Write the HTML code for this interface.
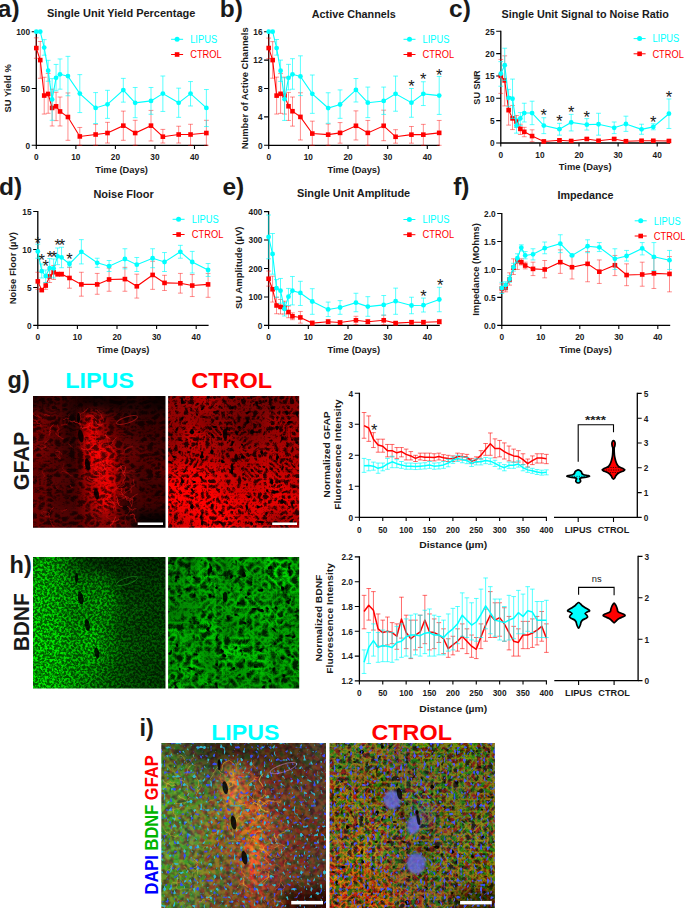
<!DOCTYPE html>
<html><head><meta charset="utf-8"><style>
html,body{margin:0;padding:0;background:#fff;width:685px;height:908px;overflow:hidden}
svg{display:block}
text{font-family:"Liberation Sans",sans-serif}
</style></head><body>
<svg width="685" height="908" viewBox="0 0 685 908">
<rect width="685" height="908" fill="#fff"/>
<text x="-2.2" y="16.6" font-size="24.5" font-weight="bold" text-anchor="start" dominant-baseline="alphabetic" fill="#1a1a1a">a)</text>
<text x="219.8" y="16.6" font-size="24.5" font-weight="bold" text-anchor="start" dominant-baseline="alphabetic" fill="#1a1a1a">b)</text>
<text x="449" y="17.1" font-size="24.5" font-weight="bold" text-anchor="start" dominant-baseline="alphabetic" fill="#1a1a1a">c)</text>
<text x="-1" y="194.5" font-size="24.5" font-weight="bold" text-anchor="start" dominant-baseline="alphabetic" fill="#1a1a1a">d)</text>
<text x="222.4" y="195.4" font-size="24.5" font-weight="bold" text-anchor="start" dominant-baseline="alphabetic" fill="#1a1a1a">e)</text>
<text x="453.2" y="194.5" font-size="24.5" font-weight="bold" text-anchor="start" dominant-baseline="alphabetic" fill="#1a1a1a">f)</text>
<text x="7.6" y="388.2" font-size="23.5" font-weight="bold" text-anchor="start" dominant-baseline="alphabetic" fill="#1a1a1a">g)</text>
<text x="9.6" y="573.2" font-size="23.5" font-weight="bold" text-anchor="start" dominant-baseline="alphabetic" fill="#1a1a1a">h)</text>
<text x="139.6" y="736" font-size="23.5" font-weight="bold" text-anchor="start" dominant-baseline="alphabetic" fill="#1a1a1a">i)</text>
<path d="M36.3 31.1V145.3H207.6" stroke="#000" stroke-width="1.3" fill="none"/>
<path d="M31.7 145.3H36.3M31.7 88.5H36.3M31.7 31.7H36.3M36.3 145.3V148.9M75.85 145.3V148.9M115.4 145.3V148.9M154.95 145.3V148.9M194.5 145.3V148.9" stroke="#000" stroke-width="1.1" fill="none"/>
<text x="30.1" y="145.6" font-size="8.3" font-weight="bold" text-anchor="end" dominant-baseline="central" fill="#1a1a1a">0</text>
<text x="30.1" y="88.8" font-size="8.3" font-weight="bold" text-anchor="end" dominant-baseline="central" fill="#1a1a1a">50</text>
<text x="30.1" y="32" font-size="8.3" font-weight="bold" text-anchor="end" dominant-baseline="central" fill="#1a1a1a">100</text>
<text x="36.3" y="157.2" font-size="8.3" font-weight="bold" text-anchor="middle" dominant-baseline="central" fill="#1a1a1a">0</text>
<text x="75.85" y="157.2" font-size="8.3" font-weight="bold" text-anchor="middle" dominant-baseline="central" fill="#1a1a1a">10</text>
<text x="115.4" y="157.2" font-size="8.3" font-weight="bold" text-anchor="middle" dominant-baseline="central" fill="#1a1a1a">20</text>
<text x="154.95" y="157.2" font-size="8.3" font-weight="bold" text-anchor="middle" dominant-baseline="central" fill="#1a1a1a">30</text>
<text x="194.5" y="157.2" font-size="8.3" font-weight="bold" text-anchor="middle" dominant-baseline="central" fill="#1a1a1a">40</text>
<path d="M36.3 37.83V58.28M33.9 37.83H38.7M33.9 58.28H38.7M40.25 41.47V78.28M37.85 41.47H42.65M37.85 78.28H42.65M44.21 77.25V114.06M41.81 77.25H46.61M41.81 114.06H46.61M48.16 73.5V113.26M45.77 73.5H50.56M45.77 113.26H50.56M52.12 89.18V125.99M49.72 89.18H54.52M49.72 125.99H54.52M56.07 92.25V120.65M53.67 92.25H58.47M53.67 120.65H58.47M60.03 97.02V125.99M57.63 97.02H62.43M57.63 125.99H62.43M67.94 92.93V140.3M65.54 92.93H70.34M65.54 140.3H70.34M79.81 127.46V145.3M77.41 127.46H82.21M77.41 145.3H82.21M95.62 124.28V145.3M93.22 124.28H98.03M93.22 145.3H98.03M107.49 122.35V143.03M105.09 122.35H109.89M105.09 143.03H109.89M123.31 111.11V140.3M120.91 111.11H125.71M120.91 140.3H125.71M135.18 120.31V145.3M132.78 120.31H137.58M132.78 145.3H137.58M151 110.42V140.98M148.59 110.42H153.4M148.59 140.98H153.4M162.86 129.4V143.03M160.46 129.4H165.26M160.46 143.03H165.26M178.68 126.22V143.03M176.28 126.22H181.08M176.28 143.03H181.08M190.55 124.28V145.3M188.15 124.28H192.95M188.15 145.3H192.95M206.37 120.31V145.3M203.97 120.31H208.77M203.97 145.3H208.77" stroke="#ff0000" stroke-opacity="0.45" stroke-width="1" fill="none"/>
<polyline points="36.3,48.06 40.25,60.1 44.21,95.54 48.16,93.95 52.12,107.93 56.07,106.34 60.03,111.45 67.94,117.01 79.81,136.44 95.62,134.51 107.49,133.03 123.31,125.65 135.18,133.03 151,125.65 162.86,136.67 178.68,134.51 190.55,134.51 206.37,133.03" stroke="#ff0000" stroke-width="1.1" fill="none"/>
<rect x="34" y="45.76" width="4.6" height="4.6" fill="#ff0000"/>
<rect x="37.95" y="57.8" width="4.6" height="4.6" fill="#ff0000"/>
<rect x="41.91" y="93.24" width="4.6" height="4.6" fill="#ff0000"/>
<rect x="45.87" y="91.65" width="4.6" height="4.6" fill="#ff0000"/>
<rect x="49.82" y="105.63" width="4.6" height="4.6" fill="#ff0000"/>
<rect x="53.77" y="104.04" width="4.6" height="4.6" fill="#ff0000"/>
<rect x="57.73" y="109.15" width="4.6" height="4.6" fill="#ff0000"/>
<rect x="65.64" y="114.71" width="4.6" height="4.6" fill="#ff0000"/>
<rect x="77.51" y="134.14" width="4.6" height="4.6" fill="#ff0000"/>
<rect x="93.33" y="132.21" width="4.6" height="4.6" fill="#ff0000"/>
<rect x="105.19" y="130.73" width="4.6" height="4.6" fill="#ff0000"/>
<rect x="121.01" y="123.35" width="4.6" height="4.6" fill="#ff0000"/>
<rect x="132.88" y="130.73" width="4.6" height="4.6" fill="#ff0000"/>
<rect x="148.69" y="123.35" width="4.6" height="4.6" fill="#ff0000"/>
<rect x="160.56" y="134.37" width="4.6" height="4.6" fill="#ff0000"/>
<rect x="176.38" y="132.21" width="4.6" height="4.6" fill="#ff0000"/>
<rect x="188.25" y="132.21" width="4.6" height="4.6" fill="#ff0000"/>
<rect x="204.06" y="130.73" width="4.6" height="4.6" fill="#ff0000"/>
<path d="M44.21 39.65V55.22M41.81 39.65H46.61M41.81 55.22H46.61M48.16 60.33V81.23M45.77 60.33H50.56M45.77 81.23H50.56M52.12 78.62V120.31M49.72 78.62H54.52M49.72 120.31H54.52M56.07 64.42V90.77M53.67 64.42H58.47M53.67 90.77H58.47M60.03 58.96V89.18M57.63 58.96H62.43M57.63 89.18H62.43M67.94 56.35V95.77M65.54 56.35H70.34M65.54 95.77H70.34M79.81 74.64V112.58M77.41 74.64H82.21M77.41 112.58H82.21M95.62 92.59V123.49M93.22 92.59H98.03M93.22 123.49H98.03M107.49 90.32V118.38M105.09 90.32H109.89M105.09 118.38H109.89M123.31 78.39V102.13M120.91 78.39H125.71M120.91 102.13H125.71M135.18 87.48V117.7M132.78 87.48H137.58M132.78 117.7H137.58M151 87.48V114.29M148.59 87.48H153.4M148.59 114.29H153.4M162.86 76V111.45M160.46 76H165.26M160.46 111.45H165.26M178.68 88.16V117.35M176.28 88.16H181.08M176.28 117.35H181.08M190.55 81.57V105.99M188.15 81.57H192.95M188.15 105.99H192.95M206.37 89.52V126.56M203.97 89.52H208.77M203.97 126.56H208.77" stroke="#00ffff" stroke-opacity="0.65" stroke-width="1" fill="none"/>
<polyline points="36.3,31.7 40.25,31.7 44.21,47.6 48.16,70.66 52.12,99.41 56.07,77.82 60.03,74.3 67.94,76.12 79.81,93.61 95.62,107.93 107.49,104.29 123.31,90.09 135.18,102.81 151,100.88 162.86,93.61 178.68,102.81 190.55,93.61 206.37,107.93" stroke="#00ffff" stroke-width="1.1" fill="none"/>
<circle cx="36.3" cy="31.7" r="2.4" fill="#00ffff"/>
<circle cx="40.25" cy="31.7" r="2.4" fill="#00ffff"/>
<circle cx="44.21" cy="47.6" r="2.4" fill="#00ffff"/>
<circle cx="48.16" cy="70.66" r="2.4" fill="#00ffff"/>
<circle cx="52.12" cy="99.41" r="2.4" fill="#00ffff"/>
<circle cx="56.07" cy="77.82" r="2.4" fill="#00ffff"/>
<circle cx="60.03" cy="74.3" r="2.4" fill="#00ffff"/>
<circle cx="67.94" cy="76.12" r="2.4" fill="#00ffff"/>
<circle cx="79.81" cy="93.61" r="2.4" fill="#00ffff"/>
<circle cx="95.62" cy="107.93" r="2.4" fill="#00ffff"/>
<circle cx="107.49" cy="104.29" r="2.4" fill="#00ffff"/>
<circle cx="123.31" cy="90.09" r="2.4" fill="#00ffff"/>
<circle cx="135.18" cy="102.81" r="2.4" fill="#00ffff"/>
<circle cx="151" cy="100.88" r="2.4" fill="#00ffff"/>
<circle cx="162.86" cy="93.61" r="2.4" fill="#00ffff"/>
<circle cx="178.68" cy="102.81" r="2.4" fill="#00ffff"/>
<circle cx="190.55" cy="93.61" r="2.4" fill="#00ffff"/>
<circle cx="206.37" cy="107.93" r="2.4" fill="#00ffff"/>
<text x="121.2" y="13.4" font-size="11" font-weight="bold" text-anchor="middle" dominant-baseline="central" fill="#1a1a1a" textLength="148.4" lengthAdjust="spacingAndGlyphs">Single Unit Yield Percentage</text>
<text x="121.6" y="169.7" font-size="9.3" font-weight="bold" text-anchor="middle" dominant-baseline="central" fill="#1a1a1a" textLength="52.7" lengthAdjust="spacingAndGlyphs">Time (Days)</text>
<text transform="translate(7.5 88.3) rotate(-90)" x="0" y="0" font-size="9.3" font-weight="bold" text-anchor="middle" dominant-baseline="central" fill="#1a1a1a" textLength="48.5" lengthAdjust="spacingAndGlyphs">SU Yield %</text>
<path d="M171.1 39.3H183.1" stroke="#00ffff" stroke-width="1"/>
<circle cx="177.1" cy="39.3" r="2.5" fill="#00ffff"/>
<path d="M171.1 54.5H183.1" stroke="#ff0000" stroke-width="1"/>
<rect x="174.8" y="52.2" width="4.6" height="4.6" fill="#ff0000"/>
<text x="190.2" y="39.5" font-size="10" font-weight="normal" text-anchor="start" dominant-baseline="central" fill="#00ffff" textLength="26.9" lengthAdjust="spacingAndGlyphs">LIPUS</text>
<text x="190.2" y="54.7" font-size="10" font-weight="normal" text-anchor="start" dominant-baseline="central" fill="#ff0000" textLength="31.6" lengthAdjust="spacingAndGlyphs">CTROL</text>
<path d="M268.7 31.1V145.3H439.6" stroke="#000" stroke-width="1.3" fill="none"/>
<path d="M264.1 145.3H268.7M264.1 116.9H268.7M264.1 88.5H268.7M264.1 60.1H268.7M264.1 31.7H268.7M268.7 145.3V148.9M308.35 145.3V148.9M348 145.3V148.9M387.65 145.3V148.9M427.3 145.3V148.9" stroke="#000" stroke-width="1.1" fill="none"/>
<text x="262.5" y="145.6" font-size="8.3" font-weight="bold" text-anchor="end" dominant-baseline="central" fill="#1a1a1a">0</text>
<text x="262.5" y="117.2" font-size="8.3" font-weight="bold" text-anchor="end" dominant-baseline="central" fill="#1a1a1a">4</text>
<text x="262.5" y="88.8" font-size="8.3" font-weight="bold" text-anchor="end" dominant-baseline="central" fill="#1a1a1a">8</text>
<text x="262.5" y="60.4" font-size="8.3" font-weight="bold" text-anchor="end" dominant-baseline="central" fill="#1a1a1a">12</text>
<text x="262.5" y="32" font-size="8.3" font-weight="bold" text-anchor="end" dominant-baseline="central" fill="#1a1a1a">16</text>
<text x="268.7" y="157.2" font-size="8.3" font-weight="bold" text-anchor="middle" dominant-baseline="central" fill="#1a1a1a">0</text>
<text x="308.35" y="157.2" font-size="8.3" font-weight="bold" text-anchor="middle" dominant-baseline="central" fill="#1a1a1a">10</text>
<text x="348" y="157.2" font-size="8.3" font-weight="bold" text-anchor="middle" dominant-baseline="central" fill="#1a1a1a">20</text>
<text x="387.65" y="157.2" font-size="8.3" font-weight="bold" text-anchor="middle" dominant-baseline="central" fill="#1a1a1a">30</text>
<text x="427.3" y="157.2" font-size="8.3" font-weight="bold" text-anchor="middle" dominant-baseline="central" fill="#1a1a1a">40</text>
<path d="M268.7 38.09V58.68M266.3 38.09H271.1M266.3 58.68H271.1M272.66 41.64V78.21M270.26 41.64H275.06M270.26 78.21H275.06M276.63 77.14V114.06M274.23 77.14H279.03M274.23 114.06H279.03M280.59 73.59V113.35M278.19 73.59H282.99M278.19 113.35H282.99M284.56 77.14V114.06M282.16 77.14H286.96M282.16 114.06H286.96M288.52 92.41V120.45M286.12 92.41H290.92M286.12 120.45H290.92M292.49 97.02V126.13M290.09 97.02H294.89M290.09 126.13H294.89M300.42 92.76V139.98M298.02 92.76H302.82M298.02 139.98H302.82M312.31 121.16V145.3M309.92 121.16H314.71M309.92 145.3H314.71M328.17 124V145.3M325.77 124H330.57M325.77 145.3H330.57M340.07 122.58V143.17M337.67 122.58H342.47M337.67 143.17H342.47M355.93 110.87V139.98M353.53 110.87H358.33M353.53 139.98H358.33M367.82 120.45V145.3M365.43 120.45H370.22M365.43 145.3H370.22M383.69 110.16V140.69M381.29 110.16H386.08M381.29 140.69H386.08M395.58 129.68V143.17M393.18 129.68H397.98M393.18 143.17H397.98M411.44 126.49V143.17M409.04 126.49H413.84M409.04 143.17H413.84M423.33 124.36V145.3M420.94 124.36H425.73M420.94 145.3H425.73M439.19 120.45V145.3M436.8 120.45H441.59M436.8 145.3H441.59" stroke="#ff0000" stroke-opacity="0.45" stroke-width="1" fill="none"/>
<polyline points="268.7,48.03 272.66,60.1 276.63,95.6 280.59,93.83 284.56,95.6 288.52,106.25 292.49,111.22 300.42,116.9 312.31,133.59 328.17,134.65 340.07,132.88 355.93,125.78 367.82,132.88 383.69,125.78 395.58,136.78 411.44,134.65 423.33,134.65 439.19,132.88" stroke="#ff0000" stroke-width="1.1" fill="none"/>
<rect x="266.4" y="45.73" width="4.6" height="4.6" fill="#ff0000"/>
<rect x="270.36" y="57.8" width="4.6" height="4.6" fill="#ff0000"/>
<rect x="274.33" y="93.3" width="4.6" height="4.6" fill="#ff0000"/>
<rect x="278.29" y="91.53" width="4.6" height="4.6" fill="#ff0000"/>
<rect x="282.26" y="93.3" width="4.6" height="4.6" fill="#ff0000"/>
<rect x="286.22" y="103.95" width="4.6" height="4.6" fill="#ff0000"/>
<rect x="290.19" y="108.92" width="4.6" height="4.6" fill="#ff0000"/>
<rect x="298.12" y="114.6" width="4.6" height="4.6" fill="#ff0000"/>
<rect x="310.01" y="131.28" width="4.6" height="4.6" fill="#ff0000"/>
<rect x="325.87" y="132.35" width="4.6" height="4.6" fill="#ff0000"/>
<rect x="337.77" y="130.57" width="4.6" height="4.6" fill="#ff0000"/>
<rect x="353.63" y="123.48" width="4.6" height="4.6" fill="#ff0000"/>
<rect x="365.52" y="130.57" width="4.6" height="4.6" fill="#ff0000"/>
<rect x="381.38" y="123.48" width="4.6" height="4.6" fill="#ff0000"/>
<rect x="393.28" y="134.48" width="4.6" height="4.6" fill="#ff0000"/>
<rect x="409.14" y="132.35" width="4.6" height="4.6" fill="#ff0000"/>
<rect x="421.03" y="132.35" width="4.6" height="4.6" fill="#ff0000"/>
<rect x="436.89" y="130.57" width="4.6" height="4.6" fill="#ff0000"/>
<path d="M276.63 39.51V55.13M274.23 39.51H279.03M274.23 55.13H279.03M280.59 60.1V81.4M278.19 60.1H282.99M278.19 81.4H282.99M284.56 77.85V120.45M282.16 77.85H286.96M282.16 120.45H286.96M288.52 64.36V89.92M286.12 64.36H290.92M286.12 89.92H290.92M292.49 58.68V89.21M290.09 58.68H294.89M290.09 89.21H294.89M300.42 55.84V95.6M298.02 55.84H302.82M298.02 95.6H302.82M312.31 75.01V113.35M309.92 75.01H314.71M309.92 113.35H314.71M328.17 92.76V123.29M325.77 92.76H330.57M325.77 123.29H330.57M340.07 89.92V118.32M337.67 89.92H342.47M337.67 118.32H342.47M355.93 78.56V101.99M353.53 78.56H358.33M353.53 101.99H358.33M367.82 87.08V117.61M365.43 87.08H370.22M365.43 117.61H370.22M383.69 87.08V114.42M381.29 87.08H386.08M381.29 114.42H386.08M395.58 76.08V111.22M393.18 76.08H397.98M393.18 111.22H397.98M411.44 88.5V117.26M409.04 88.5H413.84M409.04 117.26H413.84M423.33 81.76V105.54M420.94 81.76H425.73M420.94 105.54H425.73M439.19 76.43V114.42M436.8 76.43H441.59M436.8 114.42H441.59" stroke="#00ffff" stroke-opacity="0.65" stroke-width="1" fill="none"/>
<polyline points="268.7,31.7 272.66,31.7 276.63,48.03 280.59,70.75 284.56,99.15 288.52,77.85 292.49,74.3 300.42,76.43 312.31,93.83 328.17,108.03 340.07,104.48 355.93,89.92 367.82,102.7 383.69,100.93 395.58,93.83 411.44,102.7 423.33,93.83 439.19,95.6" stroke="#00ffff" stroke-width="1.1" fill="none"/>
<circle cx="268.7" cy="31.7" r="2.4" fill="#00ffff"/>
<circle cx="272.66" cy="31.7" r="2.4" fill="#00ffff"/>
<circle cx="276.63" cy="48.03" r="2.4" fill="#00ffff"/>
<circle cx="280.59" cy="70.75" r="2.4" fill="#00ffff"/>
<circle cx="284.56" cy="99.15" r="2.4" fill="#00ffff"/>
<circle cx="288.52" cy="77.85" r="2.4" fill="#00ffff"/>
<circle cx="292.49" cy="74.3" r="2.4" fill="#00ffff"/>
<circle cx="300.42" cy="76.43" r="2.4" fill="#00ffff"/>
<circle cx="312.31" cy="93.83" r="2.4" fill="#00ffff"/>
<circle cx="328.17" cy="108.03" r="2.4" fill="#00ffff"/>
<circle cx="340.07" cy="104.48" r="2.4" fill="#00ffff"/>
<circle cx="355.93" cy="89.92" r="2.4" fill="#00ffff"/>
<circle cx="367.82" cy="102.7" r="2.4" fill="#00ffff"/>
<circle cx="383.69" cy="100.93" r="2.4" fill="#00ffff"/>
<circle cx="395.58" cy="93.83" r="2.4" fill="#00ffff"/>
<circle cx="411.44" cy="102.7" r="2.4" fill="#00ffff"/>
<circle cx="423.33" cy="93.83" r="2.4" fill="#00ffff"/>
<circle cx="439.19" cy="95.6" r="2.4" fill="#00ffff"/>
<text x="411.44" y="91.75" font-size="16.5" font-weight="normal" text-anchor="middle" dominant-baseline="alphabetic" fill="#1a1a1a">*</text>
<text x="423.33" y="84.75" font-size="16.5" font-weight="normal" text-anchor="middle" dominant-baseline="alphabetic" fill="#1a1a1a">*</text>
<text x="439.19" y="80.56" font-size="16.5" font-weight="normal" text-anchor="middle" dominant-baseline="alphabetic" fill="#1a1a1a">*</text>
<text x="353.8" y="13.7" font-size="11" font-weight="bold" text-anchor="middle" dominant-baseline="central" fill="#1a1a1a" textLength="84" lengthAdjust="spacingAndGlyphs">Active Channels</text>
<text x="353.8" y="169.7" font-size="9.3" font-weight="bold" text-anchor="middle" dominant-baseline="central" fill="#1a1a1a" textLength="52.7" lengthAdjust="spacingAndGlyphs">Time (Days)</text>
<text transform="translate(244.6 88.3) rotate(-90)" x="0" y="0" font-size="9.3" font-weight="bold" text-anchor="middle" dominant-baseline="central" fill="#1a1a1a" textLength="121.8" lengthAdjust="spacingAndGlyphs">Number of Active Channels</text>
<path d="M403.5 39.3H415.5" stroke="#00ffff" stroke-width="1"/>
<circle cx="409.5" cy="39.3" r="2.5" fill="#00ffff"/>
<path d="M403.5 54.5H415.5" stroke="#ff0000" stroke-width="1"/>
<rect x="407.2" y="52.2" width="4.6" height="4.6" fill="#ff0000"/>
<text x="422.5" y="39.5" font-size="10" font-weight="normal" text-anchor="start" dominant-baseline="central" fill="#00ffff" textLength="26.9" lengthAdjust="spacingAndGlyphs">LIPUS</text>
<text x="422.5" y="54.7" font-size="10" font-weight="normal" text-anchor="start" dominant-baseline="central" fill="#ff0000" textLength="31.6" lengthAdjust="spacingAndGlyphs">CTROL</text>
<path d="M500.8 30.65V143H670" stroke="#000" stroke-width="1.3" fill="none"/>
<path d="M496.2 143H500.8M496.2 120.65H500.8M496.2 98.3H500.8M496.2 75.95H500.8M496.2 53.6H500.8M496.2 31.25H500.8M500.8 143V146.6M539.9 143V146.6M579 143V146.6M618.1 143V146.6M657.2 143V146.6" stroke="#000" stroke-width="1.1" fill="none"/>
<text x="494.6" y="143.3" font-size="8.3" font-weight="bold" text-anchor="end" dominant-baseline="central" fill="#1a1a1a">0</text>
<text x="494.6" y="120.95" font-size="8.3" font-weight="bold" text-anchor="end" dominant-baseline="central" fill="#1a1a1a">5</text>
<text x="494.6" y="98.6" font-size="8.3" font-weight="bold" text-anchor="end" dominant-baseline="central" fill="#1a1a1a">10</text>
<text x="494.6" y="76.25" font-size="8.3" font-weight="bold" text-anchor="end" dominant-baseline="central" fill="#1a1a1a">15</text>
<text x="494.6" y="53.9" font-size="8.3" font-weight="bold" text-anchor="end" dominant-baseline="central" fill="#1a1a1a">20</text>
<text x="494.6" y="31.55" font-size="8.3" font-weight="bold" text-anchor="end" dominant-baseline="central" fill="#1a1a1a">25</text>
<text x="500.8" y="154.9" font-size="8.3" font-weight="bold" text-anchor="middle" dominant-baseline="central" fill="#1a1a1a">0</text>
<text x="539.9" y="154.9" font-size="8.3" font-weight="bold" text-anchor="middle" dominant-baseline="central" fill="#1a1a1a">10</text>
<text x="579" y="154.9" font-size="8.3" font-weight="bold" text-anchor="middle" dominant-baseline="central" fill="#1a1a1a">20</text>
<text x="618.1" y="154.9" font-size="8.3" font-weight="bold" text-anchor="middle" dominant-baseline="central" fill="#1a1a1a">30</text>
<text x="657.2" y="154.9" font-size="8.3" font-weight="bold" text-anchor="middle" dominant-baseline="central" fill="#1a1a1a">40</text>
<path d="M500.8 59.41V93.38M498.4 59.41H503.2M498.4 93.38H503.2M504.71 55.84V105.9M502.31 55.84H507.11M502.31 105.9H507.11M508.62 96.51V125.12M506.22 96.51H511.02M506.22 125.12H511.02M512.53 105.45V129.59M510.13 105.45H514.93M510.13 129.59H514.93M516.44 115.51V127.36M514.04 115.51H518.84M514.04 127.36H518.84M520.35 124.23V134.51M517.95 124.23H522.75M517.95 134.51H522.75M524.26 127.36V136.74M521.86 127.36H526.66M521.86 136.74H526.66M532.08 129.81V141.66M529.68 129.81H534.48M529.68 141.66H534.48M543.81 140.32V142.55M541.41 140.32H546.21M541.41 142.55H546.21M559.45 138.98V141.66M557.05 138.98H561.85M557.05 141.66H561.85M571.18 139.87V142.11M568.78 139.87H573.58M568.78 142.11H573.58M586.82 137.64V140.32M584.42 137.64H589.22M584.42 140.32H589.22M598.55 139.87V141.66M596.15 139.87H600.95M596.15 141.66H600.95M614.19 137.64V140.32M611.79 137.64H616.59M611.79 140.32H616.59M625.92 140.32V142.11M623.52 140.32H628.32M623.52 142.11H628.32M641.56 139.87V141.66M639.16 139.87H643.96M639.16 141.66H643.96M653.29 139.87V141.66M650.89 139.87H655.69M650.89 141.66H655.69M668.93 139.87V142.11M666.53 139.87H671.33M666.53 142.11H671.33" stroke="#ff0000" stroke-opacity="0.45" stroke-width="1" fill="none"/>
<polyline points="500.8,75.95 504.71,80.42 508.62,110.15 512.53,118.42 516.44,121.54 520.35,128.92 524.26,131.82 532.08,136.07 543.81,141.44 559.45,140.32 571.18,140.99 586.82,138.98 598.55,140.76 614.19,138.98 625.92,141.21 641.56,140.76 653.29,140.76 668.93,140.99" stroke="#ff0000" stroke-width="1.1" fill="none"/>
<rect x="498.5" y="73.65" width="4.6" height="4.6" fill="#ff0000"/>
<rect x="502.41" y="78.12" width="4.6" height="4.6" fill="#ff0000"/>
<rect x="506.32" y="107.85" width="4.6" height="4.6" fill="#ff0000"/>
<rect x="510.23" y="116.12" width="4.6" height="4.6" fill="#ff0000"/>
<rect x="514.14" y="119.24" width="4.6" height="4.6" fill="#ff0000"/>
<rect x="518.05" y="126.62" width="4.6" height="4.6" fill="#ff0000"/>
<rect x="521.96" y="129.52" width="4.6" height="4.6" fill="#ff0000"/>
<rect x="529.78" y="133.77" width="4.6" height="4.6" fill="#ff0000"/>
<rect x="541.51" y="139.14" width="4.6" height="4.6" fill="#ff0000"/>
<rect x="557.15" y="138.02" width="4.6" height="4.6" fill="#ff0000"/>
<rect x="568.88" y="138.69" width="4.6" height="4.6" fill="#ff0000"/>
<rect x="584.52" y="136.68" width="4.6" height="4.6" fill="#ff0000"/>
<rect x="596.25" y="138.46" width="4.6" height="4.6" fill="#ff0000"/>
<rect x="611.89" y="136.68" width="4.6" height="4.6" fill="#ff0000"/>
<rect x="623.62" y="138.91" width="4.6" height="4.6" fill="#ff0000"/>
<rect x="639.26" y="138.46" width="4.6" height="4.6" fill="#ff0000"/>
<rect x="650.99" y="138.46" width="4.6" height="4.6" fill="#ff0000"/>
<rect x="666.63" y="138.69" width="4.6" height="4.6" fill="#ff0000"/>
<path d="M500.8 61.65V86.23M498.4 61.65H503.2M498.4 86.23H503.2M504.71 48.24V80.42M502.31 48.24H507.11M502.31 80.42H507.11M508.62 89.36V106.79M506.22 89.36H511.02M506.22 106.79H511.02M512.53 79.08V118.42M510.13 79.08H514.93M510.13 118.42H514.93M516.44 118.42V133.17M514.04 118.42H518.84M514.04 133.17H518.84M520.35 112.6V125.57M517.95 112.6H522.75M517.95 125.57H522.75M524.26 103.22V121.99M521.86 103.22H526.66M521.86 121.99H526.66M532.08 101.21V124.67M529.68 101.21H534.48M529.68 124.67H534.48M543.81 117.74V133.61M541.41 117.74H546.21M541.41 133.61H546.21M559.45 123.33V135.18M557.05 123.33H561.85M557.05 135.18H561.85M571.18 114.39V130.93M568.78 114.39H573.58M568.78 130.93H573.58M586.82 118.64V130.04M584.42 118.64H589.22M584.42 130.04H589.22M598.55 113.27V135.18M596.15 113.27H600.95M596.15 135.18H600.95M614.19 121.99V133.61M611.79 121.99H616.59M611.79 133.61H616.59M625.92 116.18V131.38M623.52 116.18H628.32M623.52 131.38H628.32M641.56 124.23V134.28M639.16 124.23H643.96M639.16 134.28H643.96M653.29 123.78V129.81M650.89 123.78H655.69M650.89 129.81H655.69M668.93 98.97V128.47M666.53 98.97H671.33M666.53 128.47H671.33" stroke="#00ffff" stroke-opacity="0.65" stroke-width="1" fill="none"/>
<polyline points="500.8,73.72 504.71,65.22 508.62,97.85 512.53,98.75 516.44,125.57 520.35,118.42 524.26,113.05 532.08,113.05 543.81,125.57 559.45,129.14 571.18,122.44 586.82,124.67 598.55,124.23 614.19,127.8 625.92,124 641.56,129.37 653.29,126.91 668.93,113.72" stroke="#00ffff" stroke-width="1.1" fill="none"/>
<circle cx="500.8" cy="73.72" r="2.4" fill="#00ffff"/>
<circle cx="504.71" cy="65.22" r="2.4" fill="#00ffff"/>
<circle cx="508.62" cy="97.85" r="2.4" fill="#00ffff"/>
<circle cx="512.53" cy="98.75" r="2.4" fill="#00ffff"/>
<circle cx="516.44" cy="125.57" r="2.4" fill="#00ffff"/>
<circle cx="520.35" cy="118.42" r="2.4" fill="#00ffff"/>
<circle cx="524.26" cy="113.05" r="2.4" fill="#00ffff"/>
<circle cx="532.08" cy="113.05" r="2.4" fill="#00ffff"/>
<circle cx="543.81" cy="125.57" r="2.4" fill="#00ffff"/>
<circle cx="559.45" cy="129.14" r="2.4" fill="#00ffff"/>
<circle cx="571.18" cy="122.44" r="2.4" fill="#00ffff"/>
<circle cx="586.82" cy="124.67" r="2.4" fill="#00ffff"/>
<circle cx="598.55" cy="124.23" r="2.4" fill="#00ffff"/>
<circle cx="614.19" cy="127.8" r="2.4" fill="#00ffff"/>
<circle cx="625.92" cy="124" r="2.4" fill="#00ffff"/>
<circle cx="641.56" cy="129.37" r="2.4" fill="#00ffff"/>
<circle cx="653.29" cy="126.91" r="2.4" fill="#00ffff"/>
<circle cx="668.93" cy="113.72" r="2.4" fill="#00ffff"/>
<text x="543.81" y="121.45" font-size="16.5" font-weight="normal" text-anchor="middle" dominant-baseline="alphabetic" fill="#1a1a1a">*</text>
<text x="559.45" y="127.25" font-size="16.5" font-weight="normal" text-anchor="middle" dominant-baseline="alphabetic" fill="#1a1a1a">*</text>
<text x="571.18" y="118.06" font-size="16.5" font-weight="normal" text-anchor="middle" dominant-baseline="alphabetic" fill="#1a1a1a">*</text>
<text x="586.82" y="122.95" font-size="16.5" font-weight="normal" text-anchor="middle" dominant-baseline="alphabetic" fill="#1a1a1a">*</text>
<text x="653.29" y="128.35" font-size="16.5" font-weight="normal" text-anchor="middle" dominant-baseline="alphabetic" fill="#1a1a1a">*</text>
<text x="668.93" y="103.45" font-size="16.5" font-weight="normal" text-anchor="middle" dominant-baseline="alphabetic" fill="#1a1a1a">*</text>
<text x="585.2" y="13.7" font-size="11" font-weight="bold" text-anchor="middle" dominant-baseline="central" fill="#1a1a1a" textLength="167.4" lengthAdjust="spacingAndGlyphs">Single Unit Signal to Noise Ratio</text>
<text x="585.2" y="167.4" font-size="9.3" font-weight="bold" text-anchor="middle" dominant-baseline="central" fill="#1a1a1a" textLength="52.7" lengthAdjust="spacingAndGlyphs">Time (Days)</text>
<text transform="translate(477.4 87.5) rotate(-90)" x="0" y="0" font-size="9.3" font-weight="bold" text-anchor="middle" dominant-baseline="central" fill="#1a1a1a" textLength="34.3" lengthAdjust="spacingAndGlyphs">SU SNR</text>
<path d="M633.6 38.6H645.6" stroke="#00ffff" stroke-width="1"/>
<circle cx="639.6" cy="38.6" r="2.5" fill="#00ffff"/>
<path d="M633.6 53.8H645.6" stroke="#ff0000" stroke-width="1"/>
<rect x="637.3" y="51.5" width="4.6" height="4.6" fill="#ff0000"/>
<text x="652.4" y="38.8" font-size="10" font-weight="normal" text-anchor="start" dominant-baseline="central" fill="#00ffff" textLength="26.9" lengthAdjust="spacingAndGlyphs">LIPUS</text>
<text x="652.4" y="54" font-size="10" font-weight="normal" text-anchor="start" dominant-baseline="central" fill="#ff0000" textLength="31.6" lengthAdjust="spacingAndGlyphs">CTROL</text>
<path d="M37.8 210.95V325.4H208.6" stroke="#000" stroke-width="1.3" fill="none"/>
<path d="M33.2 325.4H37.8M33.2 287.45H37.8M33.2 249.5H37.8M33.2 211.55H37.8M37.8 325.4V329M77.4 325.4V329M117 325.4V329M156.6 325.4V329M196.2 325.4V329" stroke="#000" stroke-width="1.1" fill="none"/>
<text x="31.6" y="325.7" font-size="8.3" font-weight="bold" text-anchor="end" dominant-baseline="central" fill="#1a1a1a">0</text>
<text x="31.6" y="287.75" font-size="8.3" font-weight="bold" text-anchor="end" dominant-baseline="central" fill="#1a1a1a">5</text>
<text x="31.6" y="249.8" font-size="8.3" font-weight="bold" text-anchor="end" dominant-baseline="central" fill="#1a1a1a">10</text>
<text x="31.6" y="211.85" font-size="8.3" font-weight="bold" text-anchor="end" dominant-baseline="central" fill="#1a1a1a">15</text>
<text x="37.8" y="337.3" font-size="8.3" font-weight="bold" text-anchor="middle" dominant-baseline="central" fill="#1a1a1a">0</text>
<text x="77.4" y="337.3" font-size="8.3" font-weight="bold" text-anchor="middle" dominant-baseline="central" fill="#1a1a1a">10</text>
<text x="117" y="337.3" font-size="8.3" font-weight="bold" text-anchor="middle" dominant-baseline="central" fill="#1a1a1a">20</text>
<text x="156.6" y="337.3" font-size="8.3" font-weight="bold" text-anchor="middle" dominant-baseline="central" fill="#1a1a1a">30</text>
<text x="196.2" y="337.3" font-size="8.3" font-weight="bold" text-anchor="middle" dominant-baseline="central" fill="#1a1a1a">40</text>
<path d="M37.8 272.27V289.35M35.4 272.27H40.2M35.4 289.35H40.2M41.76 288.97V291.25M39.36 288.97H44.16M39.36 291.25H44.16M45.72 282.52V289.35M43.32 282.52H48.12M43.32 289.35H48.12M49.68 269.23V282.52M47.28 269.23H52.08M47.28 282.52H52.08M53.64 265.44V279.48M51.24 265.44H56.04M51.24 279.48H56.04M57.6 272.27V276.06M55.2 272.27H60M55.2 276.06H60M61.56 272.27V276.06M59.16 272.27H63.96M59.16 276.06H63.96M69.48 267.34V288.21M67.08 267.34H71.88M67.08 288.21H71.88M81.36 272.27V296.18M78.96 272.27H83.76M78.96 296.18H83.76M97.2 273.41V294.28M94.8 273.41H99.6M94.8 294.28H99.6M109.08 268.1V291.25M106.68 268.1H111.48M106.68 291.25H111.48M124.92 267.34V291.25M122.52 267.34H127.32M122.52 291.25H127.32M136.8 274.17V298.08M134.4 274.17H139.2M134.4 298.08H139.2M152.64 261.26V289.35M150.24 261.26H155.04M150.24 289.35H155.04M164.52 275.31V290.49M162.12 275.31H166.92M162.12 290.49H166.92M180.36 273.41V293.14M177.96 273.41H182.76M177.96 293.14H182.76M192.24 274.55V296.56M189.84 274.55H194.64M189.84 296.56H194.64M208.08 273.41V297.32M205.68 273.41H210.48M205.68 297.32H210.48" stroke="#ff0000" stroke-opacity="0.45" stroke-width="1" fill="none"/>
<polyline points="37.8,281.38 41.76,290.11 45.72,285.55 49.68,276.44 53.64,272.27 57.6,274.17 61.56,274.17 69.48,277.96 81.36,284.41 97.2,284.41 109.08,279.48 124.92,279.1 136.8,286.31 152.64,274.93 164.52,282.9 180.36,283.28 192.24,285.55 208.08,284.41" stroke="#ff0000" stroke-width="1.1" fill="none"/>
<rect x="35.5" y="279.08" width="4.6" height="4.6" fill="#ff0000"/>
<rect x="39.46" y="287.81" width="4.6" height="4.6" fill="#ff0000"/>
<rect x="43.42" y="283.25" width="4.6" height="4.6" fill="#ff0000"/>
<rect x="47.38" y="274.14" width="4.6" height="4.6" fill="#ff0000"/>
<rect x="51.34" y="269.97" width="4.6" height="4.6" fill="#ff0000"/>
<rect x="55.3" y="271.87" width="4.6" height="4.6" fill="#ff0000"/>
<rect x="59.26" y="271.87" width="4.6" height="4.6" fill="#ff0000"/>
<rect x="67.18" y="275.66" width="4.6" height="4.6" fill="#ff0000"/>
<rect x="79.06" y="282.11" width="4.6" height="4.6" fill="#ff0000"/>
<rect x="94.9" y="282.11" width="4.6" height="4.6" fill="#ff0000"/>
<rect x="106.78" y="277.18" width="4.6" height="4.6" fill="#ff0000"/>
<rect x="122.62" y="276.8" width="4.6" height="4.6" fill="#ff0000"/>
<rect x="134.5" y="284.01" width="4.6" height="4.6" fill="#ff0000"/>
<rect x="150.34" y="272.63" width="4.6" height="4.6" fill="#ff0000"/>
<rect x="162.22" y="280.6" width="4.6" height="4.6" fill="#ff0000"/>
<rect x="178.06" y="280.98" width="4.6" height="4.6" fill="#ff0000"/>
<rect x="189.94" y="283.25" width="4.6" height="4.6" fill="#ff0000"/>
<rect x="205.78" y="282.11" width="4.6" height="4.6" fill="#ff0000"/>
<path d="M37.8 244.19V258.23M35.4 244.19H40.2M35.4 258.23H40.2M41.76 263.92V277.96M39.36 263.92H44.16M39.36 277.96H44.16M45.72 269.99V282.52M43.32 269.99H48.12M43.32 282.52H48.12M49.68 258.61V277.2M47.28 258.61H52.08M47.28 277.2H52.08M53.64 258.99V277.96M51.24 258.99H56.04M51.24 277.96H56.04M57.6 247.98V264.68M55.2 247.98H60M55.2 264.68H60M61.56 247.22V267.72M59.16 247.22H63.96M59.16 267.72H63.96M69.48 261.26V266.96M67.08 261.26H71.88M67.08 266.96H71.88M81.36 239.63V263.92M78.96 239.63H83.76M78.96 263.92H83.76M97.2 258.23V267.34M94.8 258.23H99.6M94.8 267.34H99.6M109.08 260.51V271.51M106.68 260.51H111.48M106.68 271.51H111.48M124.92 248.74V268.85M122.52 248.74H127.32M122.52 268.85H127.32M136.8 257.47V271.51M134.4 257.47H139.2M134.4 271.51H139.2M152.64 248.74V267.72M150.24 248.74H155.04M150.24 267.72H155.04M164.52 252.54V271.51M162.12 252.54H166.92M162.12 271.51H166.92M180.36 245.33V258.23M177.96 245.33H182.76M177.96 258.23H182.76M192.24 251.4V273.03M189.84 251.4H194.64M189.84 273.03H194.64M208.08 263.54V276.44M205.68 263.54H210.48M205.68 276.44H210.48" stroke="#00ffff" stroke-opacity="0.65" stroke-width="1" fill="none"/>
<polyline points="37.8,251.4 41.76,271.13 45.72,276.06 49.68,268.1 53.64,268.47 57.6,256.33 61.56,257.47 69.48,263.92 81.36,251.78 97.2,262.78 109.08,266.2 124.92,258.99 136.8,264.68 152.64,258.23 164.52,262.02 180.36,251.78 192.24,262.02 208.08,269.99" stroke="#00ffff" stroke-width="1.1" fill="none"/>
<circle cx="37.8" cy="251.4" r="2.4" fill="#00ffff"/>
<circle cx="41.76" cy="271.13" r="2.4" fill="#00ffff"/>
<circle cx="45.72" cy="276.06" r="2.4" fill="#00ffff"/>
<circle cx="49.68" cy="268.1" r="2.4" fill="#00ffff"/>
<circle cx="53.64" cy="268.47" r="2.4" fill="#00ffff"/>
<circle cx="57.6" cy="256.33" r="2.4" fill="#00ffff"/>
<circle cx="61.56" cy="257.47" r="2.4" fill="#00ffff"/>
<circle cx="69.48" cy="263.92" r="2.4" fill="#00ffff"/>
<circle cx="81.36" cy="251.78" r="2.4" fill="#00ffff"/>
<circle cx="97.2" cy="262.78" r="2.4" fill="#00ffff"/>
<circle cx="109.08" cy="266.2" r="2.4" fill="#00ffff"/>
<circle cx="124.92" cy="258.99" r="2.4" fill="#00ffff"/>
<circle cx="136.8" cy="264.68" r="2.4" fill="#00ffff"/>
<circle cx="152.64" cy="258.23" r="2.4" fill="#00ffff"/>
<circle cx="164.52" cy="262.02" r="2.4" fill="#00ffff"/>
<circle cx="180.36" cy="251.78" r="2.4" fill="#00ffff"/>
<circle cx="192.24" cy="262.02" r="2.4" fill="#00ffff"/>
<circle cx="208.08" cy="269.99" r="2.4" fill="#00ffff"/>
<text x="37.8" y="249.16" font-size="16.5" font-weight="normal" text-anchor="middle" dominant-baseline="alphabetic" fill="#1a1a1a">*</text>
<text x="41.76" y="265.55" font-size="16.5" font-weight="normal" text-anchor="middle" dominant-baseline="alphabetic" fill="#1a1a1a">*</text>
<text x="45.72" y="272.25" font-size="16.5" font-weight="normal" text-anchor="middle" dominant-baseline="alphabetic" fill="#1a1a1a">*</text>
<text x="50.08" y="263.45" font-size="16.5" font-weight="normal" text-anchor="middle" dominant-baseline="alphabetic" fill="#1a1a1a">*</text>
<text x="54.04" y="263.45" font-size="16.5" font-weight="normal" text-anchor="middle" dominant-baseline="alphabetic" fill="#1a1a1a">*</text>
<text x="57.6" y="251.35" font-size="16.5" font-weight="normal" text-anchor="middle" dominant-baseline="alphabetic" fill="#1a1a1a">*</text>
<text x="61.96" y="251.35" font-size="16.5" font-weight="normal" text-anchor="middle" dominant-baseline="alphabetic" fill="#1a1a1a">*</text>
<text x="69.48" y="265.25" font-size="16.5" font-weight="normal" text-anchor="middle" dominant-baseline="alphabetic" fill="#1a1a1a">*</text>
<text x="123.6" y="193.5" font-size="11" font-weight="bold" text-anchor="middle" dominant-baseline="central" fill="#1a1a1a" textLength="60.4" lengthAdjust="spacingAndGlyphs">Noise Floor</text>
<text x="123.1" y="349.8" font-size="9.3" font-weight="bold" text-anchor="middle" dominant-baseline="central" fill="#1a1a1a" textLength="52.7" lengthAdjust="spacingAndGlyphs">Time (Days)</text>
<text transform="translate(13.4 268.2) rotate(-90)" x="0" y="0" font-size="9.3" font-weight="bold" text-anchor="middle" dominant-baseline="central" fill="#1a1a1a" textLength="72.2" lengthAdjust="spacingAndGlyphs">Noise Floor (µV)</text>
<path d="M172.6 219.3H184.6" stroke="#00ffff" stroke-width="1"/>
<circle cx="178.6" cy="219.3" r="2.5" fill="#00ffff"/>
<path d="M172.6 234.5H184.6" stroke="#ff0000" stroke-width="1"/>
<rect x="176.3" y="232.2" width="4.6" height="4.6" fill="#ff0000"/>
<text x="191.8" y="219.5" font-size="10" font-weight="normal" text-anchor="start" dominant-baseline="central" fill="#00ffff" textLength="26.9" lengthAdjust="spacingAndGlyphs">LIPUS</text>
<text x="191.8" y="234.7" font-size="10" font-weight="normal" text-anchor="start" dominant-baseline="central" fill="#ff0000" textLength="31.6" lengthAdjust="spacingAndGlyphs">CTROL</text>
<path d="M268.6 211V325.4H439.8" stroke="#000" stroke-width="1.3" fill="none"/>
<path d="M264 325.4H268.6M264 296.95H268.6M264 268.5H268.6M264 240.05H268.6M264 211.6H268.6M268.6 325.4V329M308.3 325.4V329M348 325.4V329M387.7 325.4V329M427.4 325.4V329" stroke="#000" stroke-width="1.1" fill="none"/>
<text x="262.4" y="325.7" font-size="8.3" font-weight="bold" text-anchor="end" dominant-baseline="central" fill="#1a1a1a">0</text>
<text x="262.4" y="297.25" font-size="8.3" font-weight="bold" text-anchor="end" dominant-baseline="central" fill="#1a1a1a">100</text>
<text x="262.4" y="268.8" font-size="8.3" font-weight="bold" text-anchor="end" dominant-baseline="central" fill="#1a1a1a">200</text>
<text x="262.4" y="240.35" font-size="8.3" font-weight="bold" text-anchor="end" dominant-baseline="central" fill="#1a1a1a">300</text>
<text x="262.4" y="211.9" font-size="8.3" font-weight="bold" text-anchor="end" dominant-baseline="central" fill="#1a1a1a">400</text>
<text x="268.6" y="337.3" font-size="8.3" font-weight="bold" text-anchor="middle" dominant-baseline="central" fill="#1a1a1a">0</text>
<text x="308.3" y="337.3" font-size="8.3" font-weight="bold" text-anchor="middle" dominant-baseline="central" fill="#1a1a1a">10</text>
<text x="348" y="337.3" font-size="8.3" font-weight="bold" text-anchor="middle" dominant-baseline="central" fill="#1a1a1a">20</text>
<text x="387.7" y="337.3" font-size="8.3" font-weight="bold" text-anchor="middle" dominant-baseline="central" fill="#1a1a1a">30</text>
<text x="427.4" y="337.3" font-size="8.3" font-weight="bold" text-anchor="middle" dominant-baseline="central" fill="#1a1a1a">40</text>
<path d="M268.6 271.06V286.14M266.2 271.06H271M266.2 286.14H271M272.57 276.18V302.07M270.17 276.18H274.97M270.17 302.07H274.97M276.54 297.23V313.74M274.14 297.23H278.94M274.14 313.74H278.94M280.51 299.51V314.02M278.11 299.51H282.91M278.11 314.02H282.91M284.48 301.22V314.02M282.08 301.22H286.88M282.08 314.02H286.88M288.45 306.05V317.72M286.05 306.05H290.85M286.05 317.72H290.85M292.42 312.88V319.71M290.02 312.88H294.82M290.02 319.71H294.82M300.36 311.46V323.12M297.96 311.46H302.76M297.96 323.12H302.76M312.27 320.85V325.4M309.87 320.85H314.67M309.87 325.4H314.67M328.15 319.43V323.98M325.75 319.43H330.55M325.75 323.98H330.55M340.06 320.56V324.55M337.66 320.56H342.46M337.66 324.55H342.46M355.94 316.3V324.55M353.54 316.3H358.34M353.54 324.55H358.34M367.85 319.43V323.98M365.45 319.43H370.25M365.45 323.98H370.25M383.73 315.16V324.55M381.33 315.16H386.13M381.33 324.55H386.13M395.64 321.42V324.83M393.24 321.42H398.04M393.24 324.83H398.04M411.52 320.28V324.26M409.12 320.28H413.92M409.12 324.26H413.92M423.43 320.28V324.26M421.03 320.28H425.83M421.03 324.26H425.83M439.31 319.43V323.98M436.91 319.43H441.71M436.91 323.98H441.71" stroke="#ff0000" stroke-opacity="0.45" stroke-width="1" fill="none"/>
<polyline points="268.6,278.74 272.57,289.27 276.54,305.48 280.51,306.91 284.48,307.48 288.45,312.03 292.42,316.3 300.36,317.43 312.27,323.12 328.15,321.7 340.06,322.55 355.94,320.28 367.85,321.7 383.73,320.28 395.64,323.12 411.52,322.27 423.43,322.27 439.31,321.7" stroke="#ff0000" stroke-width="1.1" fill="none"/>
<rect x="266.3" y="276.44" width="4.6" height="4.6" fill="#ff0000"/>
<rect x="270.27" y="286.97" width="4.6" height="4.6" fill="#ff0000"/>
<rect x="274.24" y="303.18" width="4.6" height="4.6" fill="#ff0000"/>
<rect x="278.21" y="304.61" width="4.6" height="4.6" fill="#ff0000"/>
<rect x="282.18" y="305.18" width="4.6" height="4.6" fill="#ff0000"/>
<rect x="286.15" y="309.73" width="4.6" height="4.6" fill="#ff0000"/>
<rect x="290.12" y="314" width="4.6" height="4.6" fill="#ff0000"/>
<rect x="298.06" y="315.13" width="4.6" height="4.6" fill="#ff0000"/>
<rect x="309.97" y="320.82" width="4.6" height="4.6" fill="#ff0000"/>
<rect x="325.85" y="319.4" width="4.6" height="4.6" fill="#ff0000"/>
<rect x="337.76" y="320.25" width="4.6" height="4.6" fill="#ff0000"/>
<rect x="353.64" y="317.98" width="4.6" height="4.6" fill="#ff0000"/>
<rect x="365.55" y="319.4" width="4.6" height="4.6" fill="#ff0000"/>
<rect x="381.43" y="317.98" width="4.6" height="4.6" fill="#ff0000"/>
<rect x="393.34" y="320.82" width="4.6" height="4.6" fill="#ff0000"/>
<rect x="409.22" y="319.97" width="4.6" height="4.6" fill="#ff0000"/>
<rect x="421.13" y="319.97" width="4.6" height="4.6" fill="#ff0000"/>
<rect x="437.01" y="319.4" width="4.6" height="4.6" fill="#ff0000"/>
<path d="M268.6 215.01V258.83M266.2 215.01H271M266.2 258.83H271M272.57 233.51V274.19M270.17 233.51H274.97M270.17 274.19H274.97M276.54 279.6V297.23M274.14 279.6H278.94M274.14 297.23H278.94M280.51 278.46V303.21M278.11 278.46H282.91M278.11 303.21H282.91M284.48 302.64V316.01M282.08 302.64H286.88M282.08 316.01H286.88M288.45 288.41V305.48M286.05 288.41H290.85M286.05 305.48H290.85M292.42 276.47V304.92M290.02 276.47H294.82M290.02 304.92H294.82M300.36 281.3V305.48M297.96 281.3H302.76M297.96 305.48H302.76M312.27 288.7V314.3M309.87 288.7H314.67M309.87 314.3H314.67M328.15 302.07V316.58M325.75 302.07H330.55M325.75 316.58H330.55M340.06 300.65V314.3M337.66 300.65H342.46M337.66 314.3H342.46M355.94 293.25V311.74M353.54 293.25H358.34M353.54 311.74H358.34M367.85 296.67V316.3M365.45 296.67H370.25M365.45 316.3H370.25M383.73 295.53V315.16M381.33 295.53H386.13M381.33 315.16H386.13M395.64 288.13V314.3M393.24 288.13H398.04M393.24 314.3H398.04M411.52 297.23V313.74M409.12 297.23H413.92M409.12 313.74H413.92M423.43 298.09V312.03M421.03 298.09H425.83M421.03 312.03H425.83M439.31 287.28V311.74M436.91 287.28H441.71M436.91 311.74H441.71" stroke="#00ffff" stroke-opacity="0.65" stroke-width="1" fill="none"/>
<polyline points="268.6,236.92 272.57,253.99 276.54,288.13 280.51,290.69 284.48,308.9 288.45,296.67 292.42,290.69 300.36,292.97 312.27,301.5 328.15,309.47 340.06,307.48 355.94,302.64 367.85,306.62 383.73,304.92 395.64,301.22 411.52,305.48 423.43,305.2 439.31,299.51" stroke="#00ffff" stroke-width="1.1" fill="none"/>
<circle cx="268.6" cy="236.92" r="2.4" fill="#00ffff"/>
<circle cx="272.57" cy="253.99" r="2.4" fill="#00ffff"/>
<circle cx="276.54" cy="288.13" r="2.4" fill="#00ffff"/>
<circle cx="280.51" cy="290.69" r="2.4" fill="#00ffff"/>
<circle cx="284.48" cy="308.9" r="2.4" fill="#00ffff"/>
<circle cx="288.45" cy="296.67" r="2.4" fill="#00ffff"/>
<circle cx="292.42" cy="290.69" r="2.4" fill="#00ffff"/>
<circle cx="300.36" cy="292.97" r="2.4" fill="#00ffff"/>
<circle cx="312.27" cy="301.5" r="2.4" fill="#00ffff"/>
<circle cx="328.15" cy="309.47" r="2.4" fill="#00ffff"/>
<circle cx="340.06" cy="307.48" r="2.4" fill="#00ffff"/>
<circle cx="355.94" cy="302.64" r="2.4" fill="#00ffff"/>
<circle cx="367.85" cy="306.62" r="2.4" fill="#00ffff"/>
<circle cx="383.73" cy="304.92" r="2.4" fill="#00ffff"/>
<circle cx="395.64" cy="301.22" r="2.4" fill="#00ffff"/>
<circle cx="411.52" cy="305.48" r="2.4" fill="#00ffff"/>
<circle cx="423.43" cy="305.2" r="2.4" fill="#00ffff"/>
<circle cx="439.31" cy="299.51" r="2.4" fill="#00ffff"/>
<text x="423.43" y="302.45" font-size="16.5" font-weight="normal" text-anchor="middle" dominant-baseline="alphabetic" fill="#1a1a1a">*</text>
<text x="440.1" y="290.75" font-size="16.5" font-weight="normal" text-anchor="middle" dominant-baseline="alphabetic" fill="#1a1a1a">*</text>
<text x="353.6" y="193.3" font-size="11" font-weight="bold" text-anchor="middle" dominant-baseline="central" fill="#1a1a1a" textLength="113.2" lengthAdjust="spacingAndGlyphs">Single Unit Amplitude</text>
<text x="353.8" y="349.8" font-size="9.3" font-weight="bold" text-anchor="middle" dominant-baseline="central" fill="#1a1a1a" textLength="52.7" lengthAdjust="spacingAndGlyphs">Time (Days)</text>
<text transform="translate(239.4 267.8) rotate(-90)" x="0" y="0" font-size="9.3" font-weight="bold" text-anchor="middle" dominant-baseline="central" fill="#1a1a1a" textLength="82.3" lengthAdjust="spacingAndGlyphs">SU Amplitude (µV)</text>
<path d="M403.4 219.5H415.4" stroke="#00ffff" stroke-width="1"/>
<circle cx="409.4" cy="219.5" r="2.5" fill="#00ffff"/>
<path d="M403.4 234.7H415.4" stroke="#ff0000" stroke-width="1"/>
<rect x="407.1" y="232.4" width="4.6" height="4.6" fill="#ff0000"/>
<text x="422.5" y="219.7" font-size="10" font-weight="normal" text-anchor="start" dominant-baseline="central" fill="#00ffff" textLength="26.9" lengthAdjust="spacingAndGlyphs">LIPUS</text>
<text x="422.5" y="234.9" font-size="10" font-weight="normal" text-anchor="start" dominant-baseline="central" fill="#ff0000" textLength="31.6" lengthAdjust="spacingAndGlyphs">CTROL</text>
<path d="M501.8 212.9V325.4H670.2" stroke="#000" stroke-width="1.3" fill="none"/>
<path d="M497.2 325.4H501.8M497.2 297.42H501.8M497.2 269.45H501.8M497.2 241.47H501.8M497.2 213.5H501.8M501.8 325.4V329M540.8 325.4V329M579.8 325.4V329M618.8 325.4V329M657.8 325.4V329" stroke="#000" stroke-width="1.1" fill="none"/>
<text x="495.6" y="325.7" font-size="8.3" font-weight="bold" text-anchor="end" dominant-baseline="central" fill="#1a1a1a">0.0</text>
<text x="495.6" y="297.72" font-size="8.3" font-weight="bold" text-anchor="end" dominant-baseline="central" fill="#1a1a1a">0.5</text>
<text x="495.6" y="269.75" font-size="8.3" font-weight="bold" text-anchor="end" dominant-baseline="central" fill="#1a1a1a">1.0</text>
<text x="495.6" y="241.77" font-size="8.3" font-weight="bold" text-anchor="end" dominant-baseline="central" fill="#1a1a1a">1.5</text>
<text x="495.6" y="213.8" font-size="8.3" font-weight="bold" text-anchor="end" dominant-baseline="central" fill="#1a1a1a">2.0</text>
<text x="501.8" y="337.3" font-size="8.3" font-weight="bold" text-anchor="middle" dominant-baseline="central" fill="#1a1a1a">0</text>
<text x="540.8" y="337.3" font-size="8.3" font-weight="bold" text-anchor="middle" dominant-baseline="central" fill="#1a1a1a">10</text>
<text x="579.8" y="337.3" font-size="8.3" font-weight="bold" text-anchor="middle" dominant-baseline="central" fill="#1a1a1a">20</text>
<text x="618.8" y="337.3" font-size="8.3" font-weight="bold" text-anchor="middle" dominant-baseline="central" fill="#1a1a1a">30</text>
<text x="657.8" y="337.3" font-size="8.3" font-weight="bold" text-anchor="middle" dominant-baseline="central" fill="#1a1a1a">40</text>
<path d="M501.8 284V292.39M499.4 284H504.2M499.4 292.39H504.2M505.7 283.44V291.83M503.3 283.44H508.1M503.3 291.83H508.1M509.6 272.81V285.12M507.2 272.81H512M507.2 285.12H512M513.5 258.82V274.49M511.1 258.82H515.9M511.1 274.49H515.9M517.4 258.82V269.45M515 258.82H519.8M515 269.45H519.8M521.3 258.82V264.97M518.9 258.82H523.7M518.9 264.97H523.7M525.2 262.18V268.89M522.8 262.18H527.6M522.8 268.89H527.6M533 262.18V275.6M530.6 262.18H535.4M530.6 275.6H535.4M544.7 260.5V277.84M542.3 260.5H547.1M542.3 277.84H547.1M560.3 249.87V273.37M557.9 249.87H562.7M557.9 273.37H562.7M572 255.46V278.96M569.6 255.46H574.4M569.6 278.96H574.4M587.6 251.55V281.76M585.2 251.55H590M585.2 281.76H590M599.3 259.94V283.44M596.9 259.94H601.7M596.9 283.44H601.7M614.9 255.46V275.6M612.5 255.46H617.3M612.5 275.6H617.3M626.6 263.85V285.68M624.2 263.85H629M624.2 285.68H629M642.2 262.18V286.23M639.8 262.18H644.6M639.8 286.23H644.6M653.9 258.26V288.47M651.5 258.26H656.3M651.5 288.47H656.3M669.5 256.58V291.83M667.1 256.58H671.9M667.1 291.83H671.9" stroke="#ff0000" stroke-opacity="0.45" stroke-width="1" fill="none"/>
<polyline points="501.8,288.47 505.7,287.91 509.6,279.52 513.5,267.77 517.4,261.06 521.3,262.18 525.2,265.53 533,268.89 544.7,269.45 560.3,262.18 572,267.21 587.6,263.85 599.3,271.69 614.9,265.25 626.6,275.04 642.2,274.49 653.9,273.37 669.5,273.93" stroke="#ff0000" stroke-width="1.1" fill="none"/>
<rect x="499.5" y="286.17" width="4.6" height="4.6" fill="#ff0000"/>
<rect x="503.4" y="285.61" width="4.6" height="4.6" fill="#ff0000"/>
<rect x="507.3" y="277.22" width="4.6" height="4.6" fill="#ff0000"/>
<rect x="511.2" y="265.47" width="4.6" height="4.6" fill="#ff0000"/>
<rect x="515.1" y="258.76" width="4.6" height="4.6" fill="#ff0000"/>
<rect x="519" y="259.88" width="4.6" height="4.6" fill="#ff0000"/>
<rect x="522.9" y="263.23" width="4.6" height="4.6" fill="#ff0000"/>
<rect x="530.7" y="266.59" width="4.6" height="4.6" fill="#ff0000"/>
<rect x="542.4" y="267.15" width="4.6" height="4.6" fill="#ff0000"/>
<rect x="558" y="259.88" width="4.6" height="4.6" fill="#ff0000"/>
<rect x="569.7" y="264.91" width="4.6" height="4.6" fill="#ff0000"/>
<rect x="585.3" y="261.55" width="4.6" height="4.6" fill="#ff0000"/>
<rect x="597" y="269.39" width="4.6" height="4.6" fill="#ff0000"/>
<rect x="612.6" y="262.95" width="4.6" height="4.6" fill="#ff0000"/>
<rect x="624.3" y="272.74" width="4.6" height="4.6" fill="#ff0000"/>
<rect x="639.9" y="272.19" width="4.6" height="4.6" fill="#ff0000"/>
<rect x="651.6" y="271.07" width="4.6" height="4.6" fill="#ff0000"/>
<rect x="667.2" y="271.63" width="4.6" height="4.6" fill="#ff0000"/>
<path d="M501.8 282.32V293.51M499.4 282.32H504.2M499.4 293.51H504.2M505.7 281.76V289.03M503.3 281.76H508.1M503.3 289.03H508.1M509.6 275.6V282.32M507.2 275.6H512M507.2 282.32H512M513.5 263.3V271.13M511.1 263.3H515.9M511.1 271.13H515.9M517.4 253.78V262.74M515 253.78H519.8M515 262.74H519.8M521.3 244.83V250.99M518.9 244.83H523.7M518.9 250.99H523.7M525.2 251.55V258.82M522.8 251.55H527.6M522.8 258.82H527.6M533 248.75V259.94M530.6 248.75H535.4M530.6 259.94H535.4M544.7 242.03V253.78M542.3 242.03H547.1M542.3 253.78H547.1M560.3 234.76V252.66M557.9 234.76H562.7M557.9 252.66H562.7M572 254.34V256.58M569.6 254.34H574.4M569.6 256.58H574.4M587.6 239.8V252.66M585.2 239.8H590M585.2 252.66H590M599.3 242.59V251.55M596.9 242.59H601.7M596.9 251.55H601.7M614.9 248.75V269.45M612.5 248.75H617.3M612.5 269.45H617.3M626.6 250.43V261.06M624.2 250.43H629M624.2 261.06H629M642.2 242.59V254.9M639.8 242.59H644.6M639.8 254.9H644.6M653.9 242.59V270.57M651.5 242.59H656.3M651.5 270.57H656.3M669.5 250.43V269.45M667.1 250.43H671.9M667.1 269.45H671.9" stroke="#00ffff" stroke-opacity="0.65" stroke-width="1" fill="none"/>
<polyline points="501.8,287.91 505.7,285.12 509.6,278.96 513.5,267.21 517.4,258.26 521.3,247.63 525.2,255.46 533,254.34 544.7,248.19 560.3,243.71 572,255.46 587.6,246.23 599.3,247.35 614.9,258.82 626.6,256.02 642.2,248.47 653.9,256.86 669.5,260.22" stroke="#00ffff" stroke-width="1.1" fill="none"/>
<circle cx="501.8" cy="287.91" r="2.4" fill="#00ffff"/>
<circle cx="505.7" cy="285.12" r="2.4" fill="#00ffff"/>
<circle cx="509.6" cy="278.96" r="2.4" fill="#00ffff"/>
<circle cx="513.5" cy="267.21" r="2.4" fill="#00ffff"/>
<circle cx="517.4" cy="258.26" r="2.4" fill="#00ffff"/>
<circle cx="521.3" cy="247.63" r="2.4" fill="#00ffff"/>
<circle cx="525.2" cy="255.46" r="2.4" fill="#00ffff"/>
<circle cx="533" cy="254.34" r="2.4" fill="#00ffff"/>
<circle cx="544.7" cy="248.19" r="2.4" fill="#00ffff"/>
<circle cx="560.3" cy="243.71" r="2.4" fill="#00ffff"/>
<circle cx="572" cy="255.46" r="2.4" fill="#00ffff"/>
<circle cx="587.6" cy="246.23" r="2.4" fill="#00ffff"/>
<circle cx="599.3" cy="247.35" r="2.4" fill="#00ffff"/>
<circle cx="614.9" cy="258.82" r="2.4" fill="#00ffff"/>
<circle cx="626.6" cy="256.02" r="2.4" fill="#00ffff"/>
<circle cx="642.2" cy="248.47" r="2.4" fill="#00ffff"/>
<circle cx="653.9" cy="256.86" r="2.4" fill="#00ffff"/>
<circle cx="669.5" cy="260.22" r="2.4" fill="#00ffff"/>
<text x="585.5" y="195" font-size="11" font-weight="bold" text-anchor="middle" dominant-baseline="central" fill="#1a1a1a" textLength="56.2" lengthAdjust="spacingAndGlyphs">Impedance</text>
<text x="585.5" y="349.8" font-size="9.3" font-weight="bold" text-anchor="middle" dominant-baseline="central" fill="#1a1a1a" textLength="52.7" lengthAdjust="spacingAndGlyphs">Time (Days)</text>
<text transform="translate(475.7 269.5) rotate(-90)" x="0" y="0" font-size="9.3" font-weight="bold" text-anchor="middle" dominant-baseline="central" fill="#1a1a1a" textLength="92.6" lengthAdjust="spacingAndGlyphs">Impedance (MOhms)</text>
<path d="M634.7 220.8H646.7" stroke="#00ffff" stroke-width="1"/>
<circle cx="640.7" cy="220.8" r="2.5" fill="#00ffff"/>
<path d="M634.7 236H646.7" stroke="#ff0000" stroke-width="1"/>
<rect x="638.4" y="233.7" width="4.6" height="4.6" fill="#ff0000"/>
<text x="653.8" y="221" font-size="10" font-weight="normal" text-anchor="start" dominant-baseline="central" fill="#00ffff" textLength="26.9" lengthAdjust="spacingAndGlyphs">LIPUS</text>
<text x="653.8" y="236.2" font-size="10" font-weight="normal" text-anchor="start" dominant-baseline="central" fill="#ff0000" textLength="31.6" lengthAdjust="spacingAndGlyphs">CTROL</text>
<path d="M359.4 392.7V517.3H547" stroke="#000" stroke-width="1.3" fill="none"/>
<path d="M354.8 517.3H359.4M354.8 486.3H359.4M354.8 455.3H359.4M354.8 424.3H359.4M354.8 393.3H359.4M359.4 517.3V520.9M382.77 517.3V520.9M406.15 517.3V520.9M429.52 517.3V520.9M452.9 517.3V520.9M476.27 517.3V520.9M499.65 517.3V520.9M523.02 517.3V520.9M546.4 517.3V520.9" stroke="#000" stroke-width="1.1" fill="none"/>
<text x="353" y="517.6" font-size="8.3" font-weight="bold" text-anchor="end" dominant-baseline="central" fill="#1a1a1a">0</text>
<text x="353" y="486.6" font-size="8.3" font-weight="bold" text-anchor="end" dominant-baseline="central" fill="#1a1a1a">1</text>
<text x="353" y="455.6" font-size="8.3" font-weight="bold" text-anchor="end" dominant-baseline="central" fill="#1a1a1a">2</text>
<text x="353" y="424.6" font-size="8.3" font-weight="bold" text-anchor="end" dominant-baseline="central" fill="#1a1a1a">3</text>
<text x="353" y="393.6" font-size="8.3" font-weight="bold" text-anchor="end" dominant-baseline="central" fill="#1a1a1a">4</text>
<text x="359.4" y="529.8" font-size="8.3" font-weight="bold" text-anchor="middle" dominant-baseline="central" fill="#1a1a1a">0</text>
<text x="382.77" y="529.8" font-size="8.3" font-weight="bold" text-anchor="middle" dominant-baseline="central" fill="#1a1a1a">50</text>
<text x="406.15" y="529.8" font-size="8.3" font-weight="bold" text-anchor="middle" dominant-baseline="central" fill="#1a1a1a">100</text>
<text x="429.52" y="529.8" font-size="8.3" font-weight="bold" text-anchor="middle" dominant-baseline="central" fill="#1a1a1a">150</text>
<text x="452.9" y="529.8" font-size="8.3" font-weight="bold" text-anchor="middle" dominant-baseline="central" fill="#1a1a1a">200</text>
<text x="476.27" y="529.8" font-size="8.3" font-weight="bold" text-anchor="middle" dominant-baseline="central" fill="#1a1a1a">250</text>
<text x="499.65" y="529.8" font-size="8.3" font-weight="bold" text-anchor="middle" dominant-baseline="central" fill="#1a1a1a">300</text>
<text x="523.02" y="529.8" font-size="8.3" font-weight="bold" text-anchor="middle" dominant-baseline="central" fill="#1a1a1a">350</text>
<text x="546.4" y="529.8" font-size="8.3" font-weight="bold" text-anchor="middle" dominant-baseline="central" fill="#1a1a1a">400</text>
<text x="453.2" y="544.5" font-size="9.3" font-weight="bold" text-anchor="middle" dominant-baseline="central" fill="#1a1a1a" textLength="67.9" lengthAdjust="spacingAndGlyphs">Distance (µm)</text>
<text transform="translate(326.5 454.5) rotate(-90)" x="0" y="0" font-size="9.3" font-weight="bold" text-anchor="middle" dominant-baseline="central" fill="#1a1a1a" textLength="86.5" lengthAdjust="spacingAndGlyphs">Normalized GFAP</text>
<text transform="translate(337.9 454.5) rotate(-90)" x="0" y="0" font-size="9.3" font-weight="bold" text-anchor="middle" dominant-baseline="central" fill="#1a1a1a" textLength="110.5" lengthAdjust="spacingAndGlyphs">Fluorescence Intensity</text>
<path d="M364.07 412.52V438.25M361.77 412.52H366.38M361.77 438.25H366.38M368.75 415.93V441.35M366.45 415.93H371.05M366.45 441.35H371.05M373.42 432.67V447.55M371.12 432.67H375.72M371.12 447.55H375.72M378.1 439.18V452.2M375.8 439.18H380.4M375.8 452.2H380.4M382.77 439.18V452.2M380.47 439.18H385.07M380.47 452.2H385.07M387.45 444.45V456.85M385.15 444.45H389.75M385.15 456.85H389.75M392.12 444.45V456.85M389.82 444.45H394.43M389.82 456.85H394.43M396.8 447.55V458.4M394.5 447.55H399.1M394.5 458.4H399.1M401.47 447.55V456.85M399.17 447.55H403.77M399.17 456.85H403.77M406.15 449.1V459.95M403.85 449.1H408.45M403.85 459.95H408.45M410.82 451.58V459.95M408.52 451.58H413.12M408.52 459.95H413.12M415.5 455.3V461.5M413.2 455.3H417.8M413.2 461.5H417.8M420.17 453.13V459.95M417.87 453.13H422.47M417.87 459.95H422.47M424.85 453.13V460.57M422.55 453.13H427.15M422.55 460.57H427.15M429.52 453.13V460.88M427.22 453.13H431.82M427.22 460.88H431.82M434.2 453.75V460.88M431.9 453.75H436.5M431.9 460.88H436.5M438.88 453.13V459.95M436.57 453.13H441.18M436.57 459.95H441.18M443.55 454.68V460.88M441.25 454.68H445.85M441.25 460.88H445.85M448.22 455.3V461.5M445.92 455.3H450.52M445.92 461.5H450.52M452.9 455.92V461.5M450.6 455.92H455.2M450.6 461.5H455.2M457.57 453.13V459.95M455.27 453.13H459.88M455.27 459.95H459.88M462.25 453.75V459.95M459.95 453.75H464.55M459.95 459.95H464.55M466.92 454.37V459.95M464.62 454.37H469.22M464.62 459.95H469.22M471.6 458.4V463.67M469.3 458.4H473.9M469.3 463.67H473.9M476.27 456.85V462.12M473.97 456.85H478.57M473.97 462.12H478.57M480.95 450.65V459.02M478.65 450.65H483.25M478.65 459.02H483.25M485.62 443.52V455.3M483.32 443.52H487.93M483.32 455.3H487.93M490.3 432.98V455.3M488 432.98H492.6M488 455.3H492.6M494.98 438.87V457.78M492.68 438.87H497.28M492.68 457.78H497.28M499.65 440.42V456.85M497.35 440.42H501.95M497.35 456.85H501.95M504.32 442.9V459.02M502.02 442.9H506.62M502.02 459.02H506.62M509 446V460.88M506.7 446H511.3M506.7 460.88H511.3M513.67 449.1V462.12M511.37 449.1H515.97M511.37 462.12H515.97M518.35 450.65V462.12M516.05 450.65H520.65M516.05 462.12H520.65M523.02 453.75V464.6M520.73 453.75H525.32M520.73 464.6H525.32M527.7 459.02V467.08M525.4 459.02H530M525.4 467.08H530M532.38 455.92V464.6M530.08 455.92H534.67M530.08 464.6H534.67M537.05 453.75V463.05M534.75 453.75H539.35M534.75 463.05H539.35M541.73 453.75V463.05M539.43 453.75H544.02M539.43 463.05H544.02M546.4 454.37V463.67M544.1 454.37H548.7M544.1 463.67H548.7" stroke="#ff0000" stroke-opacity="0.65" stroke-width="0.9" fill="none"/>
<polyline points="364.07,425.54 368.75,428.02 373.42,439.18 378.1,445.07 382.77,446.31 387.45,450.65 392.12,450.65 396.8,452.82 401.47,451.58 406.15,454.37 410.82,455.92 415.5,458.4 420.17,456.54 424.85,457.16 429.52,457.16 434.2,457.47 438.88,456.54 443.55,457.78 448.22,458.4 452.9,458.71 457.57,456.54 462.25,456.54 466.92,457.16 471.6,461.19 476.27,459.64 480.95,455.3 485.62,449.41 490.3,443.83 494.98,448.48 499.65,448.48 504.32,451.58 509,454.06 513.67,455.92 518.35,456.54 523.02,459.64 527.7,463.67 532.38,460.57 537.05,458.09 541.73,458.09 546.4,458.71" stroke="#ff0000" stroke-width="1.5" fill="none" stroke-linejoin="round"/>
<path d="M364.07 458.4V472.35M361.77 458.4H366.38M361.77 472.35H366.38M368.75 459.64V470.8M366.45 459.64H371.05M366.45 470.8H371.05M373.42 462.12V470.18M371.12 462.12H375.72M371.12 470.18H375.72M378.1 463.05V473.28M375.8 463.05H380.4M375.8 473.28H380.4M382.77 463.05V470.8M380.47 463.05H385.07M380.47 470.8H385.07M387.45 458.4V469.25M385.15 458.4H389.75M385.15 469.25H389.75M392.12 456.23V467.7M389.82 456.23H394.43M389.82 467.7H394.43M396.8 459.64V467.7M394.5 459.64H399.1M394.5 467.7H399.1M401.47 461.5V468.32M399.17 461.5H403.77M399.17 468.32H403.77M406.15 463.05V469.25M403.85 463.05H408.45M403.85 469.25H408.45M410.82 463.05V469.25M408.52 463.05H413.12M408.52 469.25H413.12M415.5 463.36V469.56M413.2 463.36H417.8M413.2 469.56H417.8M420.17 463.05V469.25M417.87 463.05H422.47M417.87 469.25H422.47M424.85 462.74V468.94M422.55 462.74H427.15M422.55 468.94H427.15M429.52 461.5V468.32M427.22 461.5H431.82M427.22 468.32H431.82M434.2 463.05V469.25M431.9 463.05H436.5M431.9 469.25H436.5M438.88 462.74V468.94M436.57 462.74H441.18M436.57 468.94H441.18M443.55 461.5V468.32M441.25 461.5H445.85M441.25 468.32H445.85M448.22 459.33V466.77M445.92 459.33H450.52M445.92 466.77H450.52M452.9 457.16V463.36M450.6 457.16H455.2M450.6 463.36H455.2M457.57 455.3V461.5M455.27 455.3H459.88M455.27 461.5H459.88M462.25 456.54V462.74M459.95 456.54H464.55M459.95 462.74H464.55M466.92 457.47V463.67M464.62 457.47H469.22M464.62 463.67H469.22M471.6 460.26V466.46M469.3 460.26H473.9M469.3 466.46H473.9M476.27 458.71V464.91M473.97 458.71H478.57M473.97 464.91H478.57M480.95 458.71V464.91M478.65 458.71H483.25M478.65 464.91H483.25M485.62 457.47V463.67M483.32 457.47H487.93M483.32 463.67H487.93M490.3 458.09V464.29M488 458.09H492.6M488 464.29H492.6M494.98 460.26V466.46M492.68 460.26H497.28M492.68 466.46H497.28M499.65 462.74V468.94M497.35 462.74H501.95M497.35 468.94H501.95M504.32 464.6V470.8M502.02 464.6H506.62M502.02 470.8H506.62M509 462.12V468.32M506.7 462.12H511.3M506.7 468.32H511.3M513.67 462.12V468.32M511.37 462.12H515.97M511.37 468.32H515.97M518.35 460.88V467.08M516.05 460.88H520.65M516.05 467.08H520.65M523.02 464.6V470.8M520.73 464.6H525.32M520.73 470.8H525.32M527.7 467.08V472.35M525.4 467.08H530M525.4 472.35H530M532.38 468.32V473.28M530.08 468.32H534.67M530.08 473.28H534.67M537.05 469.56V474.52M534.75 469.56H539.35M534.75 474.52H539.35M541.73 470.18V475.14M539.43 470.18H544.02M539.43 475.14H544.02M546.4 469.87V474.83M544.1 469.87H548.7M544.1 474.83H548.7" stroke="#00ffff" stroke-opacity="0.75" stroke-width="0.9" fill="none"/>
<polyline points="364.07,465.84 368.75,465.53 373.42,466.15 378.1,468.32 382.77,467.08 387.45,463.98 392.12,461.81 396.8,463.67 401.47,464.91 406.15,466.15 410.82,466.15 415.5,466.46 420.17,466.15 424.85,465.84 429.52,464.91 434.2,466.15 438.88,465.84 443.55,464.91 448.22,463.05 452.9,460.26 457.57,458.4 462.25,459.64 466.92,460.57 471.6,463.36 476.27,461.81 480.95,461.81 485.62,460.57 490.3,461.19 494.98,463.36 499.65,465.84 504.32,467.7 509,465.22 513.67,465.22 518.35,463.98 523.02,467.7 527.7,469.87 532.38,470.8 537.05,472.04 541.73,472.66 546.4,472.35" stroke="#00ffff" stroke-width="1.5" fill="none" stroke-linejoin="round"/>
<text x="374.2" y="436.15" font-size="16.5" font-weight="normal" text-anchor="middle" dominant-baseline="alphabetic" fill="#1a1a1a">*</text>
<path d="M359.4 556.3V680.9H547" stroke="#000" stroke-width="1.3" fill="none"/>
<path d="M354.8 680.9H359.4M354.8 656.1H359.4M354.8 631.3H359.4M354.8 606.5H359.4M354.8 581.7H359.4M354.8 556.9H359.4M359.4 680.9V684.5M382.77 680.9V684.5M406.15 680.9V684.5M429.52 680.9V684.5M452.9 680.9V684.5M476.27 680.9V684.5M499.65 680.9V684.5M523.02 680.9V684.5M546.4 680.9V684.5" stroke="#000" stroke-width="1.1" fill="none"/>
<text x="353" y="681.2" font-size="8.3" font-weight="bold" text-anchor="end" dominant-baseline="central" fill="#1a1a1a">1.2</text>
<text x="353" y="656.4" font-size="8.3" font-weight="bold" text-anchor="end" dominant-baseline="central" fill="#1a1a1a">1.4</text>
<text x="353" y="631.6" font-size="8.3" font-weight="bold" text-anchor="end" dominant-baseline="central" fill="#1a1a1a">1.6</text>
<text x="353" y="606.8" font-size="8.3" font-weight="bold" text-anchor="end" dominant-baseline="central" fill="#1a1a1a">1.8</text>
<text x="353" y="582" font-size="8.3" font-weight="bold" text-anchor="end" dominant-baseline="central" fill="#1a1a1a">2.0</text>
<text x="353" y="557.2" font-size="8.3" font-weight="bold" text-anchor="end" dominant-baseline="central" fill="#1a1a1a">2.2</text>
<text x="359.4" y="692.8" font-size="8.3" font-weight="bold" text-anchor="middle" dominant-baseline="central" fill="#1a1a1a">0</text>
<text x="382.77" y="692.8" font-size="8.3" font-weight="bold" text-anchor="middle" dominant-baseline="central" fill="#1a1a1a">50</text>
<text x="406.15" y="692.8" font-size="8.3" font-weight="bold" text-anchor="middle" dominant-baseline="central" fill="#1a1a1a">100</text>
<text x="429.52" y="692.8" font-size="8.3" font-weight="bold" text-anchor="middle" dominant-baseline="central" fill="#1a1a1a">150</text>
<text x="452.9" y="692.8" font-size="8.3" font-weight="bold" text-anchor="middle" dominant-baseline="central" fill="#1a1a1a">200</text>
<text x="476.27" y="692.8" font-size="8.3" font-weight="bold" text-anchor="middle" dominant-baseline="central" fill="#1a1a1a">250</text>
<text x="499.65" y="692.8" font-size="8.3" font-weight="bold" text-anchor="middle" dominant-baseline="central" fill="#1a1a1a">300</text>
<text x="523.02" y="692.8" font-size="8.3" font-weight="bold" text-anchor="middle" dominant-baseline="central" fill="#1a1a1a">350</text>
<text x="546.4" y="692.8" font-size="8.3" font-weight="bold" text-anchor="middle" dominant-baseline="central" fill="#1a1a1a">400</text>
<text x="453.2" y="708.8" font-size="9.3" font-weight="bold" text-anchor="middle" dominant-baseline="central" fill="#1a1a1a" textLength="67.9" lengthAdjust="spacingAndGlyphs">Distance (µm)</text>
<text transform="translate(318.9 618.1) rotate(-90)" x="0" y="0" font-size="9.3" font-weight="bold" text-anchor="middle" dominant-baseline="central" fill="#1a1a1a" textLength="87" lengthAdjust="spacingAndGlyphs">Normalized BDNF</text>
<text transform="translate(330.1 618.4) rotate(-90)" x="0" y="0" font-size="9.3" font-weight="bold" text-anchor="middle" dominant-baseline="central" fill="#1a1a1a" textLength="110.5" lengthAdjust="spacingAndGlyphs">Fluorescence Intensity</text>
<path d="M364.07 595.34V628.82M361.77 595.34H366.38M361.77 628.82H366.38M368.75 588.52V620.14M366.45 588.52H371.05M366.45 620.14H371.05M373.42 591.62V630.06M371.12 591.62H375.72M371.12 630.06H375.72M378.1 613.94V646.18M375.8 613.94H380.4M375.8 646.18H380.4M382.77 620.14V646.18M380.47 620.14H385.07M380.47 646.18H385.07M387.45 617.04V644.94M385.15 617.04H389.75M385.15 644.94H389.75M392.12 622.62V643.7M389.82 622.62H394.43M389.82 643.7H394.43M396.8 623.86V649.28M394.5 623.86H399.1M394.5 649.28H399.1M401.47 597.2V638.12M399.17 597.2H403.77M399.17 638.12H403.77M406.15 615.18V648.66M403.85 615.18H408.45M403.85 648.66H408.45M410.82 620.14V658.58M408.52 620.14H413.12M408.52 658.58H413.12M415.5 620.14V649.9M413.2 620.14H417.8M413.2 649.9H417.8M420.17 615.18V647.42M417.87 615.18H422.47M417.87 647.42H422.47M424.85 595.34V643.7M422.55 595.34H427.15M422.55 643.7H427.15M429.52 613.94V649.9M427.22 613.94H431.82M427.22 649.9H431.82M434.2 618.9V648.66M431.9 618.9H436.5M431.9 648.66H436.5M438.88 622.62V642.46M436.57 622.62H441.18M436.57 642.46H441.18M443.55 628.82V653.62M441.25 628.82H445.85M441.25 653.62H445.85M448.22 638.74V657.34M445.92 638.74H450.52M445.92 657.34H450.52M452.9 636.26V654.86M450.6 636.26H455.2M450.6 654.86H455.2M457.57 628.82V651.14M455.27 628.82H459.88M455.27 651.14H459.88M462.25 623.86V648.66M459.95 623.86H464.55M459.95 648.66H464.55M466.92 628.82V653.62M464.62 628.82H469.22M464.62 653.62H469.22M471.6 635.02V657.34M469.3 635.02H473.9M469.3 657.34H473.9M476.27 637.5V658.58M473.97 637.5H478.57M473.97 658.58H478.57M480.95 623.86V648.66M478.65 623.86H483.25M478.65 648.66H483.25M485.62 608.98V641.22M483.32 608.98H487.93M483.32 641.22H487.93M490.3 591.62V637.5M488 591.62H492.6M488 637.5H492.6M494.98 602.78V637.5M492.68 602.78H497.28M492.68 637.5H497.28M499.65 602.78V636.26M497.35 602.78H501.95M497.35 636.26H501.95M504.32 607.74V641.22M502.02 607.74H506.62M502.02 641.22H506.62M509 616.42V649.9M506.7 616.42H511.3M506.7 649.9H511.3M513.67 626.34V656.1M511.37 626.34H515.97M511.37 656.1H515.97M518.35 628.82V656.1M516.05 628.82H520.65M516.05 656.1H520.65M523.02 621.38V648.66M520.73 621.38H525.32M520.73 648.66H525.32M527.7 621.38V648.66M525.4 621.38H530M525.4 648.66H530M532.38 618.9V647.42M530.08 618.9H534.67M530.08 647.42H534.67M537.05 616.42V644.94M534.75 616.42H539.35M534.75 644.94H539.35M541.73 611.46V641.22M539.43 611.46H544.02M539.43 641.22H544.02M546.4 623.86V652.38M544.1 623.86H548.7M544.1 652.38H548.7" stroke="#ff0000" stroke-opacity="0.65" stroke-width="0.9" fill="none"/>
<polyline points="364.07,611.46 368.75,605.26 373.42,610.22 378.1,628.82 382.77,632.54 387.45,631.3 392.12,632.54 396.8,636.26 401.47,618.9 406.15,632.54 410.82,638.74 415.5,635.02 420.17,631.92 424.85,620.14 429.52,631.92 434.2,632.54 438.88,635.02 443.55,638.74 448.22,648.66 452.9,644.94 457.57,641.22 462.25,636.26 466.92,641.22 471.6,646.18 476.27,649.28 480.95,636.88 485.62,625.1 490.3,615.18 494.98,620.14 499.65,617.66 504.32,623.86 509,632.54 513.67,641.22 518.35,642.46 523.02,635.02 527.7,635.02 532.38,633.16 537.05,630.06 541.73,626.34 546.4,638.12" stroke="#ff0000" stroke-width="1.5" fill="none" stroke-linejoin="round"/>
<path d="M364.07 649.9V673.46M361.77 649.9H366.38M361.77 673.46H366.38M368.75 632.54V663.54M366.45 632.54H371.05M366.45 663.54H371.05M373.42 623.86V656.1M371.12 623.86H375.72M371.12 656.1H375.72M378.1 632.54V662.3M375.8 632.54H380.4M375.8 662.3H380.4M382.77 630.06V661.68M380.47 630.06H385.07M380.47 661.68H385.07M387.45 631.3V661.68M385.15 631.3H389.75M385.15 661.68H389.75M392.12 632.54V662.3M389.82 632.54H394.43M389.82 662.3H394.43M396.8 626.34V659.82M394.5 626.34H399.1M394.5 659.82H399.1M401.47 623.86V657.34M399.17 623.86H403.77M399.17 657.34H403.77M406.15 618.9V656.1M403.85 618.9H408.45M403.85 656.1H408.45M410.82 615.18V657.96M408.52 615.18H413.12M408.52 657.96H413.12M415.5 613.94V654.86M413.2 613.94H417.8M413.2 654.86H417.8M420.17 615.18V656.1M417.87 615.18H422.47M417.87 656.1H422.47M424.85 610.22V653.62M422.55 610.22H427.15M422.55 653.62H427.15M429.52 608.98V656.1M427.22 608.98H431.82M427.22 656.1H431.82M434.2 615.18V656.1M431.9 615.18H436.5M431.9 656.1H436.5M438.88 616.42V654.86M436.57 616.42H441.18M436.57 654.86H441.18M443.55 620.14V654.86M441.25 620.14H445.85M441.25 654.86H445.85M448.22 613.94V651.14M445.92 613.94H450.52M445.92 651.14H450.52M452.9 608.36V649.9M450.6 608.36H455.2M450.6 649.9H455.2M457.57 606.5V643.7M455.27 606.5H459.88M455.27 643.7H459.88M462.25 592.86V636.26M459.95 592.86H464.55M459.95 636.26H464.55M466.92 597.82V637.5M464.62 597.82H469.22M464.62 637.5H469.22M471.6 602.78V639.98M469.3 602.78H473.9M469.3 639.98H473.9M476.27 598.44V641.22M473.97 598.44H478.57M473.97 641.22H478.57M480.95 589.14V637.5M478.65 589.14H483.25M478.65 637.5H483.25M485.62 577.98V628.82M483.32 577.98H487.93M483.32 628.82H487.93M490.3 586.66V633.78M488 586.66H492.6M488 633.78H492.6M494.98 599.06V636.26M492.68 599.06H497.28M492.68 636.26H497.28M499.65 599.06V639.98M497.35 599.06H501.95M497.35 639.98H501.95M504.32 606.5V641.22M502.02 606.5H506.62M502.02 641.22H506.62M509 595.34V639.98M506.7 595.34H511.3M506.7 639.98H511.3M513.67 596.58V638.74M511.37 596.58H515.97M511.37 638.74H515.97M518.35 590.38V633.78M516.05 590.38H520.65M516.05 633.78H520.65M523.02 594.1V633.78M520.73 594.1H525.32M520.73 633.78H525.32M527.7 586.66V631.3M525.4 586.66H530M525.4 631.3H530M532.38 589.14V632.54M530.08 589.14H534.67M530.08 632.54H534.67M537.05 601.54V637.5M534.75 601.54H539.35M534.75 637.5H539.35M541.73 601.54V637.5M539.43 601.54H544.02M539.43 637.5H544.02M546.4 600.3V637.5M544.1 600.3H548.7M544.1 637.5H548.7" stroke="#00ffff" stroke-opacity="0.75" stroke-width="0.9" fill="none"/>
<polyline points="364.07,662.3 368.75,647.42 373.42,640.6 378.1,647.42 382.77,645.56 387.45,646.18 392.12,647.42 396.8,642.46 401.47,641.22 406.15,636.88 410.82,635.02 415.5,635.02 420.17,635.64 424.85,633.16 429.52,632.54 434.2,635.02 438.88,635.02 443.55,637.5 448.22,632.54 452.9,628.82 457.57,623.86 462.25,615.18 466.92,620.14 471.6,625.1 476.27,622 480.95,614.56 485.62,605.88 490.3,612.7 494.98,620.14 499.65,621.38 504.32,622.62 509,620.14 513.67,618.28 518.35,612.7 523.02,616.42 527.7,610.84 532.38,612.08 537.05,620.14 541.73,620.14 546.4,620.14" stroke="#00ffff" stroke-width="1.5" fill="none" stroke-linejoin="round"/>
<path d="M554 517.4H637.3V392.8" stroke="#000" stroke-width="1.3" fill="none"/>
<path d="M578.2 517.4V521.9M613.5 517.4V521.9M637.3 517.4H641.7M637.3 492.6H641.7M637.3 467.8H641.7M637.3 443H641.7M637.3 418.2H641.7M637.3 393.4H641.7" stroke="#000" stroke-width="1.1" fill="none"/>
<text x="643.7" y="517.7" font-size="8.3" font-weight="bold" text-anchor="start" dominant-baseline="central" fill="#1a1a1a">0</text>
<text x="643.7" y="492.9" font-size="8.3" font-weight="bold" text-anchor="start" dominant-baseline="central" fill="#1a1a1a">1</text>
<text x="643.7" y="468.1" font-size="8.3" font-weight="bold" text-anchor="start" dominant-baseline="central" fill="#1a1a1a">2</text>
<text x="643.7" y="443.3" font-size="8.3" font-weight="bold" text-anchor="start" dominant-baseline="central" fill="#1a1a1a">3</text>
<text x="643.7" y="418.5" font-size="8.3" font-weight="bold" text-anchor="start" dominant-baseline="central" fill="#1a1a1a">4</text>
<text x="643.7" y="393.7" font-size="8.3" font-weight="bold" text-anchor="start" dominant-baseline="central" fill="#1a1a1a">5</text>
<text x="578.2" y="529.8" font-size="9.3" font-weight="bold" text-anchor="middle" dominant-baseline="central" fill="#1a1a1a" textLength="27" lengthAdjust="spacingAndGlyphs">LIPUS</text>
<text x="613.5" y="529.8" font-size="9.3" font-weight="bold" text-anchor="middle" dominant-baseline="central" fill="#1a1a1a" textLength="31.5" lengthAdjust="spacingAndGlyphs">CTROL</text>
<path d="M578.2 469.8C577.53 469.8 576.77 470.4 576.2 470.8C575.63 471.2 575.1 471.73 574.8 472.2C574.5 472.67 574.75 473.17 574.4 473.6C574.05 474.03 573.73 474.47 572.7 474.8C571.67 475.13 569.17 475.35 568.2 475.6C567.23 475.85 566.73 476.07 566.9 476.3C567.07 476.53 567.82 476.75 569.2 477C570.58 477.25 573.95 477.5 575.2 477.8C576.45 478.1 576.58 478.38 576.7 478.8C576.82 479.22 576.02 479.8 575.9 480.3C575.78 480.8 575.62 481.35 576 481.8C576.38 482.25 577.47 483 578.2 483C578.93 483 580.02 482.25 580.4 481.8C580.78 481.35 580.62 480.8 580.5 480.3C580.38 479.8 579.58 479.22 579.7 478.8C579.82 478.38 579.95 478.1 581.2 477.8C582.45 477.5 585.82 477.25 587.2 477C588.58 476.75 589.33 476.53 589.5 476.3C589.67 476.07 589.17 475.85 588.2 475.6C587.23 475.35 584.73 475.13 583.7 474.8C582.67 474.47 582.35 474.03 582 473.6C581.65 473.17 581.9 472.67 581.6 472.2C581.3 471.73 580.77 471.2 580.2 470.8C579.63 470.4 578.87 469.8 578.2 469.8Z" fill="#00ffff" stroke="#000" stroke-width="1.7" stroke-linejoin="round"/>
<path d="M613.5 440.6C613.13 440.6 612.67 441.12 612.4 441.6C612.13 442.08 611.93 442.77 611.9 443.5C611.87 444.23 612.05 445.25 612.2 446C612.35 446.75 612.7 447 612.8 448C612.9 449 612.88 450.5 612.8 452C612.72 453.5 612.55 455.5 612.3 457C612.05 458.5 611.7 459.75 611.3 461C610.9 462.25 610.45 463.53 609.9 464.5C609.35 465.47 608.98 466.12 608 466.8C607.02 467.48 604.97 468.12 604 468.6C603.03 469.08 602.28 469.32 602.2 469.7C602.12 470.08 602.7 470.48 603.5 470.9C604.3 471.32 605.97 471.68 607 472.2C608.03 472.72 608.98 473.37 609.7 474C610.42 474.63 610.87 475.33 611.3 476C611.73 476.67 611.93 477.47 612.3 478C612.67 478.53 613.1 479.2 613.5 479.2C613.9 479.2 614.33 478.53 614.7 478C615.07 477.47 615.27 476.67 615.7 476C616.13 475.33 616.58 474.63 617.3 474C618.02 473.37 618.97 472.72 620 472.2C621.03 471.68 622.7 471.32 623.5 470.9C624.3 470.48 624.88 470.08 624.8 469.7C624.72 469.32 623.97 469.08 623 468.6C622.03 468.12 619.98 467.48 619 466.8C618.02 466.12 617.65 465.47 617.1 464.5C616.55 463.53 616.1 462.25 615.7 461C615.3 459.75 614.95 458.5 614.7 457C614.45 455.5 614.28 453.5 614.2 452C614.12 450.5 614.1 449 614.2 448C614.3 447 614.65 446.75 614.8 446C614.95 445.25 615.13 444.23 615.1 443.5C615.07 442.77 614.87 442.08 614.6 441.6C614.33 441.12 613.87 440.6 613.5 440.6Z" fill="#ff0000" stroke="#000" stroke-width="1.7" stroke-linejoin="round"/>
<path d="M569.2 476.3H587.2" stroke="#000" stroke-width="0.7" stroke-dasharray="1.2 1.2" fill="none"/>
<path d="M608 467.5H619M603.5 470H623.5M607.5 472.5H619.5" stroke="#000" stroke-width="0.7" stroke-dasharray="1.2 1.2" fill="none"/>
<path d="M569.6 610.6H587.6M573.1 614H584.1M571.1 617.5H586.1" stroke="#000" stroke-width="0.7" stroke-dasharray="1.2 1.2" fill="none"/>
<path d="M610.1 612.5H618.1M605.1 615.4H623.1M609.1 618H619.1" stroke="#000" stroke-width="0.7" stroke-dasharray="1.2 1.2" fill="none"/>
<path d="M578.2 461.8V424.8H613.5V432.2" stroke="#000" stroke-width="1.1" fill="none"/>
<text x="595.6" y="420.3" font-size="10" font-weight="bold" text-anchor="middle" dominant-baseline="central" fill="#1a1a1a" textLength="21" lengthAdjust="spacingAndGlyphs">****</text>
<path d="M554.3 680.6H638.1V555.8" stroke="#000" stroke-width="1.3" fill="none"/>
<path d="M578.6 680.6V685.1M614.1 680.6V685.1M638.1 680.6H642.5M638.1 639.2H642.5M638.1 597.8H642.5M638.1 556.4H642.5" stroke="#000" stroke-width="1.1" fill="none"/>
<text x="644.5" y="680.9" font-size="8.3" font-weight="bold" text-anchor="start" dominant-baseline="central" fill="#1a1a1a">0</text>
<text x="644.5" y="639.5" font-size="8.3" font-weight="bold" text-anchor="start" dominant-baseline="central" fill="#1a1a1a">1</text>
<text x="644.5" y="598.1" font-size="8.3" font-weight="bold" text-anchor="start" dominant-baseline="central" fill="#1a1a1a">2</text>
<text x="644.5" y="556.7" font-size="8.3" font-weight="bold" text-anchor="start" dominant-baseline="central" fill="#1a1a1a">3</text>
<text x="578.6" y="692.8" font-size="9.3" font-weight="bold" text-anchor="middle" dominant-baseline="central" fill="#1a1a1a" textLength="27" lengthAdjust="spacingAndGlyphs">LIPUS</text>
<text x="614.1" y="692.8" font-size="9.3" font-weight="bold" text-anchor="middle" dominant-baseline="central" fill="#1a1a1a" textLength="31.5" lengthAdjust="spacingAndGlyphs">CTROL</text>
<path d="M578.6 602.5C577.93 602.5 577.27 603.42 576.6 604C575.93 604.58 575.43 605.33 574.6 606C573.77 606.67 572.77 607.23 571.6 608C570.43 608.77 567.85 609.93 567.6 610.6C567.35 611.27 569.35 611.52 570.1 612C570.85 612.48 572.02 613 572.1 613.5C572.18 614 571.02 614.42 570.6 615C570.18 615.58 569.43 616.42 569.6 617C569.77 617.58 570.77 618 571.6 618.5C572.43 619 573.85 619.42 574.6 620C575.35 620.58 575.77 621.33 576.1 622C576.43 622.67 576.4 623.33 576.6 624C576.8 624.67 576.97 625.3 577.3 626C577.63 626.7 578.17 628.2 578.6 628.2C579.03 628.2 579.57 626.7 579.9 626C580.23 625.3 580.4 624.67 580.6 624C580.8 623.33 580.77 622.67 581.1 622C581.43 621.33 581.85 620.58 582.6 620C583.35 619.42 584.77 619 585.6 618.5C586.43 618 587.43 617.58 587.6 617C587.77 616.42 587.02 615.58 586.6 615C586.18 614.42 585.02 614 585.1 613.5C585.18 613 586.35 612.48 587.1 612C587.85 611.52 589.85 611.27 589.6 610.6C589.35 609.93 586.77 608.77 585.6 608C584.43 607.23 583.43 606.67 582.6 606C581.77 605.33 581.27 604.58 580.6 604C579.93 603.42 579.27 602.5 578.6 602.5Z" fill="#00ffff" stroke="#000" stroke-width="1.7" stroke-linejoin="round"/>
<path d="M614.1 603.1C613.6 603.1 613.02 604.35 612.6 605C612.18 605.65 611.9 606.25 611.6 607C611.3 607.75 610.97 608.83 610.8 609.5C610.63 610.17 610.88 610.5 610.6 611C610.32 611.5 610.02 612 609.1 612.5C608.18 613 606.1 613.52 605.1 614C604.1 614.48 603.1 614.93 603.1 615.4C603.1 615.87 604.1 616.28 605.1 616.8C606.1 617.32 608.1 617.97 609.1 618.5C610.1 619.03 610.52 619.5 611.1 620C611.68 620.5 612.1 621.03 612.6 621.5C613.1 621.97 613.6 622.8 614.1 622.8C614.6 622.8 615.1 621.97 615.6 621.5C616.1 621.03 616.52 620.5 617.1 620C617.68 619.5 618.1 619.03 619.1 618.5C620.1 617.97 622.1 617.32 623.1 616.8C624.1 616.28 625.1 615.87 625.1 615.4C625.1 614.93 624.1 614.48 623.1 614C622.1 613.52 620.02 613 619.1 612.5C618.18 612 617.88 611.5 617.6 611C617.32 610.5 617.57 610.17 617.4 609.5C617.23 608.83 616.9 607.75 616.6 607C616.3 606.25 616.02 605.65 615.6 605C615.18 604.35 614.6 603.1 614.1 603.1Z" fill="#ff0000" stroke="#000" stroke-width="1.7" stroke-linejoin="round"/>
<path d="M578.6 594.7V587.4H614.1V595.3" stroke="#000" stroke-width="1.1" fill="none"/>
<text x="596.7" y="578.9" font-size="9.3" font-weight="normal" text-anchor="middle" dominant-baseline="central" fill="#1a1a1a">ns</text>
<defs><filter id="fGL" filterUnits="userSpaceOnUse" x="33" y="396" width="132.5" height="131.7" color-interpolation-filters="sRGB"><feGaussianBlur in="SourceGraphic" stdDeviation="6" result="map"/><feTurbulence type="turbulence" baseFrequency="0.13 0.19" numOctaves="3" seed="4" result="t"/><feColorMatrix in="t" type="matrix" values="-3 0 0 0 1.55  -3 0 0 0 1.55  -3 0 0 0 1.55  0 0 0 0 1" result="ga"/><feComponentTransfer in="ga" result="g"><feFuncR type="linear" slope="0.65" intercept="0.35"/><feFuncG type="linear" slope="0.65" intercept="0.35"/><feFuncB type="linear" slope="0.65" intercept="0.35"/></feComponentTransfer><feBlend in="map" in2="g" mode="multiply"/></filter><filter id="fGC" filterUnits="userSpaceOnUse" x="168.1" y="396" width="131.1" height="131.7" color-interpolation-filters="sRGB"><feGaussianBlur in="SourceGraphic" stdDeviation="7" result="map"/><feTurbulence type="turbulence" baseFrequency="0.19" numOctaves="3" seed="11" result="t"/><feColorMatrix in="t" type="matrix" values="-3 0 0 0 1.7  -3 0 0 0 1.7  -3 0 0 0 1.7  0 0 0 0 1" result="ga"/><feComponentTransfer in="ga" result="g"><feFuncR type="linear" slope="0.78" intercept="0.22"/><feFuncG type="linear" slope="0.78" intercept="0.22"/><feFuncB type="linear" slope="0.78" intercept="0.22"/></feComponentTransfer><feBlend in="map" in2="g" mode="multiply" result="x"/><feTurbulence type="fractalNoise" baseFrequency="0.2" numOctaves="1" seed="3" result="h"/><feColorMatrix in="h" type="matrix" values="0 0 0 0 0.02  0 0 0 0 0  0 0 0 0 0  -11 0 0 0 4" result="ym"/><feComposite in="ym" in2="x" operator="over" result="y"/></filter><filter id="fBL" filterUnits="userSpaceOnUse" x="33" y="557" width="132.5" height="131.5" color-interpolation-filters="sRGB"><feGaussianBlur in="SourceGraphic" stdDeviation="6" result="map"/><feTurbulence type="fractalNoise" baseFrequency="0.42" numOctaves="2" seed="7" result="t"/><feColorMatrix in="t" type="matrix" values="4 0 0 0 -1.6  4 0 0 0 -1.6  4 0 0 0 -1.6  0 0 0 0 1" result="ga"/><feComponentTransfer in="ga" result="g"><feFuncR type="linear" slope="0.6" intercept="0.4"/><feFuncG type="linear" slope="0.6" intercept="0.4"/><feFuncB type="linear" slope="0.6" intercept="0.4"/></feComponentTransfer><feBlend in="map" in2="g" mode="multiply"/></filter><filter id="fBC" filterUnits="userSpaceOnUse" x="168.1" y="557" width="131.1" height="131.5" color-interpolation-filters="sRGB"><feGaussianBlur in="SourceGraphic" stdDeviation="7" result="map"/><feTurbulence type="turbulence" baseFrequency="0.13" numOctaves="3" seed="21" result="t"/><feColorMatrix in="t" type="matrix" values="-2.3 0 0 0 1.3  -2.3 0 0 0 1.3  -2.3 0 0 0 1.3  0 0 0 0 1" result="ga"/><feComponentTransfer in="ga" result="g"><feFuncR type="linear" slope="0.82" intercept="0.18"/><feFuncG type="linear" slope="0.82" intercept="0.18"/><feFuncB type="linear" slope="0.82" intercept="0.18"/></feComponentTransfer><feBlend in="map" in2="g" mode="multiply" result="x"/><feTurbulence type="fractalNoise" baseFrequency="0.15" numOctaves="2" seed="13" result="h"/><feColorMatrix in="h" type="matrix" values="0 0 0 0 0  0 0 0 0 0.02  0 0 0 0 0  -9 0 0 0 3.2" result="ym"/><feComposite in="ym" in2="x" operator="over" result="y"/></filter><filter id="fML" filterUnits="userSpaceOnUse" x="161.3" y="743.1" width="164.7" height="164.9" color-interpolation-filters="sRGB"><feGaussianBlur in="SourceGraphic" stdDeviation="7" result="map"/><feTurbulence type="fractalNoise" baseFrequency="0.2" numOctaves="2" seed="31" result="t1"/><feTurbulence type="fractalNoise" baseFrequency="0.2" numOctaves="2" seed="57" result="t2"/><feColorMatrix in="t1" type="matrix" values="3 0 0 0 -1  0 0 0 0 0  0 0 0 0 0  0 0 0 0 1" result="m1"/><feColorMatrix in="t2" type="matrix" values="0 0 0 0 0  3 0 0 0 -1  0 0 0 0 0  0 0 0 0 1" result="m2"/><feComposite in="m1" in2="m2" operator="arithmetic" k2="1" k3="1" result="m12"/><feComponentTransfer in="m12" result="g"><feFuncR type="linear" slope="0.6" intercept="0.5"/><feFuncG type="linear" slope="0.6" intercept="0.5"/><feFuncB type="linear" slope="0" intercept="0.85"/></feComponentTransfer><feBlend in="map" in2="g" mode="multiply" result="x"/><feTurbulence type="fractalNoise" baseFrequency="0.3 0.24" numOctaves="1" seed="5" result="dn"/><feColorMatrix in="dn" type="matrix" values="0 0 0 0 0.22  0 0 0 0 0.3  0 0 0 0 0.95  10 0 0 0 -6.3" result="zm"/><feComposite in="zm" in2="x" operator="over" result="z"/><feTurbulence type="fractalNoise" baseFrequency="0.3 0.24" numOctaves="1" seed="6" result="dm"/><feColorMatrix in="dm" type="matrix" values="0 0 0 0 0.2  0 0 0 0 0.72  0 0 0 0 0.8  10 0 0 0 -6.3" result="wm"/><feComposite in="wm" in2="z" operator="over" result="w"/></filter><filter id="fMC" filterUnits="userSpaceOnUse" x="329.5" y="743.1" width="165.4" height="164.9" color-interpolation-filters="sRGB"><feGaussianBlur in="SourceGraphic" stdDeviation="7" result="map"/><feTurbulence type="turbulence" baseFrequency="0.17" numOctaves="3" seed="41" result="t1"/><feTurbulence type="turbulence" baseFrequency="0.17" numOctaves="3" seed="77" result="t2"/><feColorMatrix in="t1" type="matrix" values="-3 0 0 0 1.5  0 0 0 0 0  0 0 0 0 0  0 0 0 0 1" result="m1"/><feColorMatrix in="t2" type="matrix" values="0 0 0 0 0  -3 0 0 0 1.5  0 0 0 0 0  0 0 0 0 1" result="m2"/><feComposite in="m1" in2="m2" operator="arithmetic" k2="1" k3="1" result="m12"/><feComponentTransfer in="m12" result="g"><feFuncR type="linear" slope="0.75" intercept="0.25"/><feFuncG type="linear" slope="0.75" intercept="0.25"/><feFuncB type="linear" slope="0" intercept="0.7"/></feComponentTransfer><feBlend in="map" in2="g" mode="multiply" result="x"/><feTurbulence type="fractalNoise" baseFrequency="0.2" numOctaves="1" seed="19" result="h"/><feColorMatrix in="h" type="matrix" values="0 0 0 0 0.03  0 0 0 0 0.02  0 0 0 0 0  -10 0 0 0 3.5" result="ym"/><feComposite in="ym" in2="x" operator="over" result="y"/><feTurbulence type="fractalNoise" baseFrequency="0.3 0.24" numOctaves="1" seed="9" result="dn"/><feColorMatrix in="dn" type="matrix" values="0 0 0 0 0.22  0 0 0 0 0.3  0 0 0 0 0.95  10 0 0 0 -6.3" result="zm"/><feComposite in="zm" in2="y" operator="over" result="z"/><feTurbulence type="fractalNoise" baseFrequency="0.3 0.24" numOctaves="1" seed="10" result="dm"/><feColorMatrix in="dm" type="matrix" values="0 0 0 0 0.3  0 0 0 0 0.35  0 0 0 0 0.95  10 0 0 0 -6.3" result="wm"/><feComposite in="wm" in2="z" operator="over" result="w"/></filter><filter id="bl2" x="-20%" y="-20%" width="140%" height="140%"><feGaussianBlur stdDeviation="1.2"/></filter></defs>
<clipPath id="GLc"><rect x="33" y="396" width="132.5" height="131.7"/></clipPath>
<g clip-path="url(#GLc)">
<g filter="url(#fGL)">
<rect x="18" y="381" width="31.86" height="31.76" fill="#2f0000"/>
<rect x="49.56" y="381" width="16.86" height="31.76" fill="#420000"/>
<rect x="66.12" y="381" width="16.86" height="31.76" fill="#240000"/>
<rect x="82.69" y="381" width="16.86" height="31.76" fill="#120000"/>
<rect x="99.25" y="381" width="16.86" height="31.76" fill="#170000"/>
<rect x="115.81" y="381" width="16.86" height="31.76" fill="#180000"/>
<rect x="132.38" y="381" width="16.86" height="31.76" fill="#1f0000"/>
<rect x="148.94" y="381" width="31.86" height="31.76" fill="#0f0000"/>
<rect x="18" y="412.46" width="31.86" height="16.76" fill="#7a0000"/>
<rect x="49.56" y="412.46" width="16.86" height="16.76" fill="#590000"/>
<rect x="66.12" y="412.46" width="16.86" height="16.76" fill="#180000"/>
<rect x="82.69" y="412.46" width="16.86" height="16.76" fill="#ef0000"/>
<rect x="99.25" y="412.46" width="16.86" height="16.76" fill="#6f0000"/>
<rect x="115.81" y="412.46" width="16.86" height="16.76" fill="#490000"/>
<rect x="132.38" y="412.46" width="16.86" height="16.76" fill="#380000"/>
<rect x="148.94" y="412.46" width="31.86" height="16.76" fill="#380000"/>
<rect x="18" y="428.93" width="31.86" height="16.76" fill="#760000"/>
<rect x="49.56" y="428.93" width="16.86" height="16.76" fill="#510000"/>
<rect x="66.12" y="428.93" width="16.86" height="16.76" fill="#290000"/>
<rect x="82.69" y="428.93" width="16.86" height="16.76" fill="#f70000"/>
<rect x="99.25" y="428.93" width="16.86" height="16.76" fill="#7c0000"/>
<rect x="115.81" y="428.93" width="16.86" height="16.76" fill="#530000"/>
<rect x="132.38" y="428.93" width="16.86" height="16.76" fill="#430000"/>
<rect x="148.94" y="428.93" width="31.86" height="16.76" fill="#3f0000"/>
<rect x="18" y="445.39" width="31.86" height="16.76" fill="#750000"/>
<rect x="49.56" y="445.39" width="16.86" height="16.76" fill="#4e0000"/>
<rect x="66.12" y="445.39" width="16.86" height="16.76" fill="#300000"/>
<rect x="82.69" y="445.39" width="16.86" height="16.76" fill="#fb0000"/>
<rect x="99.25" y="445.39" width="16.86" height="16.76" fill="#ff0000"/>
<rect x="115.81" y="445.39" width="16.86" height="16.76" fill="#660000"/>
<rect x="132.38" y="445.39" width="16.86" height="16.76" fill="#630000"/>
<rect x="148.94" y="445.39" width="31.86" height="16.76" fill="#400000"/>
<rect x="18" y="461.85" width="31.86" height="16.76" fill="#5a0000"/>
<rect x="49.56" y="461.85" width="16.86" height="16.76" fill="#550000"/>
<rect x="66.12" y="461.85" width="16.86" height="16.76" fill="#380000"/>
<rect x="82.69" y="461.85" width="16.86" height="16.76" fill="#ca0000"/>
<rect x="99.25" y="461.85" width="16.86" height="16.76" fill="#ec0000"/>
<rect x="115.81" y="461.85" width="16.86" height="16.76" fill="#610000"/>
<rect x="132.38" y="461.85" width="16.86" height="16.76" fill="#450000"/>
<rect x="148.94" y="461.85" width="31.86" height="16.76" fill="#5d0000"/>
<rect x="18" y="478.31" width="31.86" height="16.76" fill="#6c0000"/>
<rect x="49.56" y="478.31" width="16.86" height="16.76" fill="#560000"/>
<rect x="66.12" y="478.31" width="16.86" height="16.76" fill="#430000"/>
<rect x="82.69" y="478.31" width="16.86" height="16.76" fill="#ae0000"/>
<rect x="99.25" y="478.31" width="16.86" height="16.76" fill="#ff0000"/>
<rect x="115.81" y="478.31" width="16.86" height="16.76" fill="#770000"/>
<rect x="132.38" y="478.31" width="16.86" height="16.76" fill="#470000"/>
<rect x="148.94" y="478.31" width="31.86" height="16.76" fill="#3a0000"/>
<rect x="18" y="494.77" width="31.86" height="16.76" fill="#6b0000"/>
<rect x="49.56" y="494.77" width="16.86" height="16.76" fill="#470000"/>
<rect x="66.12" y="494.77" width="16.86" height="16.76" fill="#420000"/>
<rect x="82.69" y="494.77" width="16.86" height="16.76" fill="#a60000"/>
<rect x="99.25" y="494.77" width="16.86" height="16.76" fill="#ff0000"/>
<rect x="115.81" y="494.77" width="16.86" height="16.76" fill="#1f0000"/>
<rect x="132.38" y="494.77" width="16.86" height="16.76" fill="#4c0000"/>
<rect x="148.94" y="494.77" width="31.86" height="16.76" fill="#450000"/>
<rect x="18" y="511.24" width="31.86" height="31.76" fill="#680000"/>
<rect x="49.56" y="511.24" width="16.86" height="31.76" fill="#570000"/>
<rect x="66.12" y="511.24" width="16.86" height="31.76" fill="#4c0000"/>
<rect x="82.69" y="511.24" width="16.86" height="31.76" fill="#800000"/>
<rect x="99.25" y="511.24" width="16.86" height="31.76" fill="#830000"/>
<rect x="115.81" y="511.24" width="16.86" height="31.76" fill="#6c0000"/>
<rect x="132.38" y="511.24" width="16.86" height="31.76" fill="#0b0000"/>
<rect x="148.94" y="511.24" width="31.86" height="31.76" fill="#040000"/>
</g>
<path d="M117.12 510.32Q114.97 511.49 115.55 509Q116.52 507.07 114.9 506.98Q115.41 506.5 116.82 503.71Q118.49 504.66 119.55 501.9" stroke="#ff1a1a" stroke-width="0.67" stroke-opacity="0.43" fill="none" stroke-linecap="round"/>
<path d="M136.21 508.63Q134.15 508.33 132.83 510.18Q129.56 508.7 130.06 508.99Q129.52 506.93 127.39 506.27" stroke="#ff1a1a" stroke-width="0.87" stroke-opacity="0.5" fill="none" stroke-linecap="round"/>
<path d="M96.87 480.12Q93.35 479.91 92.64 481.35Q88.89 480.85 88.78 479.43Q87.44 480.12 87.46 477.76" stroke="#ff1a1a" stroke-width="1.09" stroke-opacity="0.48" fill="none" stroke-linecap="round"/>
<path d="M101.91 480.8Q103.13 478.73 101.85 478.49Q104.37 476.45 103.4 474.91Q102.77 474.68 103.44 472.13Q102.07 470.17 101.7 467.49" stroke="#ff1a1a" stroke-width="0.67" stroke-opacity="0.52" fill="none" stroke-linecap="round"/>
<path d="M111.09 521.75Q112.84 521.1 113.84 521.88Q114.78 521.76 116.77 520.88Q119.08 518.2 119.21 519.31" stroke="#ff1a1a" stroke-width="0.88" stroke-opacity="0.56" fill="none" stroke-linecap="round"/>
<path d="M103.18 421.13Q104.29 420.43 102.96 418.59Q100.62 415.72 101.25 414.51Q98.99 412.74 97.95 411.63Q98.23 409.42 95.15 409.96" stroke="#ff1a1a" stroke-width="0.6" stroke-opacity="0.63" fill="none" stroke-linecap="round"/>
<path d="M131.78 506.19Q132.26 505.45 129.61 501.81Q129.16 498.76 131.74 497.76Q132.72 496.06 133.6 496.78Q133.69 495.35 137.38 494.07" stroke="#ff1a1a" stroke-width="0.66" stroke-opacity="0.48" fill="none" stroke-linecap="round"/>
<path d="M104.68 502.88Q107.11 502.14 107.01 504.02Q108.82 507.42 108.19 508.23" stroke="#ff1a1a" stroke-width="0.6" stroke-opacity="0.52" fill="none" stroke-linecap="round"/>
<path d="M102.86 451.71Q98.93 449.06 98.62 450.01Q98 450.98 95.69 451.82" stroke="#ff1a1a" stroke-width="0.84" stroke-opacity="0.35" fill="none" stroke-linecap="round"/>
<path d="M84.63 436.05Q83.64 438.25 86.62 438.67Q85.87 440.42 88.79 442.48Q90.17 442.44 90.45 446.06" stroke="#ff1a1a" stroke-width="1.04" stroke-opacity="0.32" fill="none" stroke-linecap="round"/>
<path d="M116.14 496.1Q115.87 496.56 117.85 498.86Q116.66 499.27 117.67 502.63Q119.85 503.86 118.28 504.62Q121.05 507.51 122.29 506.89" stroke="#ff1a1a" stroke-width="0.97" stroke-opacity="0.6" fill="none" stroke-linecap="round"/>
<path d="M103.25 445.58Q105.43 443.39 106.92 445.17Q106.2 444.05 109.12 446.2Q108.25 445.36 109.96 448.34" stroke="#ff1a1a" stroke-width="1.02" stroke-opacity="0.34" fill="none" stroke-linecap="round"/>
<path d="M109.73 501.2Q109.55 503.27 112.52 503.36Q114.16 503.09 117.21 502.31Q117.59 499.81 120.54 499.3Q121.99 498.34 124.29 498.43" stroke="#ff1a1a" stroke-width="0.8" stroke-opacity="0.42" fill="none" stroke-linecap="round"/>
<path d="M101.51 459.71Q100.67 459.53 99.96 457.77Q100.22 454.19 97.61 453.52" stroke="#ff1a1a" stroke-width="0.98" stroke-opacity="0.35" fill="none" stroke-linecap="round"/>
<path d="M110.46 525.56Q110.75 523.55 111.99 524.17Q113.8 521.38 113.41 521.44Q114.86 519.06 115.52 516.93" stroke="#ff1a1a" stroke-width="1.02" stroke-opacity="0.59" fill="none" stroke-linecap="round"/>
<path d="M106.82 459.39Q106.19 459.21 109.2 455.75Q112.1 452.53 112.79 452.76Q114.85 452.63 113.78 450.3" stroke="#ff1a1a" stroke-width="0.67" stroke-opacity="0.52" fill="none" stroke-linecap="round"/>
<path d="M90.31 453.74Q89.25 453.83 89.18 451.75Q88.18 451.08 85.77 449.17Q84.62 450.63 81.43 448.39" stroke="#ff1a1a" stroke-width="0.94" stroke-opacity="0.49" fill="none" stroke-linecap="round"/>
<path d="M122.91 470.59Q124.28 473.17 126.69 472.39Q128.52 473.51 129.86 471.26Q131.51 470.38 133.79 471.1Q136.2 471.82 136.35 470.9" stroke="#ff1a1a" stroke-width="0.65" stroke-opacity="0.36" fill="none" stroke-linecap="round"/>
<path d="M106.37 471.84Q107 471.12 104.66 474.05Q105.47 475.21 104.13 477.53" stroke="#ff1a1a" stroke-width="0.77" stroke-opacity="0.44" fill="none" stroke-linecap="round"/>
<path d="M104.75 497.63Q104.57 498.72 102.94 499.3Q103.62 501.93 102.7 504.02" stroke="#ff1a1a" stroke-width="0.94" stroke-opacity="0.44" fill="none" stroke-linecap="round"/>
<path d="M113.55 509.2Q113.12 506.58 115.07 505.96Q115.24 505.62 112.99 502.14Q111.57 500.68 109.74 498.55Q110.91 495.84 110.59 494.74" stroke="#ff1a1a" stroke-width="1.03" stroke-opacity="0.47" fill="none" stroke-linecap="round"/>
<path d="M112.68 491.72Q114.27 489.71 114.85 490.11Q116.86 489.78 116.36 486.04Q114.51 484.46 114.38 481.62Q112.16 482.23 113.23 479.45" stroke="#ff1a1a" stroke-width="0.61" stroke-opacity="0.52" fill="none" stroke-linecap="round"/>
<path d="M100.04 461.67Q101.79 461.33 101.98 463.92Q104.8 466.78 104.21 467.91Q106.98 471.07 107.29 470.78" stroke="#ff1a1a" stroke-width="1.03" stroke-opacity="0.45" fill="none" stroke-linecap="round"/>
<path d="M125.65 466.78Q125.26 469.26 125.21 470.22Q123.3 470.9 125.08 473.53Q124.68 475.41 125.38 478.07Q123.15 479.65 122.85 482.27" stroke="#ff1a1a" stroke-width="1.03" stroke-opacity="0.49" fill="none" stroke-linecap="round"/>
<path d="M110.45 462.33Q109.27 460.34 108.16 461.88Q106.77 462.6 106.11 461.69" stroke="#ff1a1a" stroke-width="0.63" stroke-opacity="0.44" fill="none" stroke-linecap="round"/>
<path d="M78.89 412.32Q81.06 414.86 79.69 415.08Q80.67 415.53 81.16 419.74Q79.48 419.14 79.27 422.08Q79.97 422.14 79.73 425.36" stroke="#ff1a1a" stroke-width="0.94" stroke-opacity="0.31" fill="none" stroke-linecap="round"/>
<path d="M99.65 459.46Q103.5 460.67 103.56 462.07Q105.64 462.39 104.2 466.44Q105.89 466.24 104.01 469.34Q101.47 469.94 102.01 471.42" stroke="#ff1a1a" stroke-width="0.77" stroke-opacity="0.54" fill="none" stroke-linecap="round"/>
<path d="M131.02 492.66Q132.08 490.88 130.73 489.6Q130.62 489.29 131.75 486.42Q134.7 486.01 134.32 484.01Q132.77 482.61 133.85 479.19" stroke="#ff1a1a" stroke-width="1.01" stroke-opacity="0.33" fill="none" stroke-linecap="round"/>
<path d="M124.67 483Q124.68 486.19 121.67 486.39Q120.93 485.81 118.32 486.57Q116.96 489.61 116.41 489.02Q114.02 488.15 114.75 490.63" stroke="#ff1a1a" stroke-width="0.92" stroke-opacity="0.38" fill="none" stroke-linecap="round"/>
<path d="M118.4 473.12Q121.06 472.48 120.9 471.72Q121.85 473.78 124.26 472.78" stroke="#ff1a1a" stroke-width="0.99" stroke-opacity="0.46" fill="none" stroke-linecap="round"/>
<path d="M121.58 488.12Q122.62 490.14 120.97 491.4Q122.01 493.3 122.73 495.49Q124.1 496.08 126.7 496.8Q128.65 496.95 128.72 497.71" stroke="#ff1a1a" stroke-width="0.92" stroke-opacity="0.51" fill="none" stroke-linecap="round"/>
<path d="M114.11 518.66Q113.17 518.89 111.24 519.85Q109.15 518.93 107.31 517.31Q105.29 517.83 107.13 515.21" stroke="#ff1a1a" stroke-width="0.61" stroke-opacity="0.35" fill="none" stroke-linecap="round"/>
<path d="M95.55 421.66Q97.42 424.02 97.36 424.42Q97.96 424.34 100.16 424.98Q102.19 425.26 102.13 423.92" stroke="#ff1a1a" stroke-width="1.09" stroke-opacity="0.64" fill="none" stroke-linecap="round"/>
<path d="M94.37 465.27Q90.08 465.15 89.56 466.04Q89.2 467.02 86.86 464.55Q85.79 463.95 83.69 466.16" stroke="#ff1a1a" stroke-width="0.61" stroke-opacity="0.63" fill="none" stroke-linecap="round"/>
<path d="M106.22 460.56Q105.06 462.26 107.49 463.6Q107.28 465.63 109.08 465.24Q108.8 465.47 112.17 466.26" stroke="#ff1a1a" stroke-width="0.91" stroke-opacity="0.54" fill="none" stroke-linecap="round"/>
<path d="M133.48 499.98Q130.46 498.73 130.09 501.35Q129.91 500.44 126.48 499.79Q127.14 498.3 125.28 495.98" stroke="#ff1a1a" stroke-width="0.81" stroke-opacity="0.48" fill="none" stroke-linecap="round"/>
<path d="M105.49 449.75Q104.4 451.27 105.06 452.56Q104.22 454.07 107.07 455.7Q108.23 455.86 108.7 457.84" stroke="#ff1a1a" stroke-width="0.76" stroke-opacity="0.51" fill="none" stroke-linecap="round"/>
<path d="M97.53 495.11Q97.51 494.33 100.03 494.48Q100.95 494.98 103.69 491.88Q104.61 489 106.38 487.87" stroke="#ff1a1a" stroke-width="0.67" stroke-opacity="0.39" fill="none" stroke-linecap="round"/>
<path d="M131.45 506.4Q132.7 503.76 132.42 501.67Q131.88 499.45 133.03 496.76" stroke="#ff1a1a" stroke-width="0.69" stroke-opacity="0.47" fill="none" stroke-linecap="round"/>
<path d="M126.48 486.87Q123.51 489.48 124.1 490.01Q125.35 492.78 124.02 492.54Q123.29 492.69 122.28 493.79" stroke="#ff1a1a" stroke-width="0.65" stroke-opacity="0.44" fill="none" stroke-linecap="round"/>
<path d="M132.13 498.98Q128.92 498.73 128.52 498.82Q126.37 498.99 125.85 497.16Q125.19 498.66 121.66 496.49" stroke="#ff1a1a" stroke-width="0.76" stroke-opacity="0.59" fill="none" stroke-linecap="round"/>
<path d="M109.97 438.92Q108.22 437.37 107.49 437.29Q108.32 437.94 105.31 435.12" stroke="#ff1a1a" stroke-width="1.03" stroke-opacity="0.59" fill="none" stroke-linecap="round"/>
<path d="M99.36 492.43Q97.84 492.19 98.18 494.92Q95.61 496.18 95.63 496.49Q92.22 495.41 92.4 494.98Q90.12 492.81 89.51 492.75" stroke="#ff1a1a" stroke-width="0.79" stroke-opacity="0.37" fill="none" stroke-linecap="round"/>
<path d="M90.66 421.93Q93.92 423.82 95.28 423.09Q96.12 425.8 97.43 427.06Q96.64 428.1 96.82 429.34Q95.96 432.94 97.58 433.95" stroke="#ff1a1a" stroke-width="0.9" stroke-opacity="0.33" fill="none" stroke-linecap="round"/>
<path d="M120.43 453.45Q122.18 454.01 124.4 452.55Q123.59 450.26 126.7 448.13Q129.56 446.97 129.82 447.16Q132.97 445.75 133.04 446.72" stroke="#ff1a1a" stroke-width="0.8" stroke-opacity="0.33" fill="none" stroke-linecap="round"/>
<path d="M120.64 465.59Q121.16 466.55 121.01 468.59Q123.3 470.5 122.7 471.72Q123.38 474.49 124.48 475.49" stroke="#ff1a1a" stroke-width="1.03" stroke-opacity="0.52" fill="none" stroke-linecap="round"/>
<path d="M99.42 506.92Q101.08 509.13 99.7 509.89Q100.39 510.48 102.14 513.29" stroke="#ff1a1a" stroke-width="0.74" stroke-opacity="0.42" fill="none" stroke-linecap="round"/>
<path d="M81.33 426.6Q81.2 425.61 80.28 423.59Q79.86 424.47 77.15 422.46Q74.71 423.22 74.12 420.78Q73.36 422.83 70.06 420.99" stroke="#ff1a1a" stroke-width="0.77" stroke-opacity="0.65" fill="none" stroke-linecap="round"/>
<path d="M97.01 419.54Q94.47 417.54 93.36 416.75Q92.7 415.06 91 416.16Q86.78 415.56 86.23 416.17" stroke="#ff1a1a" stroke-width="0.92" stroke-opacity="0.52" fill="none" stroke-linecap="round"/>
<path d="M126.02 524.47Q125.68 524.14 125 519.9Q124.79 515.78 126.24 515.57Q127.02 514 128.99 512.61Q130.23 511.06 129.89 509.02" stroke="#ff1a1a" stroke-width="0.79" stroke-opacity="0.34" fill="none" stroke-linecap="round"/>
<path d="M106.4 438.1Q107.62 436.55 105.58 434.57Q106.35 433.87 106.26 431.55" stroke="#ff1a1a" stroke-width="0.68" stroke-opacity="0.53" fill="none" stroke-linecap="round"/>
<path d="M106.78 437.56Q108.86 437.41 107.4 440.32Q107.77 441.71 108.67 444.99Q110.86 446.57 112.48 448.06" stroke="#ff1a1a" stroke-width="0.7" stroke-opacity="0.38" fill="none" stroke-linecap="round"/>
<path d="M130.18 514.91Q133.29 513.99 132.53 514.4Q132.16 513.07 134.65 515.41Q133.42 518.73 135.13 518.85Q135.85 520.74 136.05 522.04" stroke="#ff1a1a" stroke-width="1.09" stroke-opacity="0.45" fill="none" stroke-linecap="round"/>
<path d="M116.24 470.24Q118.97 470.17 117.86 468.19Q118.03 467.66 121.01 466.77Q121.61 464.89 124.92 465.92" stroke="#ff1a1a" stroke-width="0.91" stroke-opacity="0.61" fill="none" stroke-linecap="round"/>
<path d="M88.1 408.63Q86.28 407.88 86.51 410.35Q84.12 411.14 83.95 412.29Q84.24 412.45 80.65 413.56Q79.63 416.02 77.92 417.38" stroke="#ff1a1a" stroke-width="1" stroke-opacity="0.36" fill="none" stroke-linecap="round"/>
<path d="M92.89 465.86Q94.1 467.22 95.16 470.11Q96.8 470.2 98.23 471.92Q100.49 472.53 100.33 471.2Q99.02 469.62 101.52 467.06" stroke="#ff1a1a" stroke-width="0.63" stroke-opacity="0.48" fill="none" stroke-linecap="round"/>
<path d="M100.71 461.31Q100.3 463.59 98.21 465.39Q97.89 464.91 96.75 468.2Q94.59 468.93 94.37 469.88" stroke="#ff1a1a" stroke-width="0.73" stroke-opacity="0.43" fill="none" stroke-linecap="round"/>
<path d="M119.2 493.95Q121.7 494.95 123.4 494.66Q124.86 492.53 127.1 491.31Q130.1 490.51 129.79 490.09" stroke="#ff1a1a" stroke-width="0.82" stroke-opacity="0.45" fill="none" stroke-linecap="round"/>
<path d="M109.45 445.67Q110.59 445.33 112.83 443.18Q112.26 440.65 113.86 440.56Q115.94 437.46 116.19 437.54" stroke="#ff1a1a" stroke-width="0.98" stroke-opacity="0.47" fill="none" stroke-linecap="round"/>
<path d="M90.34 422.35Q88 424.41 89.49 425.93Q86.02 428.01 85.78 427.55Q82.76 426.57 82.82 428.75Q81.83 426.69 80.44 427.6" stroke="#ff1a1a" stroke-width="0.81" stroke-opacity="0.65" fill="none" stroke-linecap="round"/>
<path d="M41.81 448.89Q42.02 447.06 44.02 447.84Q46.32 448.22 45.19 445.97" stroke="#e01010" stroke-width="0.92" stroke-opacity="0.54" fill="none" stroke-linecap="round"/>
<path d="M58.63 436.81Q57.97 436.23 58.33 432.9Q56.93 430.61 57.54 430.34Q59.52 431.05 58.96 428.21Q57.42 427.33 57.54 424.82" stroke="#e01010" stroke-width="0.72" stroke-opacity="0.53" fill="none" stroke-linecap="round"/>
<path d="M58.85 451.81Q60.28 451.13 59.2 454.1Q58.21 455.28 58.99 456.18Q61.28 456.4 59.6 459.06" stroke="#e01010" stroke-width="0.77" stroke-opacity="0.36" fill="none" stroke-linecap="round"/>
<path d="M41.16 426.14Q41.76 423.84 38.88 423.2Q36.38 424.46 37.21 422Q35.8 420.23 35.77 419.87Q35.11 420.95 33.23 419.14" stroke="#e01010" stroke-width="0.95" stroke-opacity="0.5" fill="none" stroke-linecap="round"/>
<path d="M43.3 477.35Q45.85 475.79 44.71 475.57Q43.15 475.73 44.23 473.61Q41.78 474.46 42.55 471.46" stroke="#e01010" stroke-width="0.77" stroke-opacity="0.36" fill="none" stroke-linecap="round"/>
<path d="M55.35 485.14Q55.33 484.66 56.74 487.9Q60.14 489.68 59.56 490.24" stroke="#e01010" stroke-width="0.68" stroke-opacity="0.36" fill="none" stroke-linecap="round"/>
<path d="M62.03 454.41Q59.05 451.97 59.82 451.49Q57.57 452.55 57.47 450.66Q58.22 451.53 55.54 451.87" stroke="#e01010" stroke-width="1" stroke-opacity="0.42" fill="none" stroke-linecap="round"/>
<path d="M60.95 511.08Q63.42 511.23 63.49 510.25Q65.86 510.53 67 509.32" stroke="#e01010" stroke-width="0.71" stroke-opacity="0.58" fill="none" stroke-linecap="round"/>
<path d="M41.01 418.03Q39.41 418.32 38.68 416.23Q37.91 415.3 36.26 416.3Q34.57 414.51 33.82 414.94Q32.3 414.33 33.49 412.86" stroke="#e01010" stroke-width="0.93" stroke-opacity="0.47" fill="none" stroke-linecap="round"/>
<path d="M43.56 511.77Q43.73 512.05 47.23 511.99Q47.59 511.74 49.46 513.62Q47.84 513.57 49.47 516.6" stroke="#e01010" stroke-width="0.85" stroke-opacity="0.57" fill="none" stroke-linecap="round"/>
<path d="M41.87 512.07Q41.06 514.09 43.31 515.65Q45.33 515.63 45.7 517Q49.45 515.07 49.42 517.11" stroke="#e01010" stroke-width="0.67" stroke-opacity="0.49" fill="none" stroke-linecap="round"/>
<path d="M63.37 419.76Q63.97 420.42 66.07 417.77Q66.73 419.51 68.95 418.31" stroke="#e01010" stroke-width="0.91" stroke-opacity="0.48" fill="none" stroke-linecap="round"/>
<path d="M43.94 414.96Q43.95 415.73 46.38 414.15Q46.2 415.45 49.4 415.59" stroke="#e01010" stroke-width="0.96" stroke-opacity="0.4" fill="none" stroke-linecap="round"/>
<path d="M44.75 443.28Q45.35 442.6 45.99 441.32Q49.58 438.88 49.42 439.51" stroke="#e01010" stroke-width="0.86" stroke-opacity="0.5" fill="none" stroke-linecap="round"/>
<path d="M63.52 439.02Q61.56 439.22 60.38 436.88Q57.26 435.09 58.04 435.83Q57.43 434.18 55.91 433.61" stroke="#e01010" stroke-width="0.98" stroke-opacity="0.49" fill="none" stroke-linecap="round"/>
<path d="M67.17 425.26Q66.85 422.83 68.61 422.01Q69.28 420.85 67.63 418.24Q67.63 417.12 69.53 415.8Q67.49 413.92 69.2 413.51" stroke="#e01010" stroke-width="0.65" stroke-opacity="0.32" fill="none" stroke-linecap="round"/>
<path d="M53.43 507.2Q54 508.22 51.46 509.12Q50.46 509.21 50.25 511.95" stroke="#e01010" stroke-width="0.62" stroke-opacity="0.59" fill="none" stroke-linecap="round"/>
<path d="M69.91 485.06Q70.8 484.11 70.82 487.03Q73.68 487.36 73.25 487.42" stroke="#e01010" stroke-width="0.95" stroke-opacity="0.44" fill="none" stroke-linecap="round"/>
<path d="M61.09 472.25Q62.77 471.04 63.44 471.11Q66.75 473.24 66.91 472.31Q68.57 473.52 69.38 474.52Q69.51 476.21 72.99 476.19" stroke="#e01010" stroke-width="0.8" stroke-opacity="0.46" fill="none" stroke-linecap="round"/>
<path d="M72.5 447.16Q69.82 446.5 70.63 445.75Q68.67 443.53 68.45 443.66" stroke="#e01010" stroke-width="0.88" stroke-opacity="0.4" fill="none" stroke-linecap="round"/>
<path d="M61.45 459.03Q62.03 460.2 59.02 457.94Q57.01 455.94 57.32 455.69Q56.94 455.67 55.7 454.25" stroke="#e01010" stroke-width="0.86" stroke-opacity="0.48" fill="none" stroke-linecap="round"/>
<path d="M66.6 424.46Q65.24 423.43 63.32 424.76Q60.61 426.01 61.14 424.88" stroke="#e01010" stroke-width="0.73" stroke-opacity="0.56" fill="none" stroke-linecap="round"/>
<path d="M67.84 474.19Q66.29 474.44 65.83 470.77Q66.61 472.04 63.74 469.71Q61.72 469.66 63.25 466.38Q64.95 463.12 63.9 463.03" stroke="#e01010" stroke-width="0.68" stroke-opacity="0.34" fill="none" stroke-linecap="round"/>
<path d="M53.26 424.88Q52.63 425.7 50.57 427.46Q49.43 430.98 50.49 430.53Q48.46 430.18 50.26 432.89Q48.95 434.21 49.07 435.2" stroke="#e01010" stroke-width="0.98" stroke-opacity="0.59" fill="none" stroke-linecap="round"/>
<path d="M54.69 527.07Q52.14 524.39 52.5 525.48Q51.36 522.35 50.87 522.31Q51.99 521.02 49.96 519.88" stroke="#e01010" stroke-width="0.99" stroke-opacity="0.46" fill="none" stroke-linecap="round"/>
<ellipse cx="127" cy="420" rx="11" ry="3.2" fill="none" stroke="#ff2020" stroke-width="1" stroke-opacity="0.45" transform="rotate(-18 127 420)"/>
<ellipse cx="78.5" cy="418" rx="1.5" ry="5" fill="#000" fill-opacity="0.85"/>
<ellipse cx="80.8" cy="436" rx="2.6" ry="6.5" fill="#000" fill-opacity="0.85" transform="rotate(-10 80.8 436)"/>
<ellipse cx="87.5" cy="464.5" rx="2.4" ry="6" fill="#000" fill-opacity="0.85" transform="rotate(-10 87.5 464.5)"/>
<ellipse cx="96.5" cy="494" rx="2.4" ry="5.5" fill="#000" fill-opacity="0.85" transform="rotate(-10 96.5 494)"/>
</g>
<clipPath id="GCc"><rect x="168.1" y="396" width="131.1" height="131.7"/></clipPath>
<g clip-path="url(#GCc)">
<g filter="url(#fGC)">
<rect x="153.1" y="381" width="31.69" height="31.76" fill="#8f0000"/>
<rect x="184.49" y="381" width="16.69" height="31.76" fill="#a40000"/>
<rect x="200.88" y="381" width="16.69" height="31.76" fill="#ba0000"/>
<rect x="217.26" y="381" width="16.69" height="31.76" fill="#7e0000"/>
<rect x="233.65" y="381" width="16.69" height="31.76" fill="#7d0000"/>
<rect x="250.04" y="381" width="16.69" height="31.76" fill="#790000"/>
<rect x="266.42" y="381" width="16.69" height="31.76" fill="#650000"/>
<rect x="282.81" y="381" width="31.69" height="31.76" fill="#880000"/>
<rect x="153.1" y="412.46" width="31.69" height="16.76" fill="#930000"/>
<rect x="184.49" y="412.46" width="16.69" height="16.76" fill="#960000"/>
<rect x="200.88" y="412.46" width="16.69" height="16.76" fill="#750000"/>
<rect x="217.26" y="412.46" width="16.69" height="16.76" fill="#860000"/>
<rect x="233.65" y="412.46" width="16.69" height="16.76" fill="#6c0000"/>
<rect x="250.04" y="412.46" width="16.69" height="16.76" fill="#720000"/>
<rect x="266.42" y="412.46" width="16.69" height="16.76" fill="#b00000"/>
<rect x="282.81" y="412.46" width="31.69" height="16.76" fill="#960000"/>
<rect x="153.1" y="428.93" width="31.69" height="16.76" fill="#820000"/>
<rect x="184.49" y="428.93" width="16.69" height="16.76" fill="#f00000"/>
<rect x="200.88" y="428.93" width="16.69" height="16.76" fill="#9d0000"/>
<rect x="217.26" y="428.93" width="16.69" height="16.76" fill="#b80000"/>
<rect x="233.65" y="428.93" width="16.69" height="16.76" fill="#6a0000"/>
<rect x="250.04" y="428.93" width="16.69" height="16.76" fill="#860000"/>
<rect x="266.42" y="428.93" width="16.69" height="16.76" fill="#8d0000"/>
<rect x="282.81" y="428.93" width="31.69" height="16.76" fill="#b40000"/>
<rect x="153.1" y="445.39" width="31.69" height="16.76" fill="#aa0000"/>
<rect x="184.49" y="445.39" width="16.69" height="16.76" fill="#ae0000"/>
<rect x="200.88" y="445.39" width="16.69" height="16.76" fill="#be0000"/>
<rect x="217.26" y="445.39" width="16.69" height="16.76" fill="#7f0000"/>
<rect x="233.65" y="445.39" width="16.69" height="16.76" fill="#bb0000"/>
<rect x="250.04" y="445.39" width="16.69" height="16.76" fill="#a20000"/>
<rect x="266.42" y="445.39" width="16.69" height="16.76" fill="#c30000"/>
<rect x="282.81" y="445.39" width="31.69" height="16.76" fill="#a50000"/>
<rect x="153.1" y="461.85" width="31.69" height="16.76" fill="#dd0000"/>
<rect x="184.49" y="461.85" width="16.69" height="16.76" fill="#ff0000"/>
<rect x="200.88" y="461.85" width="16.69" height="16.76" fill="#db0000"/>
<rect x="217.26" y="461.85" width="16.69" height="16.76" fill="#e40000"/>
<rect x="233.65" y="461.85" width="16.69" height="16.76" fill="#a10000"/>
<rect x="250.04" y="461.85" width="16.69" height="16.76" fill="#d90000"/>
<rect x="266.42" y="461.85" width="16.69" height="16.76" fill="#b90000"/>
<rect x="282.81" y="461.85" width="31.69" height="16.76" fill="#cd0000"/>
<rect x="153.1" y="478.31" width="31.69" height="16.76" fill="#ff0000"/>
<rect x="184.49" y="478.31" width="16.69" height="16.76" fill="#ff0000"/>
<rect x="200.88" y="478.31" width="16.69" height="16.76" fill="#ff0000"/>
<rect x="217.26" y="478.31" width="16.69" height="16.76" fill="#c80000"/>
<rect x="233.65" y="478.31" width="16.69" height="16.76" fill="#d60000"/>
<rect x="250.04" y="478.31" width="16.69" height="16.76" fill="#bf0000"/>
<rect x="266.42" y="478.31" width="16.69" height="16.76" fill="#ff0000"/>
<rect x="282.81" y="478.31" width="31.69" height="16.76" fill="#c10000"/>
<rect x="153.1" y="494.77" width="31.69" height="16.76" fill="#ff0000"/>
<rect x="184.49" y="494.77" width="16.69" height="16.76" fill="#ff0000"/>
<rect x="200.88" y="494.77" width="16.69" height="16.76" fill="#ff0000"/>
<rect x="217.26" y="494.77" width="16.69" height="16.76" fill="#ff0000"/>
<rect x="233.65" y="494.77" width="16.69" height="16.76" fill="#e60000"/>
<rect x="250.04" y="494.77" width="16.69" height="16.76" fill="#e80000"/>
<rect x="266.42" y="494.77" width="16.69" height="16.76" fill="#e80000"/>
<rect x="282.81" y="494.77" width="31.69" height="16.76" fill="#f10000"/>
<rect x="153.1" y="511.24" width="31.69" height="31.76" fill="#cc0000"/>
<rect x="184.49" y="511.24" width="16.69" height="31.76" fill="#ea0000"/>
<rect x="200.88" y="511.24" width="16.69" height="31.76" fill="#ff0000"/>
<rect x="217.26" y="511.24" width="16.69" height="31.76" fill="#ff0000"/>
<rect x="233.65" y="511.24" width="16.69" height="31.76" fill="#ce0000"/>
<rect x="250.04" y="511.24" width="16.69" height="31.76" fill="#e00000"/>
<rect x="266.42" y="511.24" width="16.69" height="31.76" fill="#9a0000"/>
<rect x="282.81" y="511.24" width="31.69" height="31.76" fill="#ae0000"/>
</g>
<ellipse cx="225.1" cy="434" rx="2.3" ry="5" fill="#000" fill-opacity="0.85"/>
<ellipse cx="236.1" cy="458" rx="1.8" ry="4" fill="#000" fill-opacity="0.85"/>
</g>
<clipPath id="BLc"><rect x="33" y="557" width="132.5" height="131.5"/></clipPath>
<g clip-path="url(#BLc)">
<g filter="url(#fBL)">
<rect x="18" y="542" width="31.86" height="31.74" fill="#00d300"/>
<rect x="49.56" y="542" width="16.86" height="31.74" fill="#00b900"/>
<rect x="66.12" y="542" width="16.86" height="31.74" fill="#007100"/>
<rect x="82.69" y="542" width="16.86" height="31.74" fill="#004500"/>
<rect x="99.25" y="542" width="16.86" height="31.74" fill="#003a00"/>
<rect x="115.81" y="542" width="16.86" height="31.74" fill="#003c00"/>
<rect x="132.38" y="542" width="16.86" height="31.74" fill="#003900"/>
<rect x="148.94" y="542" width="31.86" height="31.74" fill="#003700"/>
<rect x="18" y="573.44" width="31.86" height="16.74" fill="#00db00"/>
<rect x="49.56" y="573.44" width="16.86" height="16.74" fill="#00d200"/>
<rect x="66.12" y="573.44" width="16.86" height="16.74" fill="#009000"/>
<rect x="82.69" y="573.44" width="16.86" height="16.74" fill="#009d00"/>
<rect x="99.25" y="573.44" width="16.86" height="16.74" fill="#008500"/>
<rect x="115.81" y="573.44" width="16.86" height="16.74" fill="#003600"/>
<rect x="132.38" y="573.44" width="16.86" height="16.74" fill="#004d00"/>
<rect x="148.94" y="573.44" width="31.86" height="16.74" fill="#004b00"/>
<rect x="18" y="589.88" width="31.86" height="16.74" fill="#00ed00"/>
<rect x="49.56" y="589.88" width="16.86" height="16.74" fill="#00cc00"/>
<rect x="66.12" y="589.88" width="16.86" height="16.74" fill="#00c300"/>
<rect x="82.69" y="589.88" width="16.86" height="16.74" fill="#00b200"/>
<rect x="99.25" y="589.88" width="16.86" height="16.74" fill="#00b600"/>
<rect x="115.81" y="589.88" width="16.86" height="16.74" fill="#005b00"/>
<rect x="132.38" y="589.88" width="16.86" height="16.74" fill="#004e00"/>
<rect x="148.94" y="589.88" width="31.86" height="16.74" fill="#005400"/>
<rect x="18" y="606.31" width="31.86" height="16.74" fill="#00e000"/>
<rect x="49.56" y="606.31" width="16.86" height="16.74" fill="#00d700"/>
<rect x="66.12" y="606.31" width="16.86" height="16.74" fill="#009e00"/>
<rect x="82.69" y="606.31" width="16.86" height="16.74" fill="#00af00"/>
<rect x="99.25" y="606.31" width="16.86" height="16.74" fill="#00b100"/>
<rect x="115.81" y="606.31" width="16.86" height="16.74" fill="#006200"/>
<rect x="132.38" y="606.31" width="16.86" height="16.74" fill="#006400"/>
<rect x="148.94" y="606.31" width="31.86" height="16.74" fill="#004b00"/>
<rect x="18" y="622.75" width="31.86" height="16.74" fill="#00f600"/>
<rect x="49.56" y="622.75" width="16.86" height="16.74" fill="#00db00"/>
<rect x="66.12" y="622.75" width="16.86" height="16.74" fill="#00b700"/>
<rect x="82.69" y="622.75" width="16.86" height="16.74" fill="#00e100"/>
<rect x="99.25" y="622.75" width="16.86" height="16.74" fill="#009500"/>
<rect x="115.81" y="622.75" width="16.86" height="16.74" fill="#006200"/>
<rect x="132.38" y="622.75" width="16.86" height="16.74" fill="#005000"/>
<rect x="148.94" y="622.75" width="31.86" height="16.74" fill="#005d00"/>
<rect x="18" y="639.19" width="31.86" height="16.74" fill="#00ef00"/>
<rect x="49.56" y="639.19" width="16.86" height="16.74" fill="#00ec00"/>
<rect x="66.12" y="639.19" width="16.86" height="16.74" fill="#00b700"/>
<rect x="82.69" y="639.19" width="16.86" height="16.74" fill="#00e400"/>
<rect x="99.25" y="639.19" width="16.86" height="16.74" fill="#00ad00"/>
<rect x="115.81" y="639.19" width="16.86" height="16.74" fill="#006900"/>
<rect x="132.38" y="639.19" width="16.86" height="16.74" fill="#006b00"/>
<rect x="148.94" y="639.19" width="31.86" height="16.74" fill="#005800"/>
<rect x="18" y="655.62" width="31.86" height="16.74" fill="#00e400"/>
<rect x="49.56" y="655.62" width="16.86" height="16.74" fill="#00eb00"/>
<rect x="66.12" y="655.62" width="16.86" height="16.74" fill="#00bf00"/>
<rect x="82.69" y="655.62" width="16.86" height="16.74" fill="#00c100"/>
<rect x="99.25" y="655.62" width="16.86" height="16.74" fill="#008d00"/>
<rect x="115.81" y="655.62" width="16.86" height="16.74" fill="#006500"/>
<rect x="132.38" y="655.62" width="16.86" height="16.74" fill="#005900"/>
<rect x="148.94" y="655.62" width="31.86" height="16.74" fill="#004f00"/>
<rect x="18" y="672.06" width="31.86" height="31.74" fill="#00f200"/>
<rect x="49.56" y="672.06" width="16.86" height="31.74" fill="#00e600"/>
<rect x="66.12" y="672.06" width="16.86" height="31.74" fill="#00c200"/>
<rect x="82.69" y="672.06" width="16.86" height="31.74" fill="#00a400"/>
<rect x="99.25" y="672.06" width="16.86" height="31.74" fill="#007e00"/>
<rect x="115.81" y="672.06" width="16.86" height="31.74" fill="#006600"/>
<rect x="132.38" y="672.06" width="16.86" height="31.74" fill="#005900"/>
<rect x="148.94" y="672.06" width="31.86" height="31.74" fill="#005200"/>
</g>
<ellipse cx="127" cy="581" rx="11" ry="3.2" fill="none" stroke="#30e030" stroke-width="0.9" stroke-opacity="0.35" transform="rotate(-18 127 581)"/>
<ellipse cx="76.5" cy="578" rx="1.5" ry="5" fill="#000" fill-opacity="0.85"/>
<ellipse cx="80.7" cy="598" rx="2.6" ry="6.5" fill="#000" fill-opacity="0.85" transform="rotate(-10 80.7 598)"/>
<ellipse cx="87.3" cy="625" rx="2.4" ry="6" fill="#000" fill-opacity="0.85" transform="rotate(-10 87.3 625)"/>
<ellipse cx="96.8" cy="653" rx="2.4" ry="5.5" fill="#000" fill-opacity="0.85" transform="rotate(-10 96.8 653)"/>
</g>
<clipPath id="BCc"><rect x="168.1" y="557" width="131.1" height="131.5"/></clipPath>
<g clip-path="url(#BCc)">
<g filter="url(#fBC)">
<rect x="153.1" y="542" width="31.69" height="31.74" fill="#009e00"/>
<rect x="184.49" y="542" width="16.69" height="31.74" fill="#007600"/>
<rect x="200.88" y="542" width="16.69" height="31.74" fill="#00d500"/>
<rect x="217.26" y="542" width="16.69" height="31.74" fill="#007700"/>
<rect x="233.65" y="542" width="16.69" height="31.74" fill="#00ca00"/>
<rect x="250.04" y="542" width="16.69" height="31.74" fill="#009000"/>
<rect x="266.42" y="542" width="16.69" height="31.74" fill="#00f500"/>
<rect x="282.81" y="542" width="31.69" height="31.74" fill="#00a800"/>
<rect x="153.1" y="573.44" width="31.69" height="16.74" fill="#008100"/>
<rect x="184.49" y="573.44" width="16.69" height="16.74" fill="#00c600"/>
<rect x="200.88" y="573.44" width="16.69" height="16.74" fill="#00ca00"/>
<rect x="217.26" y="573.44" width="16.69" height="16.74" fill="#008f00"/>
<rect x="233.65" y="573.44" width="16.69" height="16.74" fill="#00a900"/>
<rect x="250.04" y="573.44" width="16.69" height="16.74" fill="#009000"/>
<rect x="266.42" y="573.44" width="16.69" height="16.74" fill="#00f400"/>
<rect x="282.81" y="573.44" width="31.69" height="16.74" fill="#00cf00"/>
<rect x="153.1" y="589.88" width="31.69" height="16.74" fill="#00a600"/>
<rect x="184.49" y="589.88" width="16.69" height="16.74" fill="#008300"/>
<rect x="200.88" y="589.88" width="16.69" height="16.74" fill="#00a400"/>
<rect x="217.26" y="589.88" width="16.69" height="16.74" fill="#00ad00"/>
<rect x="233.65" y="589.88" width="16.69" height="16.74" fill="#00ca00"/>
<rect x="250.04" y="589.88" width="16.69" height="16.74" fill="#00ba00"/>
<rect x="266.42" y="589.88" width="16.69" height="16.74" fill="#007f00"/>
<rect x="282.81" y="589.88" width="31.69" height="16.74" fill="#00a700"/>
<rect x="153.1" y="606.31" width="31.69" height="16.74" fill="#006d00"/>
<rect x="184.49" y="606.31" width="16.69" height="16.74" fill="#009000"/>
<rect x="200.88" y="606.31" width="16.69" height="16.74" fill="#00bd00"/>
<rect x="217.26" y="606.31" width="16.69" height="16.74" fill="#009500"/>
<rect x="233.65" y="606.31" width="16.69" height="16.74" fill="#00ab00"/>
<rect x="250.04" y="606.31" width="16.69" height="16.74" fill="#00b400"/>
<rect x="266.42" y="606.31" width="16.69" height="16.74" fill="#00e500"/>
<rect x="282.81" y="606.31" width="31.69" height="16.74" fill="#009c00"/>
<rect x="153.1" y="622.75" width="31.69" height="16.74" fill="#00c900"/>
<rect x="184.49" y="622.75" width="16.69" height="16.74" fill="#009f00"/>
<rect x="200.88" y="622.75" width="16.69" height="16.74" fill="#00fc00"/>
<rect x="217.26" y="622.75" width="16.69" height="16.74" fill="#006b00"/>
<rect x="233.65" y="622.75" width="16.69" height="16.74" fill="#00ab00"/>
<rect x="250.04" y="622.75" width="16.69" height="16.74" fill="#00a400"/>
<rect x="266.42" y="622.75" width="16.69" height="16.74" fill="#00a100"/>
<rect x="282.81" y="622.75" width="31.69" height="16.74" fill="#009d00"/>
<rect x="153.1" y="639.19" width="31.69" height="16.74" fill="#00b000"/>
<rect x="184.49" y="639.19" width="16.69" height="16.74" fill="#009b00"/>
<rect x="200.88" y="639.19" width="16.69" height="16.74" fill="#008d00"/>
<rect x="217.26" y="639.19" width="16.69" height="16.74" fill="#00e200"/>
<rect x="233.65" y="639.19" width="16.69" height="16.74" fill="#00ec00"/>
<rect x="250.04" y="639.19" width="16.69" height="16.74" fill="#009c00"/>
<rect x="266.42" y="639.19" width="16.69" height="16.74" fill="#00be00"/>
<rect x="282.81" y="639.19" width="31.69" height="16.74" fill="#00a600"/>
<rect x="153.1" y="655.62" width="31.69" height="16.74" fill="#009000"/>
<rect x="184.49" y="655.62" width="16.69" height="16.74" fill="#00ff00"/>
<rect x="200.88" y="655.62" width="16.69" height="16.74" fill="#006400"/>
<rect x="217.26" y="655.62" width="16.69" height="16.74" fill="#00e100"/>
<rect x="233.65" y="655.62" width="16.69" height="16.74" fill="#007e00"/>
<rect x="250.04" y="655.62" width="16.69" height="16.74" fill="#00f900"/>
<rect x="266.42" y="655.62" width="16.69" height="16.74" fill="#008400"/>
<rect x="282.81" y="655.62" width="31.69" height="16.74" fill="#00c700"/>
<rect x="153.1" y="672.06" width="31.69" height="31.74" fill="#00c000"/>
<rect x="184.49" y="672.06" width="16.69" height="31.74" fill="#009700"/>
<rect x="200.88" y="672.06" width="16.69" height="31.74" fill="#00c600"/>
<rect x="217.26" y="672.06" width="16.69" height="31.74" fill="#008c00"/>
<rect x="233.65" y="672.06" width="16.69" height="31.74" fill="#009b00"/>
<rect x="250.04" y="672.06" width="16.69" height="31.74" fill="#009e00"/>
<rect x="266.42" y="672.06" width="16.69" height="31.74" fill="#00a400"/>
<rect x="282.81" y="672.06" width="31.69" height="31.74" fill="#009200"/>
</g>
<ellipse cx="225.1" cy="597" rx="2.3" ry="5" fill="#000" fill-opacity="0.85"/>
</g>
<clipPath id="MLc"><rect x="161.3" y="743.1" width="164.7" height="164.9"/></clipPath>
<g clip-path="url(#MLc)">
<g filter="url(#fML)">
<rect x="146.3" y="728.1" width="35.89" height="35.91" fill="#5f6e27"/>
<rect x="181.89" y="728.1" width="20.89" height="35.91" fill="#484d28"/>
<rect x="202.48" y="728.1" width="20.89" height="35.91" fill="#3d3a17"/>
<rect x="223.06" y="728.1" width="20.89" height="35.91" fill="#453117"/>
<rect x="243.65" y="728.1" width="20.89" height="35.91" fill="#4a3b19"/>
<rect x="264.24" y="728.1" width="20.89" height="35.91" fill="#5b3b1a"/>
<rect x="284.82" y="728.1" width="20.89" height="35.91" fill="#55391c"/>
<rect x="305.41" y="728.1" width="35.89" height="35.91" fill="#60492b"/>
<rect x="146.3" y="763.71" width="35.89" height="20.91" fill="#6f9428"/>
<rect x="181.89" y="763.71" width="20.89" height="20.91" fill="#758a31"/>
<rect x="202.48" y="763.71" width="20.89" height="20.91" fill="#5a5936"/>
<rect x="223.06" y="763.71" width="20.89" height="20.91" fill="#e09b43"/>
<rect x="243.65" y="763.71" width="20.89" height="20.91" fill="#7e472f"/>
<rect x="264.24" y="763.71" width="20.89" height="20.91" fill="#7b4619"/>
<rect x="284.82" y="763.71" width="20.89" height="20.91" fill="#5c381b"/>
<rect x="305.41" y="763.71" width="35.89" height="20.91" fill="#7b4127"/>
<rect x="146.3" y="784.33" width="35.89" height="20.91" fill="#6fa833"/>
<rect x="181.89" y="784.33" width="20.89" height="20.91" fill="#67912e"/>
<rect x="202.48" y="784.33" width="20.89" height="20.91" fill="#727d2c"/>
<rect x="223.06" y="784.33" width="20.89" height="20.91" fill="#ff9943"/>
<rect x="243.65" y="784.33" width="20.89" height="20.91" fill="#a95721"/>
<rect x="264.24" y="784.33" width="20.89" height="20.91" fill="#843b2e"/>
<rect x="284.82" y="784.33" width="20.89" height="20.91" fill="#8e582a"/>
<rect x="305.41" y="784.33" width="35.89" height="20.91" fill="#6f442c"/>
<rect x="146.3" y="804.94" width="35.89" height="20.91" fill="#6ba22e"/>
<rect x="181.89" y="804.94" width="20.89" height="20.91" fill="#7d942e"/>
<rect x="202.48" y="804.94" width="20.89" height="20.91" fill="#977930"/>
<rect x="223.06" y="804.94" width="20.89" height="20.91" fill="#af9930"/>
<rect x="243.65" y="804.94" width="20.89" height="20.91" fill="#d86b2a"/>
<rect x="264.24" y="804.94" width="20.89" height="20.91" fill="#9e592e"/>
<rect x="284.82" y="804.94" width="20.89" height="20.91" fill="#7f3e15"/>
<rect x="305.41" y="804.94" width="35.89" height="20.91" fill="#724930"/>
<rect x="146.3" y="825.55" width="35.89" height="20.91" fill="#64a02c"/>
<rect x="181.89" y="825.55" width="20.89" height="20.91" fill="#749648"/>
<rect x="202.48" y="825.55" width="20.89" height="20.91" fill="#a3861d"/>
<rect x="223.06" y="825.55" width="20.89" height="20.91" fill="#966a31"/>
<rect x="243.65" y="825.55" width="20.89" height="20.91" fill="#f87e1a"/>
<rect x="264.24" y="825.55" width="20.89" height="20.91" fill="#9d5736"/>
<rect x="284.82" y="825.55" width="20.89" height="20.91" fill="#824d27"/>
<rect x="305.41" y="825.55" width="35.89" height="20.91" fill="#7e3210"/>
<rect x="146.3" y="846.16" width="35.89" height="20.91" fill="#73a93a"/>
<rect x="181.89" y="846.16" width="20.89" height="20.91" fill="#849530"/>
<rect x="202.48" y="846.16" width="20.89" height="20.91" fill="#847c27"/>
<rect x="223.06" y="846.16" width="20.89" height="20.91" fill="#a6702f"/>
<rect x="243.65" y="846.16" width="20.89" height="20.91" fill="#ff8633"/>
<rect x="264.24" y="846.16" width="20.89" height="20.91" fill="#8b4c2a"/>
<rect x="284.82" y="846.16" width="20.89" height="20.91" fill="#874023"/>
<rect x="305.41" y="846.16" width="35.89" height="20.91" fill="#70472e"/>
<rect x="146.3" y="866.78" width="35.89" height="20.91" fill="#659225"/>
<rect x="181.89" y="866.78" width="20.89" height="20.91" fill="#73942d"/>
<rect x="202.48" y="866.78" width="20.89" height="20.91" fill="#9c7c2c"/>
<rect x="223.06" y="866.78" width="20.89" height="20.91" fill="#796134"/>
<rect x="243.65" y="866.78" width="20.89" height="20.91" fill="#ef6232"/>
<rect x="264.24" y="866.78" width="20.89" height="20.91" fill="#8b413a"/>
<rect x="284.82" y="866.78" width="20.89" height="20.91" fill="#875b24"/>
<rect x="305.41" y="866.78" width="35.89" height="20.91" fill="#744325"/>
<rect x="146.3" y="887.39" width="35.89" height="35.91" fill="#71932a"/>
<rect x="181.89" y="887.39" width="20.89" height="35.91" fill="#818e39"/>
<rect x="202.48" y="887.39" width="20.89" height="35.91" fill="#79712c"/>
<rect x="223.06" y="887.39" width="20.89" height="35.91" fill="#935e27"/>
<rect x="243.65" y="887.39" width="20.89" height="35.91" fill="#ac5525"/>
<rect x="264.24" y="887.39" width="20.89" height="35.91" fill="#894c1e"/>
<rect x="284.82" y="887.39" width="20.89" height="35.91" fill="#3e0c02"/>
<rect x="305.41" y="887.39" width="35.89" height="35.91" fill="#370b01"/>
</g>
<path d="M249.56 803.4Q250.71 801.63 252.52 801.92Q253.29 801.49 253.54 797.47Q252.71 795.57 255.39 792.98Q255.4 790.18 254.95 790.33" stroke="#ffd040" stroke-width="0.67" stroke-opacity="0.34" fill="none" stroke-linecap="round"/>
<path d="M266.53 804.51Q264.53 803.45 262.56 802.14Q261.84 800.37 257.73 799.7" stroke="#ffa020" stroke-width="1" stroke-opacity="0.54" fill="none" stroke-linecap="round"/>
<path d="M247.8 887.41Q245.86 884.74 243.82 884.76Q243.29 884.73 243.38 881Q244.54 880.88 243.38 878.21" stroke="#ffd040" stroke-width="0.95" stroke-opacity="0.51" fill="none" stroke-linecap="round"/>
<path d="M256.81 818.33Q256.72 817.79 260.14 815.65Q263.78 815.53 264.84 817.14Q264.5 818.18 267.99 819.52" stroke="#ffa020" stroke-width="0.91" stroke-opacity="0.47" fill="none" stroke-linecap="round"/>
<path d="M232.21 833.83Q229.89 829.96 229.72 829.42Q227.47 829.24 229.12 826.41Q226.77 825.27 227.24 823.85" stroke="#ff6020" stroke-width="0.88" stroke-opacity="0.63" fill="none" stroke-linecap="round"/>
<path d="M275.02 828.1Q274.41 828.31 270.83 824.9Q268.61 822.72 267.21 821.39Q264.16 822.16 263.59 819.06Q261.96 817.9 259.52 819.92" stroke="#ff6020" stroke-width="0.68" stroke-opacity="0.34" fill="none" stroke-linecap="round"/>
<path d="M221.7 770.65Q222.56 768.86 222.34 766.16Q222.79 762.96 225.69 761.85Q226.39 761.22 229.5 760.65Q232.71 762.18 233.6 763.92" stroke="#ffa020" stroke-width="0.95" stroke-opacity="0.63" fill="none" stroke-linecap="round"/>
<path d="M221.36 779.45Q223.63 781.75 222.03 783.16Q220.66 784.74 220.54 785.17" stroke="#ff6020" stroke-width="0.66" stroke-opacity="0.44" fill="none" stroke-linecap="round"/>
<path d="M258.61 819.84Q260.25 816.63 260.63 814.61Q257.86 814.37 258.98 810.36Q259.95 807.75 257.45 805.67Q257.25 801.96 259.35 800.23" stroke="#ffd040" stroke-width="0.85" stroke-opacity="0.57" fill="none" stroke-linecap="round"/>
<path d="M283.17 891.13Q283.75 889.3 284.31 887.22Q282.68 884.21 281.52 883.74Q280.11 882.38 281.32 881.23Q280.71 878.7 281.5 876.02" stroke="#ff6020" stroke-width="0.84" stroke-opacity="0.57" fill="none" stroke-linecap="round"/>
<path d="M244.99 876.23Q244.98 873.43 241.43 872.55Q243.06 868.82 241.97 867.99" stroke="#ffa020" stroke-width="0.8" stroke-opacity="0.41" fill="none" stroke-linecap="round"/>
<path d="M271.84 813.73Q269.01 816.9 268.95 818.34Q270.87 822.67 269.72 823.26Q268.18 824.42 267.45 825.69" stroke="#ff6020" stroke-width="1.02" stroke-opacity="0.36" fill="none" stroke-linecap="round"/>
<path d="M232.37 828.12Q232.32 829.33 233.34 831.84Q232.56 833.99 232.71 836.01" stroke="#ffd040" stroke-width="0.86" stroke-opacity="0.32" fill="none" stroke-linecap="round"/>
<path d="M252.06 774.34Q250.5 773.65 249.49 773.01Q246.8 773.02 244.05 771.53Q242.29 772.51 237.88 771.83" stroke="#ff6020" stroke-width="0.67" stroke-opacity="0.65" fill="none" stroke-linecap="round"/>
<path d="M257.95 808.07Q257.28 810.56 256.38 811.05Q255.93 812.13 252.44 814.08Q249.27 814.4 248.9 812.93Q248.21 815.89 244.84 815.7" stroke="#ff6020" stroke-width="0.81" stroke-opacity="0.55" fill="none" stroke-linecap="round"/>
<path d="M274.36 874.68Q270.37 874.06 270.05 872.34Q266.9 869.79 264.14 870.83Q261.89 869.49 261.69 870.04Q261.62 872.73 258.09 872.23" stroke="#ffa020" stroke-width="0.93" stroke-opacity="0.32" fill="none" stroke-linecap="round"/>
<path d="M283.15 904Q281.31 901.2 281.17 902.03Q279.17 900.92 276.38 901.16Q274.78 898.37 272.2 898.52" stroke="#ffd040" stroke-width="0.63" stroke-opacity="0.39" fill="none" stroke-linecap="round"/>
<path d="M271.98 857.24Q269.83 856.7 267.95 854.02Q264.97 850.19 263.5 849.67Q259.8 848.96 259.49 848.2" stroke="#ffd040" stroke-width="1.1" stroke-opacity="0.44" fill="none" stroke-linecap="round"/>
<path d="M265.34 789.2Q265.39 788.98 265.56 792.56Q265.47 793.02 265.77 795.07Q265.62 797.82 266.94 797.86" stroke="#ffa020" stroke-width="0.76" stroke-opacity="0.42" fill="none" stroke-linecap="round"/>
<path d="M252.57 776.65Q252.62 779.48 255.56 779.36Q255.79 780.2 255.61 783.68Q255.51 786.46 257.37 787.34Q257.79 789.26 260.3 791.32" stroke="#ff6020" stroke-width="0.8" stroke-opacity="0.36" fill="none" stroke-linecap="round"/>
<path d="M229.29 811.35Q227.89 810.58 226.5 809.21Q225.63 808.72 224.52 805.91Q223.33 804.84 218.96 804.7" stroke="#ff6020" stroke-width="0.82" stroke-opacity="0.63" fill="none" stroke-linecap="round"/>
<path d="M278.16 890.8Q278.75 894.36 275.89 894.5Q274.64 897.61 273.8 898.46Q276.04 898.53 274.5 901.73Q275.36 906.05 273.44 907.22" stroke="#ffa020" stroke-width="0.88" stroke-opacity="0.31" fill="none" stroke-linecap="round"/>
<path d="M257.3 807.09Q259.4 807.46 257.53 809.59Q255.48 811.23 255.49 812.66Q255.92 815.39 257.06 816.93Q259.71 818.28 259.29 818.47" stroke="#ffa020" stroke-width="0.73" stroke-opacity="0.53" fill="none" stroke-linecap="round"/>
<path d="M226.1 778.22Q226.8 778.53 230.03 779.25Q231.05 777.27 235.16 778.65" stroke="#ffa020" stroke-width="0.76" stroke-opacity="0.36" fill="none" stroke-linecap="round"/>
<path d="M239.28 804.56Q241.03 805.03 242.99 804.44Q244.28 804.32 246.34 805.19" stroke="#ffd040" stroke-width="0.63" stroke-opacity="0.62" fill="none" stroke-linecap="round"/>
<path d="M262.92 786.33Q262.08 784.28 259.47 781.46Q258.49 780.11 260.99 776.15Q261.8 776.15 262.88 773.95" stroke="#ffd040" stroke-width="1.06" stroke-opacity="0.59" fill="none" stroke-linecap="round"/>
<path d="M245.61 807.69Q247.19 807.09 248.34 807.89Q252.36 809.25 252.47 812.48Q253.87 813.37 255.28 812.58" stroke="#ffd040" stroke-width="0.69" stroke-opacity="0.35" fill="none" stroke-linecap="round"/>
<path d="M233.67 773.73Q232.78 776.21 233.29 779.53Q231.97 783.87 232.79 785.73Q229.04 786.84 228.47 788.14" stroke="#ffa020" stroke-width="1.02" stroke-opacity="0.62" fill="none" stroke-linecap="round"/>
<path d="M259.49 845.33Q263.18 844.31 262.88 846.99Q264.88 850.78 264.36 852.02Q265.89 852.06 266.45 855.47" stroke="#ffa020" stroke-width="1" stroke-opacity="0.49" fill="none" stroke-linecap="round"/>
<path d="M228.79 789.82Q227.35 791.1 227.05 793.05Q223.64 792.07 221.33 793.52" stroke="#ff6020" stroke-width="0.8" stroke-opacity="0.63" fill="none" stroke-linecap="round"/>
<path d="M232.81 768.92Q232.83 769.57 233.18 772.92Q233.72 775.84 233.15 775.48" stroke="#ffa020" stroke-width="0.89" stroke-opacity="0.62" fill="none" stroke-linecap="round"/>
<path d="M218.61 769.78Q220.54 772.92 220.03 772.32Q223.34 774.72 223.11 773.32" stroke="#ffd040" stroke-width="0.76" stroke-opacity="0.51" fill="none" stroke-linecap="round"/>
<path d="M278.62 856.59Q279.12 855.4 280.39 851.44Q278.42 848.36 278.71 846.08Q276.07 843.16 276.44 842.26Q275.27 839.99 277.78 837.22" stroke="#ff6020" stroke-width="0.62" stroke-opacity="0.59" fill="none" stroke-linecap="round"/>
<path d="M251.89 846.5Q251.72 847.78 252.43 850.11Q252.01 853.6 255.55 853.2Q257.69 855.8 258.87 855.85" stroke="#ffa020" stroke-width="1.01" stroke-opacity="0.44" fill="none" stroke-linecap="round"/>
<path d="M244.37 851.46Q246.53 852.43 246.47 853.31Q246.99 856.02 248.49 855.12" stroke="#ffa020" stroke-width="0.61" stroke-opacity="0.32" fill="none" stroke-linecap="round"/>
<path d="M262.45 857.3Q266.69 860.89 267.28 861.15Q269.5 860.89 268.27 864.11" stroke="#ffd040" stroke-width="0.91" stroke-opacity="0.39" fill="none" stroke-linecap="round"/>
<path d="M240.37 840.7Q237.29 839.71 236.75 841.43Q235.36 839.62 230.82 840.47" stroke="#ffd040" stroke-width="0.66" stroke-opacity="0.49" fill="none" stroke-linecap="round"/>
<path d="M266.1 802.43Q269.72 800.53 270.17 800.61Q273.28 800.74 274.49 801.91Q275.02 801.29 278.39 802.02Q280.08 803.17 280.84 800.65" stroke="#ffd040" stroke-width="1.01" stroke-opacity="0.39" fill="none" stroke-linecap="round"/>
<path d="M266.58 905.37Q266 901.78 263.44 900.42Q262.56 898.17 262.33 897.01Q262.34 893.93 261.45 894.48Q260.39 893.25 260.9 891.83" stroke="#ff6020" stroke-width="0.71" stroke-opacity="0.5" fill="none" stroke-linecap="round"/>
<path d="M258.32 776.77Q258.01 777.9 255.29 777.36Q252.85 779.86 253.26 781.03Q253.54 780.01 250.09 782.54" stroke="#ff6020" stroke-width="1.05" stroke-opacity="0.51" fill="none" stroke-linecap="round"/>
<path d="M256.57 842.35Q253.71 841.11 254.49 839.63Q250.86 839.97 250.77 838.09Q251.42 836.05 248.53 836.88" stroke="#ffa020" stroke-width="0.86" stroke-opacity="0.52" fill="none" stroke-linecap="round"/>
<path d="M267.96 811.57Q264.41 812.57 264.48 810.45Q260.5 809.99 260.47 806.78Q259.37 804.94 256.33 803.48Q253.6 801.83 253 803.87" stroke="#ffd040" stroke-width="1.05" stroke-opacity="0.62" fill="none" stroke-linecap="round"/>
<path d="M273.17 856.18Q276.45 855.12 276.58 857.37Q280.28 858.04 280.75 855.97Q283.28 853.36 282.5 853.22" stroke="#ffd040" stroke-width="0.76" stroke-opacity="0.38" fill="none" stroke-linecap="round"/>
<path d="M275.41 852.8Q275.57 850.75 279.67 852.5Q283.72 851.93 284.68 849.04Q286.74 846.9 288.28 847.38" stroke="#ffa020" stroke-width="0.61" stroke-opacity="0.34" fill="none" stroke-linecap="round"/>
<path d="M265.7 858.04Q265.71 857.27 268.13 852.87Q271.22 852.27 271.26 849.63" stroke="#ff6020" stroke-width="1.07" stroke-opacity="0.34" fill="none" stroke-linecap="round"/>
<path d="M244.27 883.49Q241.66 882.41 238.91 884.55Q238.2 887.3 236.97 888.34" stroke="#ffa020" stroke-width="0.89" stroke-opacity="0.4" fill="none" stroke-linecap="round"/>
<path d="M233.12 829.43Q232.81 831.85 232.56 831.89Q231.62 834.78 231.89 835.01" stroke="#ffd040" stroke-width="0.89" stroke-opacity="0.36" fill="none" stroke-linecap="round"/>
<path d="M253.74 760.34Q254.76 760.62 252.67 764.2Q253.32 765.52 256.33 768.74" stroke="#ff6020" stroke-width="0.85" stroke-opacity="0.43" fill="none" stroke-linecap="round"/>
<path d="M237.21 830.75Q235.85 827 235.87 826.01Q236.98 821.86 236.15 820.36Q237.63 817.15 238.48 816.93Q239.5 815.26 242.62 816.07" stroke="#ffd040" stroke-width="0.98" stroke-opacity="0.59" fill="none" stroke-linecap="round"/>
<path d="M262.97 862.38Q263.47 861.48 266.67 861.95Q268.67 861.55 268.83 864.33Q271.42 866.39 274.93 864.57Q277.07 864.69 279.73 867.23" stroke="#ff6020" stroke-width="1.06" stroke-opacity="0.4" fill="none" stroke-linecap="round"/>
<path d="M233.2 779.78Q235.03 777.83 236.03 776.64Q238.39 776.88 241.31 776.53Q242.84 776.95 246.54 775.59" stroke="#ff6020" stroke-width="0.95" stroke-opacity="0.6" fill="none" stroke-linecap="round"/>
<path d="M273.23 848.89Q273.08 847.67 269.78 848.5Q266.68 848.88 266.34 846.46Q265.81 847.42 262.41 848.23" stroke="#ff6020" stroke-width="1.07" stroke-opacity="0.36" fill="none" stroke-linecap="round"/>
<path d="M269.09 871.42Q267.85 873.24 268.6 877.31Q265.23 878.13 264.27 880.17Q260.87 881.83 259.82 883.69" stroke="#ffa020" stroke-width="0.92" stroke-opacity="0.59" fill="none" stroke-linecap="round"/>
<path d="M247.22 810.77Q249.06 809.95 250.79 805.68Q253.29 802.94 254.68 802.18" stroke="#ffd040" stroke-width="0.8" stroke-opacity="0.3" fill="none" stroke-linecap="round"/>
<path d="M230.24 812.45Q227.36 811 226.06 810.36Q227.54 809.2 225.07 804.36Q225.22 801.22 221.93 801.52" stroke="#ff6020" stroke-width="0.7" stroke-opacity="0.52" fill="none" stroke-linecap="round"/>
<path d="M280 877.43Q281.3 879.75 280.07 882.33Q278.42 885.46 279.77 885.92Q277.49 886.78 277.07 888.63Q274.79 888.03 275.02 891.41" stroke="#ff6020" stroke-width="1" stroke-opacity="0.43" fill="none" stroke-linecap="round"/>
<path d="M269.08 795.92Q266.15 797.09 264.31 794.84Q263.37 798.21 259.81 798.34Q260.63 801.55 258.79 803.69Q261.5 805.21 260.6 805.49" stroke="#ffd040" stroke-width="0.9" stroke-opacity="0.5" fill="none" stroke-linecap="round"/>
<path d="M249.34 843.61Q251.46 842.66 251.28 838.99Q252.54 838.81 253.57 836.7" stroke="#ffd040" stroke-width="0.94" stroke-opacity="0.34" fill="none" stroke-linecap="round"/>
<path d="M253.07 822.97Q255.02 823.2 256.66 820.53Q257.79 820.88 259.18 820.74Q260.48 822.14 262.78 824.2Q266.37 824.49 268.86 823.68" stroke="#ffa020" stroke-width="0.61" stroke-opacity="0.32" fill="none" stroke-linecap="round"/>
<path d="M241.04 867.96Q241.44 871.78 243.12 872.72Q244.09 875.53 244.86 876.18" stroke="#ffa020" stroke-width="0.74" stroke-opacity="0.42" fill="none" stroke-linecap="round"/>
<path d="M242.62 798.13Q244.05 795.39 245.54 795.71Q245.6 797.18 248.65 794.87Q249.3 796.02 250.76 796.75Q251.64 796.73 253.34 799.84" stroke="#ffa020" stroke-width="0.69" stroke-opacity="0.62" fill="none" stroke-linecap="round"/>
<path d="M261.55 851.61Q263.16 850.26 263.76 847.35Q264.37 846.44 267.29 844.19Q267.76 842.49 271.41 843.33Q274.31 844.4 273.9 844.22" stroke="#ffd040" stroke-width="1.04" stroke-opacity="0.35" fill="none" stroke-linecap="round"/>
<path d="M254.57 838.46Q253.3 837.4 255.07 833.86Q256.75 830.55 258.85 831.13Q262.39 832.21 262.42 829.44" stroke="#ffd040" stroke-width="0.98" stroke-opacity="0.49" fill="none" stroke-linecap="round"/>
<path d="M284.37 857.68Q285.3 859.9 286.24 860.76Q283.64 861.69 284.62 866.36" stroke="#ffa020" stroke-width="0.61" stroke-opacity="0.53" fill="none" stroke-linecap="round"/>
<path d="M265.01 812.02Q262.29 811.64 259.04 812.92Q258.9 813.25 257.13 810.96Q258.05 810.7 255.14 807.79" stroke="#ff6020" stroke-width="1.02" stroke-opacity="0.5" fill="none" stroke-linecap="round"/>
<path d="M225.1 805.14Q222.29 801.55 223.47 799.85Q224.48 799.38 222.96 795.8" stroke="#ffa020" stroke-width="0.74" stroke-opacity="0.35" fill="none" stroke-linecap="round"/>
<path d="M249.34 832.14Q249.57 830.44 246.35 830.86Q244.48 828.04 242.89 827.57Q243.53 825.77 241.84 824.28" stroke="#ffa020" stroke-width="0.87" stroke-opacity="0.42" fill="none" stroke-linecap="round"/>
<path d="M247.12 785.9Q247.26 783.03 249.88 782.63Q250.75 782.17 252.72 781.2Q253.14 778.53 256.36 779.52" stroke="#ffd040" stroke-width="0.79" stroke-opacity="0.34" fill="none" stroke-linecap="round"/>
<path d="M265.51 872.93Q267.06 871.98 267.75 874.28Q268.48 876.2 268.68 877.42Q266.91 877.2 266.91 880.21Q265.92 880.26 264.07 883.26" stroke="#ffa020" stroke-width="0.77" stroke-opacity="0.65" fill="none" stroke-linecap="round"/>
<path d="M222.39 781.87Q220.97 782.45 220.74 779.8Q218.94 778 220.75 773.91" stroke="#ff6020" stroke-width="0.97" stroke-opacity="0.57" fill="none" stroke-linecap="round"/>
<path d="M240.92 759.76Q238 762.27 236.69 764.05Q236.01 765.75 236.74 769.39" stroke="#ffa020" stroke-width="0.79" stroke-opacity="0.43" fill="none" stroke-linecap="round"/>
<path d="M263.19 804.62Q265.01 800.69 267.75 800.58Q268.4 799.82 270.47 801.19Q271.26 802.06 273.4 801.05" stroke="#ffa020" stroke-width="0.96" stroke-opacity="0.49" fill="none" stroke-linecap="round"/>
<path d="M239.94 790.3Q239.25 792.31 240.47 796.42Q240.64 796.68 241.49 799.65" stroke="#ff6020" stroke-width="1.09" stroke-opacity="0.35" fill="none" stroke-linecap="round"/>
<path d="M266.68 816Q267.12 817.34 264.91 818.46Q265.8 818.74 263.39 821.27Q262.64 824.62 264.45 825.8Q264.69 825.88 268.29 829.26" stroke="#ff6020" stroke-width="0.97" stroke-opacity="0.57" fill="none" stroke-linecap="round"/>
<path d="M271.63 846.73Q274.1 846.9 274.71 847.81Q278.17 845.79 279.14 845.09Q281.9 843.66 284.71 846.1" stroke="#ffd040" stroke-width="0.67" stroke-opacity="0.53" fill="none" stroke-linecap="round"/>
<path d="M276.96 837.9Q278.23 834.51 279.36 834.16Q283.24 832.51 284.2 832.3Q287.33 829.08 288.45 829.36" stroke="#ffa020" stroke-width="1.08" stroke-opacity="0.47" fill="none" stroke-linecap="round"/>
<path d="M245.84 830.58Q244.9 830.2 243 832.48Q243.2 831.4 239.74 834.16" stroke="#ff6020" stroke-width="0.97" stroke-opacity="0.39" fill="none" stroke-linecap="round"/>
<path d="M237.71 782.41Q233.02 780.66 231.97 781.93Q228.92 780.23 227.64 781.56Q226.39 784.2 224.41 783.96" stroke="#ffa020" stroke-width="0.93" stroke-opacity="0.46" fill="none" stroke-linecap="round"/>
<path d="M275.58 841.55Q276.6 838.92 275.41 837.57Q274.53 837.91 274.17 834.4" stroke="#ffd040" stroke-width="1.01" stroke-opacity="0.6" fill="none" stroke-linecap="round"/>
<path d="M265.5 803.19Q264.47 802.83 262.09 804.66Q262.41 805.64 258.75 807" stroke="#ffa020" stroke-width="1" stroke-opacity="0.61" fill="none" stroke-linecap="round"/>
<path d="M198.64 901.78Q201.19 901.9 201.24 901.96Q202.32 900.18 203.49 899.28Q205.07 899.07 207.42 898.97Q209.58 899.57 211.58 900.38" stroke="#ffb030" stroke-width="0.89" stroke-opacity="0.5" fill="none" stroke-linecap="round"/>
<path d="M177.3 877.37Q176.28 877.1 177.38 880.14Q176.19 883.75 177.35 884.89Q175.33 887.7 177 888.9" stroke="#e0c040" stroke-width="0.98" stroke-opacity="0.47" fill="none" stroke-linecap="round"/>
<path d="M208.35 801.92Q209.7 800.4 210.79 800.37Q212.41 800.41 214.06 799.45" stroke="#ffb030" stroke-width="0.66" stroke-opacity="0.46" fill="none" stroke-linecap="round"/>
<path d="M190.16 808.44Q194.36 807.31 194.77 808.88Q195.37 811.12 196.93 810.66Q195.63 812.87 197.21 814.57Q196.88 816.51 199.99 816.72" stroke="#e0c040" stroke-width="0.63" stroke-opacity="0.33" fill="none" stroke-linecap="round"/>
<path d="M184.42 806.81Q182.27 807.21 181.19 806.44Q180.31 809.27 178.49 809.03Q177.45 808.07 173.87 809.72Q170.75 809 170.66 810.67" stroke="#e0c040" stroke-width="0.8" stroke-opacity="0.44" fill="none" stroke-linecap="round"/>
<path d="M186.75 763.22Q185.6 759.91 184.34 759.88Q184.46 757.58 182.04 755.64Q179.19 754.26 179.45 755.19" stroke="#e0c040" stroke-width="0.88" stroke-opacity="0.48" fill="none" stroke-linecap="round"/>
<path d="M165.03 803.14Q162.96 804.24 160.09 802.78Q157.43 802.16 156.18 802.48" stroke="#e0c040" stroke-width="0.6" stroke-opacity="0.48" fill="none" stroke-linecap="round"/>
<path d="M198.14 791.98Q198.89 790.46 196.83 788.81Q198.98 786.24 198.87 785.3Q198.15 784.83 198.47 780.7Q196.61 779.08 196.42 776.56" stroke="#ffb030" stroke-width="0.93" stroke-opacity="0.48" fill="none" stroke-linecap="round"/>
<path d="M172.6 863.99Q173.08 868.01 170.95 868.13Q168.66 870.92 168.22 869.76Q166.19 870.53 166.19 873.3" stroke="#ffb030" stroke-width="0.7" stroke-opacity="0.54" fill="none" stroke-linecap="round"/>
<path d="M175.64 819.4Q175.9 818.46 175.31 814.6Q172.6 814.4 173.59 810.84Q172.77 809.85 173.02 806.23" stroke="#e0c040" stroke-width="0.89" stroke-opacity="0.48" fill="none" stroke-linecap="round"/>
<path d="M187.61 785.14Q187.74 785.62 187.59 789.45Q187.14 793.52 189.1 794.02Q187.48 793.98 188.44 796.58" stroke="#ffb030" stroke-width="0.72" stroke-opacity="0.37" fill="none" stroke-linecap="round"/>
<path d="M183.95 866.71Q186.28 866.16 186.51 869.12Q188.39 870.66 189.35 872.89" stroke="#ffb030" stroke-width="0.83" stroke-opacity="0.57" fill="none" stroke-linecap="round"/>
<path d="M182.36 881.26Q180.29 878.66 179.9 878.32Q180.89 877.03 179.28 874.56Q176.9 872.73 178.25 871.94Q177.51 870.54 175.18 868.17" stroke="#e0c040" stroke-width="0.93" stroke-opacity="0.3" fill="none" stroke-linecap="round"/>
<path d="M178.8 795.83Q180.81 798.72 182.21 798.14Q185.15 799.78 186.15 800.07" stroke="#e0c040" stroke-width="0.97" stroke-opacity="0.5" fill="none" stroke-linecap="round"/>
<path d="M189.81 766.1Q188.92 767 187.35 769.82Q188.41 771.87 186.59 774.36" stroke="#e0c040" stroke-width="0.8" stroke-opacity="0.5" fill="none" stroke-linecap="round"/>
<path d="M189.91 767.19Q190.54 764.42 192.67 764.47Q195.6 766.5 196.14 764.87" stroke="#e0c040" stroke-width="0.61" stroke-opacity="0.52" fill="none" stroke-linecap="round"/>
<path d="M196.19 794.93Q196.2 793.18 197.79 792.95Q197.2 790.03 198.08 790.36Q200.66 790.01 200.29 788.22Q202.35 787.38 201.08 784.51" stroke="#ffb030" stroke-width="0.96" stroke-opacity="0.43" fill="none" stroke-linecap="round"/>
<path d="M185.64 767.16Q186.62 763.62 188.1 763.69Q191.49 761.79 190.96 761.62Q190.81 757.98 193.36 757.91Q193.03 754.77 194.24 753.42" stroke="#e0c040" stroke-width="0.76" stroke-opacity="0.36" fill="none" stroke-linecap="round"/>
<path d="M192.42 876.23Q191.46 876.41 192.58 873.34Q195.22 872.35 195.25 870.95Q197 869.06 197.85 868.25" stroke="#e0c040" stroke-width="0.85" stroke-opacity="0.44" fill="none" stroke-linecap="round"/>
<path d="M197.73 874.46Q197.45 873.22 197.76 870.57Q195.52 869.39 196.26 866.01" stroke="#e0c040" stroke-width="0.78" stroke-opacity="0.6" fill="none" stroke-linecap="round"/>
<path d="M184.52 782.12Q183.37 779.69 180.07 780.3Q179.95 778.54 178.51 777.21" stroke="#e0c040" stroke-width="0.79" stroke-opacity="0.46" fill="none" stroke-linecap="round"/>
<path d="M194.29 867.61Q196.72 867.74 197.49 864.86Q196 863.29 198.07 862.17Q196.16 862.85 196.27 860.16Q195.96 861.19 193.98 858.82" stroke="#e0c040" stroke-width="0.99" stroke-opacity="0.52" fill="none" stroke-linecap="round"/>
<path d="M206.56 898.42Q208.97 898.69 209.28 895.92Q211.81 895.21 212.81 894.38" stroke="#ffb030" stroke-width="0.98" stroke-opacity="0.46" fill="none" stroke-linecap="round"/>
<path d="M189.5 797.46Q188.08 798.3 187.08 801.69Q187.37 801.77 184.49 802.99Q183.01 802.3 180.69 803.4Q179.15 804.17 175.91 803.42" stroke="#ffb030" stroke-width="0.71" stroke-opacity="0.58" fill="none" stroke-linecap="round"/>
<path d="M171.68 883.19Q171.73 882.7 174.29 882.32Q176 883.56 178.2 882.66Q177.93 882.45 180.71 882.11" stroke="#e0c040" stroke-width="0.83" stroke-opacity="0.43" fill="none" stroke-linecap="round"/>
<path d="M178.8 774.97Q175.58 773.85 175.33 773.91Q175.21 774.02 173.73 770.83Q171.56 772.09 170.35 769.73Q170.32 768.91 168.07 766.34" stroke="#e0c040" stroke-width="0.78" stroke-opacity="0.38" fill="none" stroke-linecap="round"/>
<path d="M210.75 779.32Q209.49 779.09 211.71 776.72Q213.89 774.96 213.08 772.84Q215.85 771.4 214.96 770.88Q216.32 767.88 217.81 767.01" stroke="#e0c040" stroke-width="0.96" stroke-opacity="0.47" fill="none" stroke-linecap="round"/>
<path d="M178.04 835.4Q174.99 837.64 173.87 836.31Q170.87 834.42 170.46 836.01Q169.47 832.66 168.45 832.89Q165.55 833.42 164.65 830.08" stroke="#ffb030" stroke-width="0.92" stroke-opacity="0.5" fill="none" stroke-linecap="round"/>
<path d="M207.56 846.61Q205.54 846.58 205 846.56Q203.32 847.15 203.01 848.89" stroke="#ffb030" stroke-width="0.91" stroke-opacity="0.35" fill="none" stroke-linecap="round"/>
<path d="M164.7 787.71Q167.5 786.94 166.42 785.75Q166.41 783.18 168.76 783.49Q170.14 782.03 170.7 781.75Q171.51 784.01 174.24 782.46" stroke="#ffb030" stroke-width="0.89" stroke-opacity="0.5" fill="none" stroke-linecap="round"/>
<path d="M175.39 785.63Q175.67 784.07 172.88 785.57Q172.41 787.26 170.39 785.1Q168.97 784.18 165.95 783.02Q162.89 781.83 162.8 779.63" stroke="#e0c040" stroke-width="0.95" stroke-opacity="0.55" fill="none" stroke-linecap="round"/>
<path d="M171.53 830.81Q170.58 829.03 172.35 827.93Q174.12 824.53 173.49 825.04Q173.98 824.83 174.18 821.87Q173.4 820.52 174.79 818.59" stroke="#e0c040" stroke-width="0.74" stroke-opacity="0.35" fill="none" stroke-linecap="round"/>
<path d="M179.69 790.2Q181.9 786.28 180.81 785.88Q183.07 782.28 183.3 782.62" stroke="#ffb030" stroke-width="0.79" stroke-opacity="0.41" fill="none" stroke-linecap="round"/>
<path d="M210.82 833.52Q210.87 834.01 213.38 834.28Q213.92 833.4 216 833.94Q214.88 833.69 217.7 831.25" stroke="#e0c040" stroke-width="0.86" stroke-opacity="0.37" fill="none" stroke-linecap="round"/>
<path d="M178.63 889.29Q182.4 888.8 182.56 888.36Q185.88 888.83 186.81 888.88Q187.78 888.32 189.94 889.6Q191.94 888.27 193.66 889.01" stroke="#e0c040" stroke-width="0.69" stroke-opacity="0.39" fill="none" stroke-linecap="round"/>
<ellipse cx="283.3" cy="768.1" rx="14" ry="3.8" fill="none" stroke="#e0a0ff" stroke-width="1" stroke-opacity="0.45" transform="rotate(-18 283.3 768.1)"/>
<ellipse cx="219.1" cy="764.8" rx="1.5" ry="5.5" fill="#000" fill-opacity="0.85"/>
<ellipse cx="225.2" cy="787.7" rx="2.6" ry="6.5" fill="#000" fill-opacity="0.85" transform="rotate(-10 225.2 787.7)"/>
<ellipse cx="233.6" cy="822.6" rx="2.8" ry="7" fill="#000" fill-opacity="0.85" transform="rotate(-10 233.6 822.6)"/>
<ellipse cx="244.4" cy="857.6" rx="2.8" ry="7" fill="#000" fill-opacity="0.85" transform="rotate(-10 244.4 857.6)"/>
</g>
<clipPath id="MCc"><rect x="329.5" y="743.1" width="165.4" height="164.9"/></clipPath>
<g clip-path="url(#MCc)">
<g filter="url(#fMC)">
<rect x="314.5" y="728.1" width="35.98" height="35.91" fill="#7e8022"/>
<rect x="350.18" y="728.1" width="20.98" height="35.91" fill="#96892c"/>
<rect x="370.85" y="728.1" width="20.98" height="35.91" fill="#99751f"/>
<rect x="391.52" y="728.1" width="20.98" height="35.91" fill="#857532"/>
<rect x="412.2" y="728.1" width="20.98" height="35.91" fill="#899b0b"/>
<rect x="432.88" y="728.1" width="20.98" height="35.91" fill="#7c761e"/>
<rect x="453.55" y="728.1" width="20.98" height="35.91" fill="#7a9c07"/>
<rect x="474.23" y="728.1" width="35.98" height="35.91" fill="#8a7b1d"/>
<rect x="314.5" y="763.71" width="35.98" height="20.91" fill="#968c28"/>
<rect x="350.18" y="763.71" width="20.98" height="20.91" fill="#916620"/>
<rect x="370.85" y="763.71" width="20.98" height="20.91" fill="#9e8f14"/>
<rect x="391.52" y="763.71" width="20.98" height="20.91" fill="#8a692e"/>
<rect x="412.2" y="763.71" width="20.98" height="20.91" fill="#7f692c"/>
<rect x="432.88" y="763.71" width="20.98" height="20.91" fill="#8d8126"/>
<rect x="453.55" y="763.71" width="20.98" height="20.91" fill="#8a861e"/>
<rect x="474.23" y="763.71" width="35.98" height="20.91" fill="#868223"/>
<rect x="314.5" y="784.33" width="35.98" height="20.91" fill="#b7820e"/>
<rect x="350.18" y="784.33" width="20.98" height="20.91" fill="#b37917"/>
<rect x="370.85" y="784.33" width="20.98" height="20.91" fill="#7a7600"/>
<rect x="391.52" y="784.33" width="20.98" height="20.91" fill="#8c872f"/>
<rect x="412.2" y="784.33" width="20.98" height="20.91" fill="#939a2c"/>
<rect x="432.88" y="784.33" width="20.98" height="20.91" fill="#768c1c"/>
<rect x="453.55" y="784.33" width="20.98" height="20.91" fill="#817729"/>
<rect x="474.23" y="784.33" width="35.98" height="20.91" fill="#96770e"/>
<rect x="314.5" y="804.94" width="35.98" height="20.91" fill="#a07e0c"/>
<rect x="350.18" y="804.94" width="20.98" height="20.91" fill="#9c972c"/>
<rect x="370.85" y="804.94" width="20.98" height="20.91" fill="#b27c2f"/>
<rect x="391.52" y="804.94" width="20.98" height="20.91" fill="#617009"/>
<rect x="412.2" y="804.94" width="20.98" height="20.91" fill="#6e7d7a"/>
<rect x="432.88" y="804.94" width="20.98" height="20.91" fill="#9f740f"/>
<rect x="453.55" y="804.94" width="20.98" height="20.91" fill="#72831a"/>
<rect x="474.23" y="804.94" width="35.98" height="20.91" fill="#8e861c"/>
<rect x="314.5" y="825.55" width="35.98" height="20.91" fill="#b17e28"/>
<rect x="350.18" y="825.55" width="20.98" height="20.91" fill="#b77b18"/>
<rect x="370.85" y="825.55" width="20.98" height="20.91" fill="#a59216"/>
<rect x="391.52" y="825.55" width="20.98" height="20.91" fill="#a78830"/>
<rect x="412.2" y="825.55" width="20.98" height="20.91" fill="#90751d"/>
<rect x="432.88" y="825.55" width="20.98" height="20.91" fill="#906c33"/>
<rect x="453.55" y="825.55" width="20.98" height="20.91" fill="#9c8e27"/>
<rect x="474.23" y="825.55" width="35.98" height="20.91" fill="#9d872a"/>
<rect x="314.5" y="846.16" width="35.98" height="20.91" fill="#b87622"/>
<rect x="350.18" y="846.16" width="20.98" height="20.91" fill="#dd9d11"/>
<rect x="370.85" y="846.16" width="20.98" height="20.91" fill="#a09435"/>
<rect x="391.52" y="846.16" width="20.98" height="20.91" fill="#936923"/>
<rect x="412.2" y="846.16" width="20.98" height="20.91" fill="#5f6409"/>
<rect x="432.88" y="846.16" width="20.98" height="20.91" fill="#a4912c"/>
<rect x="453.55" y="846.16" width="20.98" height="20.91" fill="#8f8811"/>
<rect x="474.23" y="846.16" width="35.98" height="20.91" fill="#8f8c10"/>
<rect x="314.5" y="866.78" width="35.98" height="20.91" fill="#e18e12"/>
<rect x="350.18" y="866.78" width="20.98" height="20.91" fill="#ce6510"/>
<rect x="370.85" y="866.78" width="20.98" height="20.91" fill="#b57011"/>
<rect x="391.52" y="866.78" width="20.98" height="20.91" fill="#9f6d39"/>
<rect x="412.2" y="866.78" width="20.98" height="20.91" fill="#7c8114"/>
<rect x="432.88" y="866.78" width="20.98" height="20.91" fill="#967e1a"/>
<rect x="453.55" y="866.78" width="20.98" height="20.91" fill="#a07e27"/>
<rect x="474.23" y="866.78" width="35.98" height="20.91" fill="#948208"/>
<rect x="314.5" y="887.39" width="35.98" height="35.91" fill="#d46e1a"/>
<rect x="350.18" y="887.39" width="20.98" height="35.91" fill="#bb7714"/>
<rect x="370.85" y="887.39" width="20.98" height="35.91" fill="#de6e09"/>
<rect x="391.52" y="887.39" width="20.98" height="35.91" fill="#a97622"/>
<rect x="412.2" y="887.39" width="20.98" height="35.91" fill="#a16828"/>
<rect x="432.88" y="887.39" width="20.98" height="35.91" fill="#9b7b28"/>
<rect x="453.55" y="887.39" width="20.98" height="35.91" fill="#534700"/>
<rect x="474.23" y="887.39" width="35.98" height="35.91" fill="#513700"/>
</g>
<g filter="url(#bl2)" fill="#6a6ae6" fill-opacity="0.8"><ellipse cx="392.2" cy="799.7" rx="8.5" ry="9.5" fill="#6a6ae6" fill-opacity="0.8"/><ellipse cx="413.8" cy="825" rx="6.5" ry="9.5" fill="#6a6ae6" fill-opacity="0.8" transform="rotate(15 413.8 825)"/><ellipse cx="416.2" cy="863.6" rx="9.5" ry="10.5" fill="#6a6ae6" fill-opacity="0.8"/></g>
<ellipse cx="399.5" cy="793.7" rx="2.5" ry="6" fill="#000" fill-opacity="0.8" transform="rotate(-10 399.5 793.7)"/>
<ellipse cx="418.5" cy="820.1" rx="1.6" ry="5" fill="#000" fill-opacity="0.8" transform="rotate(-10 418.5 820.1)"/>
</g>
<rect x="137.7" y="522.5" width="25.3" height="2.5" fill="#fff"/>
<rect x="272.2" y="522.5" width="24.8" height="2.5" fill="#fff"/>
<rect x="291.2" y="900.9" width="31.8" height="3.5" fill="#fff"/>
<rect x="460.1" y="900.9" width="31.6" height="3.5" fill="#fff"/>
<text x="99.65" y="388" font-size="21.5" font-weight="bold" text-anchor="middle" dominant-baseline="alphabetic" fill="#00ffff" textLength="68.8" lengthAdjust="spacingAndGlyphs">LIPUS</text>
<text x="231.65" y="387.8" font-size="21.5" font-weight="bold" text-anchor="middle" dominant-baseline="alphabetic" fill="#ff0000" textLength="80.9" lengthAdjust="spacingAndGlyphs">CTROL</text>
<text x="245.25" y="740" font-size="21.5" font-weight="bold" text-anchor="middle" dominant-baseline="alphabetic" fill="#00ffff" textLength="68.2" lengthAdjust="spacingAndGlyphs">LIPUS</text>
<text x="411.7" y="740" font-size="21.5" font-weight="bold" text-anchor="middle" dominant-baseline="alphabetic" fill="#ff0000" textLength="80.4" lengthAdjust="spacingAndGlyphs">CTROL</text>
<text transform="translate(28.6 461) rotate(-90)" x="0" y="0" font-size="21.5" font-weight="bold" text-anchor="middle" dominant-baseline="alphabetic" fill="#1a1a1a">GFAP</text>
<text transform="translate(29.3 622.3) rotate(-90)" x="0" y="0" font-size="21.5" font-weight="bold" text-anchor="middle" dominant-baseline="alphabetic" fill="#1a1a1a" textLength="58.1" lengthAdjust="spacingAndGlyphs">BDNF</text>
<text transform="translate(158.1 824.85) rotate(-90)" font-size="17.5" font-weight="bold" text-anchor="middle" textLength="139.2" lengthAdjust="spacingAndGlyphs"><tspan fill="#0000ff">DAPI </tspan><tspan fill="#00b400">BDNF </tspan><tspan fill="#ff0000">GFAP</tspan></text>
</svg>
</body></html>
